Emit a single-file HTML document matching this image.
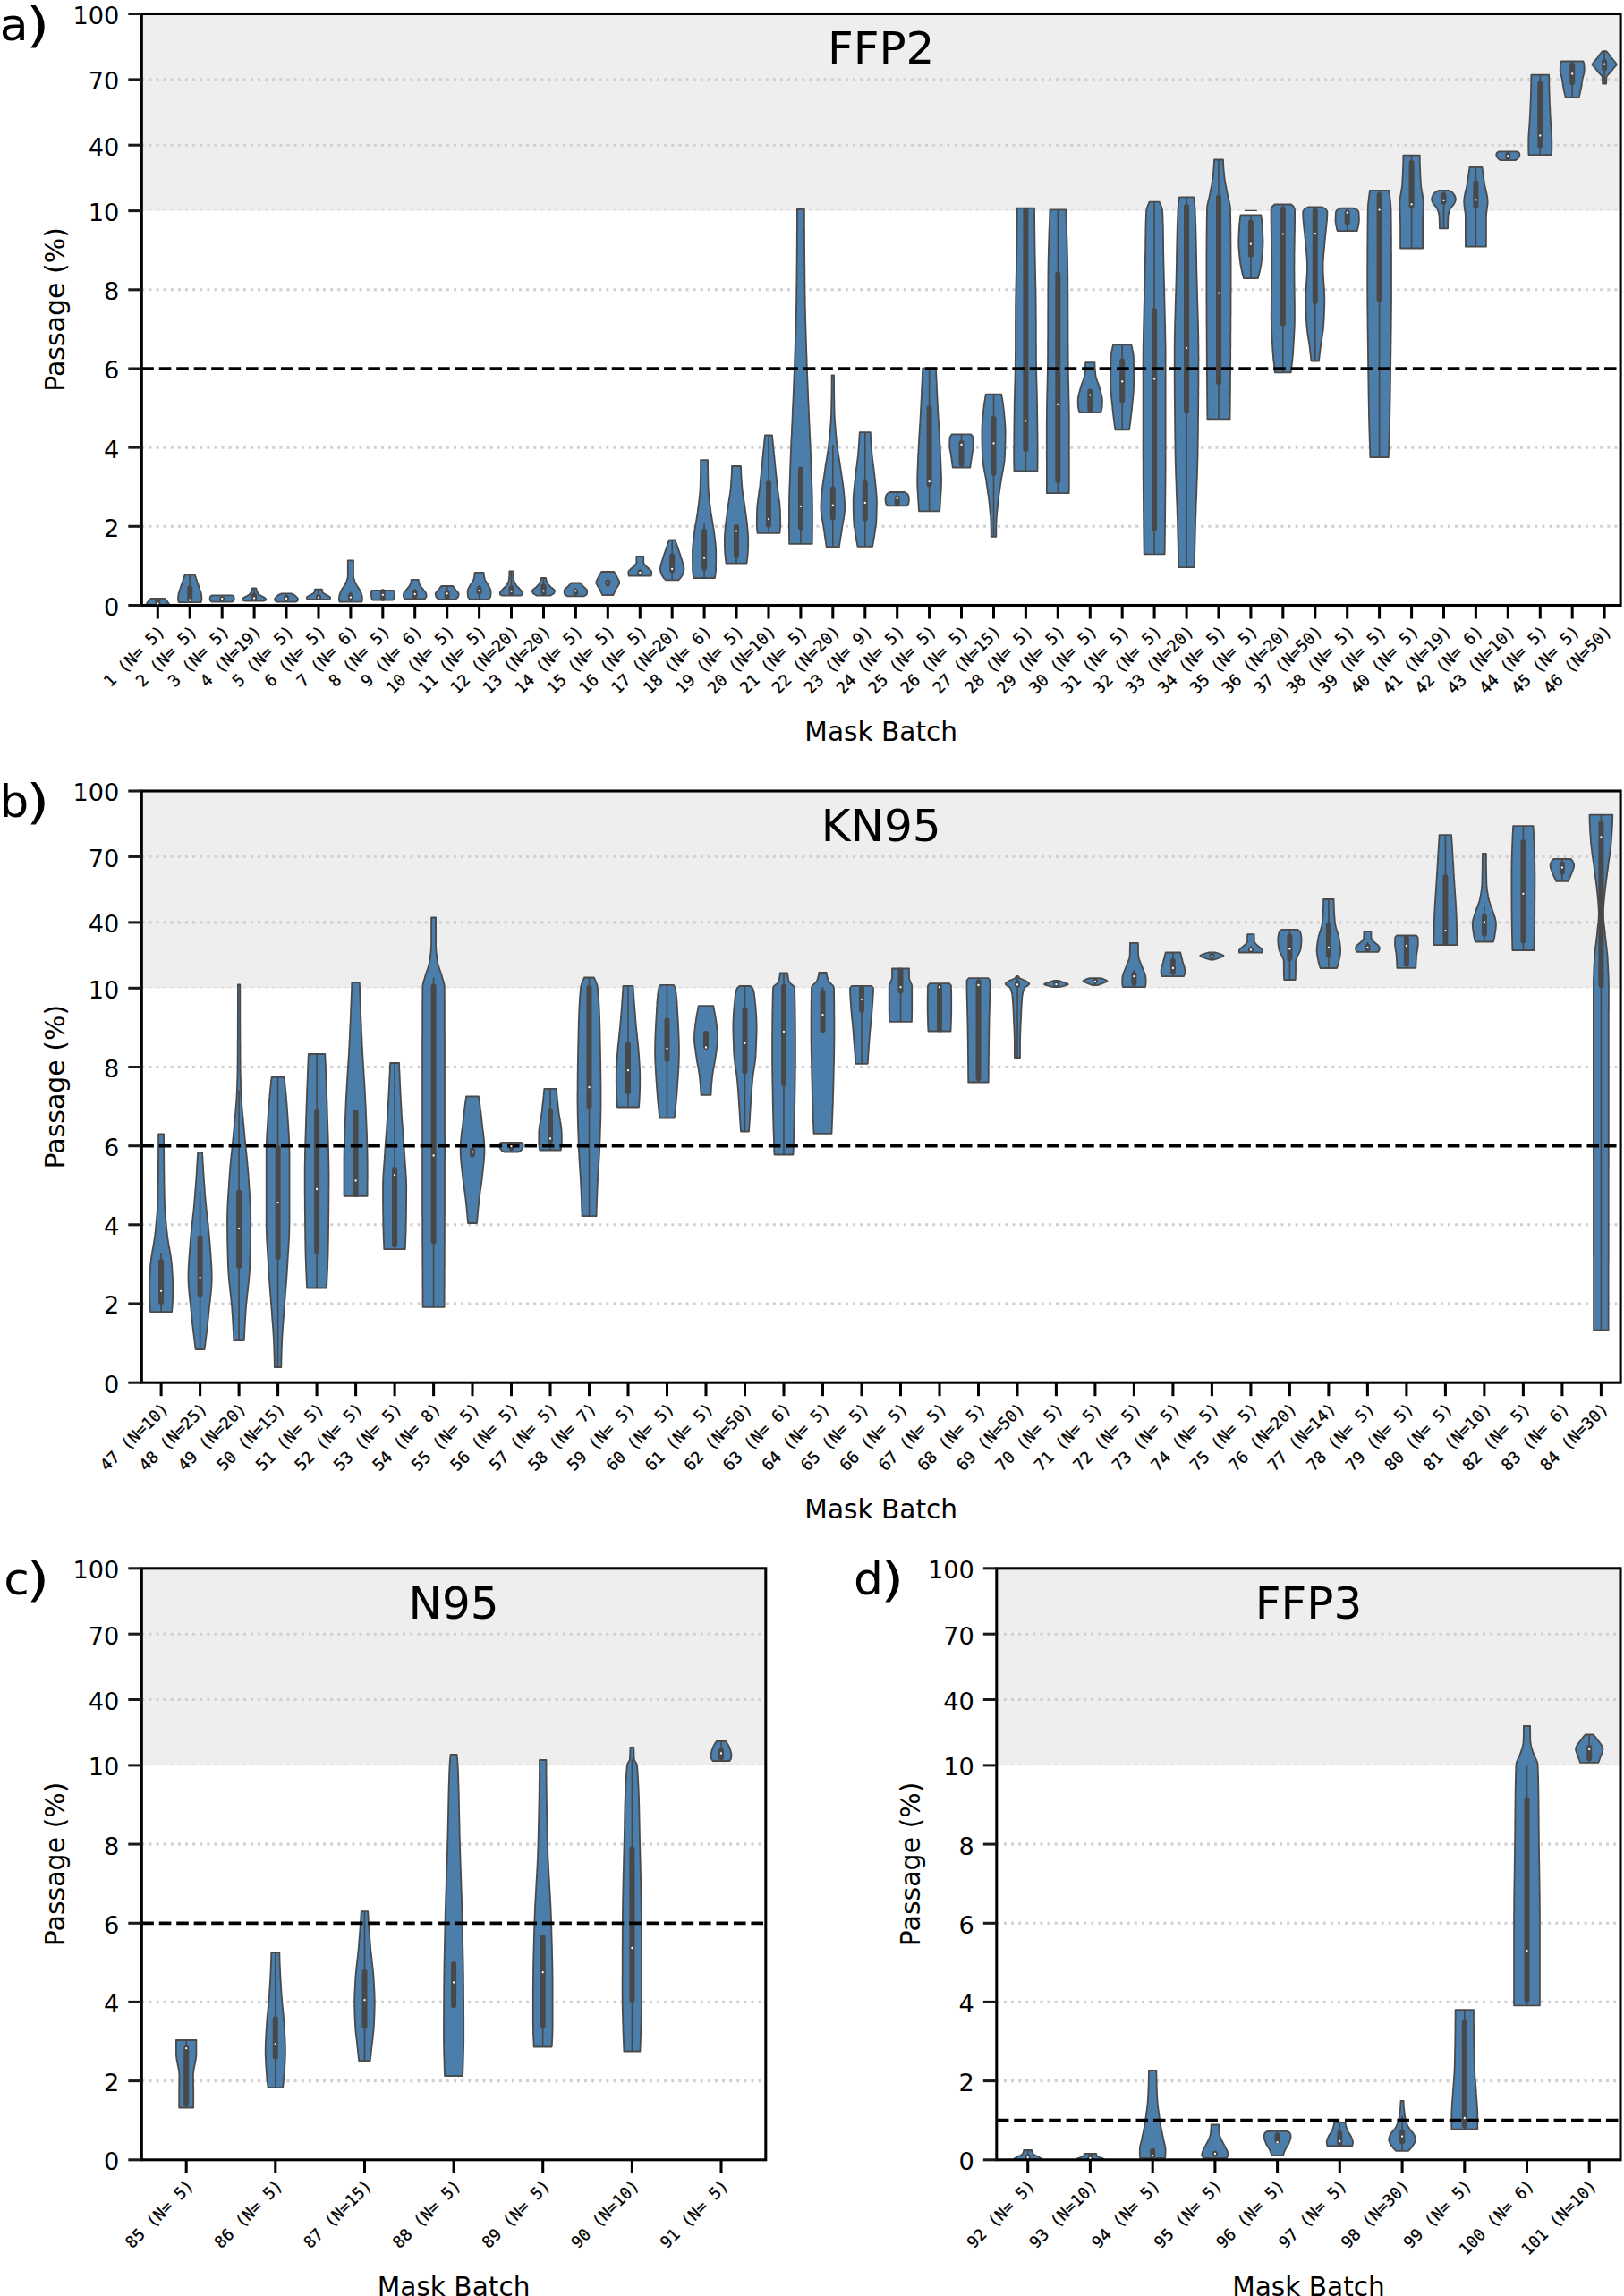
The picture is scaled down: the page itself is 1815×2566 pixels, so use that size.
<!DOCTYPE html>
<html><head><meta charset="utf-8"><title>Mask batch passage</title>
<style>
html,body{margin:0;padding:0;background:#fff}
svg{display:block}
text{font-family:"DejaVu Sans","Liberation Sans",sans-serif;fill:#000}
.m{font-family:"DejaVu Sans Mono","Liberation Mono",monospace;font-size:18.2px;stroke:#000;stroke-width:.3px}
.t{font-size:27.2px}
.l{font-size:29.6px}
.yl{font-size:30px}
.ti{font-size:50px}
.pl{font-size:50.5px}
</style></head><body>
<svg width="1815" height="2566" viewBox="0 0 1815 2566">
<rect width="1815" height="2566" fill="#fff"/>
<g id="panel-a">
<clipPath id="cp-a"><rect x="158.3" y="15.5" width="1652.8" height="661"/></clipPath>
<rect x="158.3" y="15.5" width="1652.8" height="220.1" fill="#eeeeee"/>
<line x1="158.3" y1="588.3" x2="1809.1" y2="588.3" stroke="#d0d0d0" stroke-width="3.06" stroke-dasharray="3.06 5.049"/>
<line x1="158.3" y1="500.1" x2="1809.1" y2="500.1" stroke="#d0d0d0" stroke-width="3.06" stroke-dasharray="3.06 5.049"/>
<line x1="158.3" y1="323.8" x2="1809.1" y2="323.8" stroke="#d0d0d0" stroke-width="3.06" stroke-dasharray="3.06 5.049"/>
<line x1="158.3" y1="162.2" x2="1809.1" y2="162.2" stroke="#d0d0d0" stroke-width="3.06" stroke-dasharray="3.06 5.049"/>
<line x1="158.3" y1="88.9" x2="1809.1" y2="88.9" stroke="#d0d0d0" stroke-width="3.06" stroke-dasharray="3.06 5.049"/>
<line x1="158.3" y1="234.7" x2="1809.1" y2="234.7" stroke="#dedede" stroke-width="1.8" stroke-dasharray="3.06 5.049"/>
<g clip-path="url(#cp-a)">
<path d="M168.5 668.9 L167.5 669.9 L166.6 670.9 L166.3 671.3 L165.8 671.9 L165 673 L164.3 674 L164.3 674 L163.8 675 L163.2 676 L162.8 677 L189.8 677 L189.4 676 L188.9 675 L188.3 674 L188.3 674 L187.6 673 L186.8 671.9 L186.3 671.3 L186 670.9 L185.1 669.9 L184.1 668.9 Z" fill="#4c7eab" stroke="#4a4a4a" stroke-width="1.8" stroke-linejoin="round"/>
<line x1="176.3" y1="668.9" x2="176.3" y2="676.5" stroke="#484848" stroke-width="1.6"/><line x1="176.3" y1="672.3" x2="176.3" y2="673.5" stroke="#484848" stroke-width="6" stroke-linecap="round"/><path d="M206.7 642.3 L205.8 644.9 L204.9 647.4 L204.1 650 L203.2 652.6 L202.5 654.7 L202.4 655.1 L201.5 657.7 L200.6 660.3 L199.8 662.8 L199.3 665.4 L199.2 665.8 L199.1 668 L199 670 L199.1 670.5 L199.7 673.1 L224.7 673.1 L225.4 670.5 L225.4 670 L225.4 668 L225.2 665.8 L225.2 665.4 L224.7 662.8 L223.9 660.3 L223 657.7 L222.1 655.1 L221.9 654.7 L221.3 652.6 L220.4 650 L219.5 647.4 L218.7 644.9 L217.7 642.3 Z" fill="#4c7eab" stroke="#4a4a4a" stroke-width="1.8" stroke-linejoin="round"/>
<line x1="212.2" y1="642.3" x2="212.2" y2="673.1" stroke="#484848" stroke-width="1.6"/><line x1="212.2" y1="657.2" x2="212.2" y2="669.7" stroke="#484848" stroke-width="6" stroke-linecap="round"/><path d="M237.2 665.4 L235.3 666.3 L235.2 666.5 L234.9 667.2 L234.7 668.1 L234.6 669 L234.7 669.9 L234.9 670.8 L235.2 671.5 L235.3 671.7 L237.2 672.6 L259.2 672.6 L261 671.7 L261.2 671.5 L261.5 670.8 L261.7 669.9 L261.8 669 L261.7 668.1 L261.5 667.2 L261.2 666.5 L261 666.3 L259.2 665.4 Z" fill="#4c7eab" stroke="#4a4a4a" stroke-width="1.8" stroke-linejoin="round"/>
<line x1="248.2" y1="665.4" x2="248.2" y2="672.6" stroke="#484848" stroke-width="1.6"/><line x1="248.2" y1="669.2" x2="248.2" y2="669.7" stroke="#484848" stroke-width="6" stroke-linecap="round"/><path d="M281.9 657.4 L281.4 659.2 L281.1 660 L280.8 661 L280 662.8 L279.3 663.9 L278.6 664.5 L276.1 666 L275.5 666.3 L273.1 667.6 L272.3 668.1 L270.9 669.4 L271 669.9 L271.6 671 L274.1 671.7 L294.1 671.7 L296.6 671 L297.2 669.9 L297.3 669.4 L295.9 668.1 L295.1 667.6 L292.7 666.3 L292.1 666 L289.6 664.5 L288.9 663.9 L288.2 662.8 L287.4 661 L287.1 660 L286.8 659.2 L286.3 657.4 Z" fill="#4c7eab" stroke="#4a4a4a" stroke-width="1.8" stroke-linejoin="round"/>
<line x1="284.1" y1="657.4" x2="284.1" y2="671.7" stroke="#484848" stroke-width="1.6"/><line x1="284.1" y1="665.5" x2="284.1" y2="668.8" stroke="#484848" stroke-width="6" stroke-linecap="round"/><path d="M314.5 663.3 L312.1 664.5 L312 664.5 L310.4 665.6 L309.1 666.7 L309 666.8 L307.9 668 L307.2 669.1 L307.1 669.4 L307.2 670.3 L307.5 671.4 L307.5 671.5 L309.5 672.6 L330.5 672.6 L332.5 671.5 L332.6 671.4 L332.9 670.3 L332.9 669.4 L332.9 669.1 L332.2 668 L331 666.8 L330.9 666.7 L329.7 665.6 L328 664.5 L328 664.5 L325.5 663.3 Z" fill="#4c7eab" stroke="#4a4a4a" stroke-width="1.8" stroke-linejoin="round"/>
<line x1="320" y1="663.3" x2="320" y2="672.6" stroke="#484848" stroke-width="1.6"/><line x1="320" y1="668" x2="320" y2="669.5" stroke="#484848" stroke-width="6" stroke-linecap="round"/><path d="M352 658.7 L351.8 660.1 L351.5 661.5 L351.4 662 L350.4 662.9 L347.9 664.4 L347.2 664.8 L345.4 665.8 L343 667.2 L342.9 667.6 L342.9 668.6 L343 669 L344.5 670 L367.5 670 L369 669 L369 668.6 L369.1 667.6 L368.9 667.2 L366.6 665.8 L364.8 664.8 L364 664.4 L361.5 662.9 L360.6 662 L360.4 661.5 L360.1 660.1 L360 658.7 Z" fill="#4c7eab" stroke="#4a4a4a" stroke-width="1.8" stroke-linejoin="round"/>
<line x1="356" y1="658.7" x2="356" y2="670" stroke="#484848" stroke-width="1.6"/><line x1="356" y1="667" x2="356" y2="667.5" stroke="#484848" stroke-width="6" stroke-linecap="round"/><path d="M388.8 626.4 L388.8 629 L388.8 631.5 L388.8 634.1 L388.8 636.7 L388.8 639.2 L388.8 641.8 L388.8 643.6 L388.8 644.4 L388.3 646.9 L387.3 649.5 L386.2 652.1 L385.9 652.8 L384.9 654.6 L383.1 657.2 L381.5 659.8 L381.3 660.2 L380.4 662.3 L379.5 664.9 L379 667.5 L379 667.6 L378.9 670 L378.9 671 L379.6 672.6 L404.2 672.6 L404.9 671 L404.9 670 L404.8 667.6 L404.8 667.5 L404.3 664.9 L403.4 662.3 L402.5 660.2 L402.3 659.8 L400.7 657.2 L398.9 654.6 L397.9 652.8 L397.6 652.1 L396.5 649.5 L395.5 646.9 L395 644.4 L395 643.6 L395 641.8 L395 639.2 L395 636.7 L395 634.1 L395 631.5 L395 629 L395 626.4 Z" fill="#4c7eab" stroke="#4a4a4a" stroke-width="1.8" stroke-linejoin="round"/>
<line x1="391.9" y1="661.5" x2="391.9" y2="672.6" stroke="#484848" stroke-width="1.6"/><line x1="391.9" y1="665.5" x2="391.9" y2="668.8" stroke="#484848" stroke-width="6" stroke-linecap="round"/><path d="M415.6 659.8 L414.8 661 L414.8 661.2 L414.8 662.5 L414.9 663.9 L414.9 665 L414.9 665.2 L415.1 666.6 L415.3 668 L415.5 669 L415.7 669.3 L416.8 670.7 L438.8 670.7 L440 669.3 L440.1 669 L440.4 668 L440.6 666.6 L440.7 665.2 L440.7 665 L440.8 663.9 L440.8 662.5 L440.8 661.2 L440.8 661 L440 659.8 Z" fill="#4c7eab" stroke="#4a4a4a" stroke-width="1.8" stroke-linejoin="round"/>
<line x1="427.8" y1="658.7" x2="427.8" y2="671.3" stroke="#484848" stroke-width="1.6"/><line x1="427.8" y1="661.2" x2="427.8" y2="668.8" stroke="#484848" stroke-width="6" stroke-linecap="round"/><path d="M459.7 647.8 L459.4 650.5 L458.4 653.2 L458.2 653.7 L456.9 655.9 L454.6 658.6 L454 659.3 L452.3 661.3 L450.9 663.9 L450.9 664 L450.9 666.7 L450.9 667 L452.7 669.4 L474.7 669.4 L476.5 667 L476.5 666.7 L476.5 664 L476.5 663.9 L475.2 661.3 L473.4 659.3 L472.9 658.6 L470.6 655.9 L469.2 653.7 L469.1 653.2 L468.1 650.5 L467.7 647.8 Z" fill="#4c7eab" stroke="#4a4a4a" stroke-width="1.8" stroke-linejoin="round"/>
<line x1="463.7" y1="658" x2="463.7" y2="669.4" stroke="#484848" stroke-width="1.6"/><line x1="463.7" y1="661.8" x2="463.7" y2="666" stroke="#484848" stroke-width="6" stroke-linecap="round"/><path d="M493.2 655 L491.8 656.9 L490.4 658.7 L490 659.3 L488.9 660.5 L487.3 662.4 L486.7 663.9 L486.7 664.2 L487.1 666.1 L487.4 667 L488 667.9 L490.2 669.8 L509.2 669.8 L511.4 667.9 L512 667 L512.3 666.1 L512.7 664.2 L512.7 663.9 L512.1 662.4 L510.5 660.5 L509.4 659.3 L508.9 658.7 L507.6 656.9 L506.2 655 Z" fill="#4c7eab" stroke="#4a4a4a" stroke-width="1.8" stroke-linejoin="round"/>
<line x1="499.7" y1="655" x2="499.7" y2="670.7" stroke="#484848" stroke-width="1.6"/><line x1="499.7" y1="662.5" x2="499.7" y2="668" stroke="#484848" stroke-width="6" stroke-linecap="round"/><path d="M530.6 639.9 L530.4 642.6 L529.9 645.3 L529.4 647.3 L529.2 648.1 L527.6 650.8 L525.8 653.5 L525.7 653.7 L524.3 656.2 L523 658.9 L522.6 661.1 L522.6 661.6 L522.7 664.4 L523 666.7 L523.1 667.1 L525.1 669.8 L546.1 669.8 L548.1 667.1 L548.2 666.7 L548.5 664.4 L548.6 661.6 L548.6 661.1 L548.2 658.9 L546.9 656.2 L545.5 653.7 L545.4 653.5 L543.7 650.8 L542.1 648.1 L541.8 647.3 L541.3 645.3 L540.8 642.6 L540.6 639.9 Z" fill="#4c7eab" stroke="#4a4a4a" stroke-width="1.8" stroke-linejoin="round"/>
<line x1="535.6" y1="654" x2="535.6" y2="669.8" stroke="#484848" stroke-width="1.6"/><line x1="535.6" y1="658.1" x2="535.6" y2="661.4" stroke="#484848" stroke-width="6" stroke-linecap="round"/><path d="M569.3 638.4 L569.3 641.1 L569.2 643.9 L569 646.6 L568.9 647.3 L568.5 649.3 L567.3 652 L566.3 653.7 L565.6 654.8 L562.9 657.5 L561.1 659.3 L560.2 660.2 L558.7 662.4 L558.8 663 L559 664.5 L561 665.7 L582 665.7 L584 664.5 L584.3 663 L584.3 662.4 L582.8 660.2 L581.9 659.3 L580.2 657.5 L577.5 654.8 L576.7 653.7 L575.8 652 L574.6 649.3 L574.1 647.3 L574.1 646.6 L573.9 643.9 L573.8 641.1 L573.7 638.4 Z" fill="#4c7eab" stroke="#4a4a4a" stroke-width="1.8" stroke-linejoin="round"/>
<line x1="571.5" y1="638.4" x2="571.5" y2="665.7" stroke="#484848" stroke-width="1.6"/><line x1="571.5" y1="657.2" x2="571.5" y2="662.3" stroke="#484848" stroke-width="6" stroke-linecap="round"/><path d="M604.9 646 L604.4 648.5 L603.3 650.9 L602.9 651.9 L601.9 653.4 L599.6 655.9 L599 656.5 L596.5 658.3 L594.8 660.2 L594.8 660.8 L595.7 663 L595.8 663.2 L600 665.7 L615 665.7 L619.1 663.2 L619.3 663 L620.1 660.8 L620.2 660.2 L618.5 658.3 L616 656.5 L615.3 655.9 L613 653.4 L612.1 651.9 L611.6 650.9 L610.6 648.5 L610.1 646 Z" fill="#4c7eab" stroke="#4a4a4a" stroke-width="1.8" stroke-linejoin="round"/>
<line x1="607.5" y1="646" x2="607.5" y2="665.7" stroke="#484848" stroke-width="1.6"/><line x1="607.5" y1="655.3" x2="607.5" y2="662.3" stroke="#484848" stroke-width="6" stroke-linecap="round"/><path d="M638.4 651.5 L636.7 653.4 L635 655.2 L634.6 655.6 L633 657 L631.1 658.9 L630.6 660.2 L630.6 660.8 L630.7 662.6 L630.9 663.9 L631.2 664.4 L633.9 666.3 L652.9 666.3 L655.6 664.4 L655.9 663.9 L656.1 662.6 L656.2 660.8 L656.2 660.2 L655.7 658.9 L653.7 657 L652.2 655.6 L651.8 655.2 L650.1 653.4 L648.4 651.5 Z" fill="#4c7eab" stroke="#4a4a4a" stroke-width="1.8" stroke-linejoin="round"/>
<line x1="643.4" y1="657" x2="643.4" y2="666.3" stroke="#484848" stroke-width="1.6"/><line x1="643.4" y1="660.9" x2="643.4" y2="662.3" stroke="#484848" stroke-width="6" stroke-linecap="round"/><path d="M672.3 639 L670.7 641.6 L669.3 644.2 L668.7 645.4 L667.9 646.9 L666.6 649.5 L666.3 651 L666.5 652.1 L667.8 654.7 L669.5 657.3 L670.1 658.4 L670.9 660 L672.1 662.6 L673.3 665.2 L685.3 665.2 L686.5 662.6 L687.8 660 L688.5 658.4 L689.1 657.3 L690.9 654.7 L692.2 652.1 L692.3 651 L692 649.5 L690.7 646.9 L689.9 645.4 L689.3 644.2 L687.9 641.6 L686.3 639 Z" fill="#4c7eab" stroke="#4a4a4a" stroke-width="1.8" stroke-linejoin="round"/>
<line x1="679.3" y1="647" x2="679.3" y2="656" stroke="#484848" stroke-width="1.6"/><line x1="679.3" y1="650.7" x2="679.3" y2="652.2" stroke="#484848" stroke-width="6" stroke-linecap="round"/><path d="M711.3 622 L711.3 624.7 L711.3 627.4 L711.3 628.8 L710.8 630.1 L708.4 632.8 L707.9 633.4 L705.5 635.5 L702.6 638.2 L702.4 639 L702.3 640.9 L702.3 642 L703 643.6 L727.6 643.6 L728.3 642 L728.2 640.9 L728.2 639 L727.9 638.2 L725.1 635.5 L722.7 633.4 L722.1 632.8 L719.7 630.1 L719.3 628.8 L719.3 627.4 L719.3 624.7 L719.3 622 Z" fill="#4c7eab" stroke="#4a4a4a" stroke-width="1.8" stroke-linejoin="round"/>
<line x1="715.3" y1="636" x2="715.3" y2="643.6" stroke="#484848" stroke-width="1.6"/><line x1="715.3" y1="639.6" x2="715.3" y2="641.1" stroke="#484848" stroke-width="6" stroke-linecap="round"/><path d="M747.9 603.5 L746.9 606.1 L746 608.8 L745.1 611.4 L744.2 614.1 L743.3 616.7 L743.2 617 L742.4 619.3 L741.5 622 L740.7 624.6 L740.2 626.3 L739.9 627.3 L739 629.9 L738.3 632.6 L737.9 635.2 L737.9 635.5 L738.1 637.8 L738.8 640.5 L739.7 642.9 L739.8 643.1 L741.6 645.8 L744.2 648.4 L758.2 648.4 L760.8 645.8 L762.6 643.1 L762.7 642.9 L763.6 640.5 L764.3 637.8 L764.5 635.5 L764.5 635.2 L764.1 632.6 L763.3 629.9 L762.5 627.3 L762.2 626.3 L761.7 624.6 L760.9 622 L760 619.3 L759.2 617 L759.1 616.7 L758.2 614.1 L757.3 611.4 L756.4 608.8 L755.4 606.1 L754.5 603.5 Z" fill="#4c7eab" stroke="#4a4a4a" stroke-width="1.8" stroke-linejoin="round"/>
<line x1="751.2" y1="603.5" x2="751.2" y2="648.4" stroke="#484848" stroke-width="1.6"/><line x1="751.2" y1="621.4" x2="751.2" y2="637.6" stroke="#484848" stroke-width="6" stroke-linecap="round"/><path d="M783.1 514.1 L783.1 516.6 L783.1 519.2 L783.1 521.7 L783.1 524.2 L783 526.8 L783 529.3 L783 531.9 L782.9 534.4 L782.9 536.9 L782.8 539.5 L782.7 542 L782.7 543.1 L782.7 544.5 L782.5 547.1 L782.4 549.6 L782.2 552.1 L781.9 554.7 L781.6 557.2 L781.3 559.8 L781 562.3 L780.7 564.8 L780.3 567.4 L780 569.9 L779.9 570.8 L779.7 572.4 L779.3 575 L778.9 577.5 L778.5 580 L778.1 582.6 L777.6 585.1 L777.2 587.7 L776.8 590.2 L776.4 592.7 L776 595.3 L775.7 597.8 L775.6 598.6 L775.4 600.3 L775.1 602.9 L774.8 605.4 L774.5 608 L774.3 610.5 L774.1 613 L774 615.6 L774 617 L774 618.1 L774 620.6 L774 623.2 L774 625.7 L774 628.2 L774.1 630.8 L774.1 633.3 L774.1 635.5 L774.1 635.9 L774.2 638.4 L774.5 640.9 L774.8 643.5 L775.1 646 L799.1 646 L799.4 643.5 L799.7 640.9 L800 638.4 L800.1 635.9 L800.1 635.5 L800.1 633.3 L800.2 630.8 L800.2 628.2 L800.2 625.7 L800.2 623.2 L800.2 620.6 L800.2 618.1 L800.2 617 L800.2 615.6 L800.1 613 L799.9 610.5 L799.7 608 L799.4 605.4 L799.1 602.9 L798.8 600.3 L798.6 598.6 L798.5 597.8 L798.2 595.3 L797.8 592.7 L797.4 590.2 L797 587.7 L796.6 585.1 L796.1 582.6 L795.7 580 L795.3 577.5 L794.9 575 L794.5 572.4 L794.3 570.8 L794.2 569.9 L793.9 567.4 L793.6 564.8 L793.2 562.3 L792.9 559.8 L792.6 557.2 L792.3 554.7 L792.1 552.1 L791.9 549.6 L791.7 547.1 L791.6 544.5 L791.5 543.1 L791.5 542 L791.4 539.5 L791.4 536.9 L791.3 534.4 L791.3 531.9 L791.2 529.3 L791.2 526.8 L791.2 524.2 L791.1 521.7 L791.1 519.2 L791.1 516.6 L791.1 514.1 Z" fill="#4c7eab" stroke="#4a4a4a" stroke-width="1.8" stroke-linejoin="round"/>
<line x1="787.1" y1="585.6" x2="787.1" y2="646" stroke="#484848" stroke-width="1.6"/><line x1="787.1" y1="593.7" x2="787.1" y2="634.8" stroke="#484848" stroke-width="6" stroke-linecap="round"/><path d="M818 521 L818 523.5 L817.9 526.1 L817.8 528.6 L817.7 531.1 L817.5 533.6 L817.3 536.2 L817.2 538.7 L817 541.2 L816.8 543.1 L816.8 543.7 L816.6 546.3 L816.3 548.8 L816 551.3 L815.6 553.8 L815.2 556.4 L814.8 558.9 L814.4 561.4 L814 563.9 L813.7 566.5 L813.3 569 L813 570.8 L812.9 571.5 L812.6 574 L812.3 576.6 L811.9 579.1 L811.6 581.6 L811.3 584.1 L811 586.7 L810.8 589.2 L810.7 589.3 L810.5 591.7 L810.3 594.2 L810.1 596.8 L810 599.3 L809.9 601.8 L809.8 604.1 L809.8 604.3 L809.9 606.9 L809.9 609.4 L810 611.9 L810.1 614.4 L810.2 617 L810.2 617 L810.4 619.5 L810.6 622 L810.9 624.5 L811.2 627.1 L811.5 629.6 L834.5 629.6 L834.9 627.1 L835.2 624.5 L835.5 622 L835.7 619.5 L835.8 617 L835.8 617 L836 614.4 L836.1 611.9 L836.2 609.4 L836.2 606.9 L836.2 604.3 L836.2 604.1 L836.2 601.8 L836.1 599.3 L835.9 596.8 L835.8 594.2 L835.5 591.7 L835.3 589.3 L835.3 589.2 L835.1 586.7 L834.8 584.1 L834.5 581.6 L834.2 579.1 L833.8 576.6 L833.5 574 L833.1 571.5 L833 570.8 L832.8 569 L832.4 566.5 L832.1 563.9 L831.7 561.4 L831.3 558.9 L830.9 556.4 L830.5 553.8 L830.1 551.3 L829.8 548.8 L829.5 546.3 L829.3 543.7 L829.2 543.1 L829.1 541.2 L828.9 538.7 L828.7 536.2 L828.6 533.6 L828.4 531.1 L828.3 528.6 L828.2 526.1 L828.1 523.5 L828 521 Z" fill="#4c7eab" stroke="#4a4a4a" stroke-width="1.8" stroke-linejoin="round"/>
<line x1="823" y1="586.5" x2="823" y2="629.6" stroke="#484848" stroke-width="1.6"/><line x1="823" y1="589" x2="823" y2="621" stroke="#484848" stroke-width="6" stroke-linecap="round"/><path d="M855 486.4 L854.7 488.9 L854.5 491.5 L854.2 494 L854 496.6 L853.7 499.1 L853.4 501.7 L853.2 504.2 L852.9 506.8 L852.7 509.3 L852.4 511.8 L852.2 514.4 L852.1 515.4 L851.9 516.9 L851.7 519.5 L851.4 522 L851.2 524.6 L850.9 527.1 L850.7 529.7 L850.4 532.2 L850.1 534.7 L849.9 537.3 L849.6 539.8 L849.4 542.4 L849.3 543.1 L849.1 544.9 L848.7 547.5 L848.4 550 L848 552.5 L847.7 555.1 L847.3 557.6 L847 560.2 L846.7 562.7 L846.4 565.3 L846.2 567.8 L846.1 570.4 L846.1 570.8 L846 572.9 L845.9 575.4 L845.9 578 L845.8 580.5 L845.8 583.1 L845.8 585.6 L845.8 585.6 L845.8 588.2 L846 590.7 L846.3 593.3 L846.6 595.8 L871.4 595.8 L871.7 593.3 L871.9 590.7 L872.1 588.2 L872.2 585.6 L872.2 585.6 L872.2 583.1 L872.1 580.5 L872.1 578 L872 575.4 L871.9 572.9 L871.9 570.8 L871.9 570.4 L871.7 567.8 L871.5 565.3 L871.3 562.7 L871 560.2 L870.6 557.6 L870.3 555.1 L869.9 552.5 L869.5 550 L869.2 547.5 L868.9 544.9 L868.7 543.1 L868.6 542.4 L868.3 539.8 L868.1 537.3 L867.8 534.7 L867.5 532.2 L867.3 529.7 L867 527.1 L866.8 524.6 L866.5 522 L866.3 519.5 L866 516.9 L865.9 515.4 L865.8 514.4 L865.5 511.8 L865.3 509.3 L865 506.8 L864.7 504.2 L864.5 501.7 L864.2 499.1 L864 496.6 L863.7 494 L863.5 491.5 L863.2 488.9 L863 486.4 Z" fill="#4c7eab" stroke="#4a4a4a" stroke-width="1.8" stroke-linejoin="round"/>
<line x1="859" y1="486.4" x2="859" y2="595.8" stroke="#484848" stroke-width="1.6"/><line x1="859" y1="540.1" x2="859" y2="586.8" stroke="#484848" stroke-width="6" stroke-linecap="round"/><path d="M890.9 233.9 L890.9 236.4 L890.9 238.9 L890.9 241.4 L890.9 243.9 L890.9 246.4 L890.9 249 L890.9 251.5 L890.9 254 L890.9 256.5 L890.8 259 L890.8 261.5 L890.8 264 L890.8 266.5 L890.8 269 L890.8 271.5 L890.8 274.1 L890.7 276.6 L890.7 279.1 L890.7 281.6 L890.7 284.1 L890.7 286.6 L890.6 289.1 L890.6 291.6 L890.6 294.1 L890.6 296.6 L890.5 299.1 L890.5 301.7 L890.5 304.2 L890.5 306.7 L890.5 309.2 L890.4 311.7 L890.4 314.2 L890.4 316.7 L890.3 319.2 L890.3 321.7 L890.3 323.5 L890.3 324.2 L890.3 326.7 L890.2 329.3 L890.2 331.8 L890.2 334.3 L890.1 336.8 L890.1 339.3 L890 341.8 L890 344.3 L889.9 346.8 L889.8 349.3 L889.8 351.8 L889.7 354.4 L889.7 356.9 L889.6 359.4 L889.5 361.9 L889.5 364.4 L889.4 366.9 L889.3 369.4 L889.2 371.9 L889.2 374.4 L889.1 376.9 L889 379.4 L888.9 382 L888.8 384.5 L888.7 387 L888.7 389.5 L888.6 392 L888.5 394.5 L888.4 397 L888.3 399.5 L888.2 402 L888.2 404.5 L888.1 407 L888 409.6 L887.9 412 L887.9 412.1 L887.8 414.6 L887.7 417.1 L887.6 419.6 L887.5 422.1 L887.4 424.6 L887.3 427.1 L887.2 429.6 L887.1 432.1 L887 434.7 L886.9 437.2 L886.8 439.7 L886.7 442.2 L886.6 444.7 L886.5 447.2 L886.3 449.7 L886.2 452.2 L886.1 454.7 L886 457.2 L885.9 459.7 L885.9 460 L885.8 462.3 L885.7 464.8 L885.6 467.3 L885.5 469.8 L885.4 472.3 L885.2 474.8 L885.1 477.3 L885 479.8 L884.9 482.3 L884.8 484.8 L884.7 487.3 L884.5 489.9 L884.4 492.4 L884.3 494.9 L884.2 497.4 L884.1 499.9 L884 502.4 L883.9 504.9 L883.8 507.4 L883.7 509.9 L883.6 512.4 L883.5 515 L883.5 515.4 L883.4 517.5 L883.3 520 L883.2 522.5 L883.1 525 L883 527.5 L883 530 L882.9 532.5 L882.8 535 L882.7 537.5 L882.6 540 L882.5 542.6 L882.4 545.1 L882.3 547.6 L882.2 550.1 L882.2 552.6 L882.1 555.1 L882 557.6 L882 560.1 L882 562.6 L881.9 565.1 L881.9 567.6 L881.9 570.2 L881.9 570.8 L881.9 572.7 L881.9 575.2 L881.9 577.7 L881.9 580.2 L881.9 582.7 L881.9 585.2 L881.9 587.7 L881.9 590.2 L881.9 592.7 L882 595.3 L882 597.8 L882 600.3 L882 602.8 L882.1 605.3 L882.1 607.8 L907.7 607.8 L907.7 605.3 L907.8 602.8 L907.8 600.3 L907.8 597.8 L907.8 595.3 L907.9 592.7 L907.9 590.2 L907.9 587.7 L907.9 585.2 L907.9 582.7 L907.9 580.2 L907.9 577.7 L907.9 575.2 L907.9 572.7 L907.9 570.8 L907.9 570.2 L907.9 567.6 L907.9 565.1 L907.8 562.6 L907.8 560.1 L907.8 557.6 L907.7 555.1 L907.6 552.6 L907.6 550.1 L907.5 547.6 L907.4 545.1 L907.3 542.6 L907.2 540 L907.1 537.5 L907 535 L906.9 532.5 L906.9 530 L906.8 527.5 L906.7 525 L906.6 522.5 L906.5 520 L906.4 517.5 L906.3 515.4 L906.3 515 L906.2 512.4 L906.1 509.9 L906 507.4 L905.9 504.9 L905.8 502.4 L905.7 499.9 L905.6 497.4 L905.5 494.9 L905.4 492.4 L905.3 489.9 L905.1 487.3 L905 484.8 L904.9 482.3 L904.8 479.8 L904.7 477.3 L904.6 474.8 L904.4 472.3 L904.3 469.8 L904.2 467.3 L904.1 464.8 L904 462.3 L903.9 460 L903.9 459.7 L903.8 457.2 L903.7 454.7 L903.6 452.2 L903.5 449.7 L903.3 447.2 L903.2 444.7 L903.1 442.2 L903 439.7 L902.9 437.2 L902.8 434.7 L902.7 432.1 L902.6 429.6 L902.5 427.1 L902.4 424.6 L902.3 422.1 L902.2 419.6 L902.1 417.1 L902 414.6 L901.9 412.1 L901.9 412 L901.8 409.6 L901.7 407 L901.6 404.5 L901.6 402 L901.5 399.5 L901.4 397 L901.3 394.5 L901.2 392 L901.1 389.5 L901.1 387 L901 384.5 L900.9 382 L900.8 379.4 L900.7 376.9 L900.7 374.4 L900.6 371.9 L900.5 369.4 L900.4 366.9 L900.4 364.4 L900.3 361.9 L900.2 359.4 L900.1 356.9 L900.1 354.4 L900 351.8 L900 349.3 L899.9 346.8 L899.8 344.3 L899.8 341.8 L899.7 339.3 L899.7 336.8 L899.7 334.3 L899.6 331.8 L899.6 329.3 L899.5 326.7 L899.5 324.2 L899.5 323.5 L899.5 321.7 L899.5 319.2 L899.4 316.7 L899.4 314.2 L899.4 311.7 L899.4 309.2 L899.3 306.7 L899.3 304.2 L899.3 301.7 L899.3 299.1 L899.2 296.6 L899.2 294.1 L899.2 291.6 L899.2 289.1 L899.1 286.6 L899.1 284.1 L899.1 281.6 L899.1 279.1 L899.1 276.6 L899 274.1 L899 271.5 L899 269 L899 266.5 L899 264 L899 261.5 L899 259 L899 256.5 L898.9 254 L898.9 251.5 L898.9 249 L898.9 246.4 L898.9 243.9 L898.9 241.4 L898.9 238.9 L898.9 236.4 L898.9 233.9 Z" fill="#4c7eab" stroke="#4a4a4a" stroke-width="1.8" stroke-linejoin="round"/>
<line x1="894.9" y1="521.9" x2="894.9" y2="607.8" stroke="#484848" stroke-width="1.6"/><line x1="894.9" y1="524.4" x2="894.9" y2="589.6" stroke="#484848" stroke-width="6" stroke-linecap="round"/><path d="M929.6 419.5 L929.6 422 L929.6 424.6 L929.6 427.1 L929.6 429.6 L929.6 432.1 L929.6 434.7 L929.5 437.2 L929.5 439.7 L929.5 442.2 L929.4 444.8 L929.4 447.3 L929.3 449.8 L929.3 452.3 L929.2 454.9 L929.2 457.4 L929.1 459.9 L929.1 460 L929.1 462.4 L928.9 465 L928.8 467.5 L928.7 470 L928.5 472.6 L928.3 475.1 L928.1 477.6 L928 478.6 L927.9 480.1 L927.7 482.7 L927.5 485.2 L927.2 487.7 L927 490.2 L926.7 492.8 L926.4 495.3 L926.2 497 L926.1 497.8 L925.8 500.3 L925.5 502.9 L925.1 505.4 L924.7 507.9 L924.3 510.4 L923.9 513 L923.5 515.5 L923 518 L922.6 520.6 L922.3 523.1 L922 524.7 L921.9 525.6 L921.5 528.1 L921.2 530.7 L920.8 533.2 L920.4 535.7 L920 538.2 L919.7 540.8 L919.3 543.3 L919 545.8 L918.7 548.3 L918.5 550.9 L918.3 552.4 L918.2 553.4 L918 555.9 L917.8 558.4 L917.6 561 L917.5 563.5 L917.4 566 L917.4 567.1 L917.5 568.6 L917.6 571.1 L917.9 573.6 L918.2 576.1 L918.6 578.7 L919.1 581.2 L919.5 583.7 L919.9 586.2 L920.4 588.8 L920.4 589.3 L920.7 591.3 L921.1 593.8 L921.5 596.3 L921.8 598.9 L922.2 601.4 L922.6 603.9 L923 606.4 L923.4 609 L923.8 611.5 L937.8 611.5 L938.2 609 L938.6 606.4 L939 603.9 L939.4 601.4 L939.8 598.9 L940.2 596.3 L940.6 593.8 L940.9 591.3 L941.2 589.3 L941.3 588.8 L941.7 586.2 L942.2 583.7 L942.6 581.2 L943.1 578.7 L943.5 576.1 L943.8 573.6 L944.1 571.1 L944.2 568.6 L944.2 567.1 L944.2 566 L944.1 563.5 L944 561 L943.8 558.4 L943.6 555.9 L943.4 553.4 L943.3 552.4 L943.2 550.9 L942.9 548.3 L942.7 545.8 L942.3 543.3 L942 540.8 L941.6 538.2 L941.3 535.7 L940.9 533.2 L940.5 530.7 L940.1 528.1 L939.8 525.6 L939.6 524.7 L939.4 523.1 L939 520.6 L938.6 518 L938.2 515.5 L937.8 513 L937.4 510.4 L937 507.9 L936.6 505.4 L936.2 502.9 L935.9 500.3 L935.5 497.8 L935.4 497 L935.2 495.3 L934.9 492.8 L934.7 490.2 L934.4 487.7 L934.2 485.2 L934 482.7 L933.7 480.1 L933.6 478.6 L933.6 477.6 L933.4 475.1 L933.2 472.6 L933 470 L932.8 467.5 L932.7 465 L932.6 462.4 L932.5 460 L932.5 459.9 L932.5 457.4 L932.4 454.9 L932.4 452.3 L932.3 449.8 L932.3 447.3 L932.2 444.8 L932.2 442.2 L932.2 439.7 L932.1 437.2 L932.1 434.7 L932.1 432.1 L932.1 429.6 L932.1 427.1 L932 424.6 L932 422 L932 419.5 Z" fill="#4c7eab" stroke="#4a4a4a" stroke-width="1.8" stroke-linejoin="round"/>
<line x1="930.8" y1="497" x2="930.8" y2="611.5" stroke="#484848" stroke-width="1.6"/><line x1="930.8" y1="546.5" x2="930.8" y2="578.5" stroke="#484848" stroke-width="6" stroke-linecap="round"/><path d="M960.8 483.1 L960.6 485.6 L960.5 488.1 L960.3 490.6 L960.2 493.1 L960 495.6 L959.8 498.1 L959.6 500.6 L959.4 503.1 L959.2 505.7 L959.2 506.2 L959 508.2 L958.7 510.7 L958.4 513.2 L958.1 515.7 L957.8 518.2 L957.5 520.7 L957.1 523.2 L956.8 525.7 L956.5 528.2 L956.2 530.7 L955.9 533.2 L955.9 533.9 L955.7 535.7 L955.4 538.2 L955.2 540.7 L954.9 543.2 L954.6 545.7 L954.4 548.3 L954.2 550.8 L954 553.3 L953.8 555.8 L953.7 558.3 L953.7 560.8 L953.7 561.6 L953.7 563.3 L953.7 565.8 L953.7 568.3 L953.8 570.8 L953.8 573.3 L953.9 575.8 L954 578.3 L954.1 580.1 L954.1 580.8 L954.3 583.3 L954.5 585.8 L954.8 588.3 L955.2 590.9 L955.6 593.4 L955.9 595.9 L956.3 598.4 L956.4 598.6 L956.7 600.9 L957.1 603.4 L957.5 605.9 L958 608.4 L958.5 610.9 L975.1 610.9 L975.5 608.4 L976 605.9 L976.4 603.4 L976.8 600.9 L977.2 598.6 L977.2 598.4 L977.6 595.9 L978 593.4 L978.3 590.9 L978.7 588.3 L979 585.8 L979.3 583.3 L979.4 580.8 L979.5 580.1 L979.5 578.3 L979.6 575.8 L979.7 573.3 L979.7 570.8 L979.8 568.3 L979.8 565.8 L979.9 563.3 L979.9 561.6 L979.9 560.8 L979.8 558.3 L979.7 555.8 L979.5 553.3 L979.4 550.8 L979.1 548.3 L978.9 545.7 L978.6 543.2 L978.4 540.7 L978.1 538.2 L977.8 535.7 L977.7 533.9 L977.6 533.2 L977.3 530.7 L977 528.2 L976.7 525.7 L976.4 523.2 L976.1 520.7 L975.7 518.2 L975.4 515.7 L975.1 513.2 L974.8 510.7 L974.5 508.2 L974.4 506.2 L974.3 505.7 L974.1 503.1 L973.9 500.6 L973.7 498.1 L973.5 495.6 L973.3 493.1 L973.2 490.6 L973 488.1 L972.9 485.6 L972.8 483.1 Z" fill="#4c7eab" stroke="#4a4a4a" stroke-width="1.8" stroke-linejoin="round"/>
<line x1="966.8" y1="483.1" x2="966.8" y2="610.9" stroke="#484848" stroke-width="1.6"/><line x1="966.8" y1="540.1" x2="966.8" y2="579.4" stroke="#484848" stroke-width="6" stroke-linecap="round"/><path d="M994.4 550 L991.2 551.9 L991.2 552 L990.3 553.8 L989.7 555.7 L989.5 557.6 L989.5 557.9 L989.6 559.6 L989.8 561.5 L990.2 563 L990.4 563.4 L992.2 565.3 L1013.2 565.3 L1015 563.4 L1015.2 563 L1015.5 561.5 L1015.8 559.6 L1015.9 557.9 L1015.9 557.6 L1015.6 555.7 L1015.1 553.8 L1014.2 552 L1014.1 551.9 L1011 550 Z" fill="#4c7eab" stroke="#4a4a4a" stroke-width="1.8" stroke-linejoin="round"/>
<line x1="1002.7" y1="550" x2="1002.7" y2="565.3" stroke="#484848" stroke-width="1.6"/><line x1="1002.7" y1="556.7" x2="1002.7" y2="562.8" stroke="#484848" stroke-width="6" stroke-linecap="round"/><path d="M1031.2 411.5 L1031.1 414 L1031 416.6 L1030.9 419.1 L1030.8 421.6 L1030.7 424.2 L1030.6 426.7 L1030.5 429.3 L1030.3 431.8 L1030.2 434.3 L1030.1 436.9 L1030 439.4 L1029.9 441.9 L1029.8 444.5 L1029.6 447 L1029.5 449.5 L1029.4 452.1 L1029.3 454.6 L1029.2 455.4 L1029.1 457.2 L1029 459.7 L1028.9 462.2 L1028.7 464.8 L1028.6 467.3 L1028.4 469.8 L1028.3 472.4 L1028.1 474.9 L1027.9 477.4 L1027.8 480 L1027.6 482.5 L1027.5 485.1 L1027.3 487.6 L1027.2 490.1 L1027 492.7 L1026.9 495.2 L1026.7 497.7 L1026.6 500.3 L1026.5 502.8 L1026.4 505.4 L1026.2 507.9 L1026.1 510.4 L1026.1 510.8 L1026 513 L1025.9 515.5 L1025.8 518 L1025.7 520.6 L1025.6 523.1 L1025.5 525.6 L1025.4 528.2 L1025.3 530.7 L1025.3 533.3 L1025.2 535.8 L1025.2 538.3 L1025.2 538.6 L1025.2 540.9 L1025.3 543.4 L1025.4 545.9 L1025.6 548.5 L1025.7 551 L1025.9 553.5 L1026.1 556.1 L1026.1 557 L1026.2 558.6 L1026.4 561.2 L1026.5 563.7 L1026.7 566.2 L1026.8 568.8 L1027 571.3 L1050.2 571.3 L1050.4 568.8 L1050.6 566.2 L1050.7 563.7 L1050.9 561.2 L1051 558.6 L1051.1 557 L1051.2 556.1 L1051.3 553.5 L1051.5 551 L1051.7 548.5 L1051.8 545.9 L1051.9 543.4 L1052 540.9 L1052 538.6 L1052 538.3 L1052 535.8 L1052 533.3 L1051.9 530.7 L1051.8 528.2 L1051.7 525.6 L1051.6 523.1 L1051.5 520.6 L1051.4 518 L1051.3 515.5 L1051.2 513 L1051.1 510.8 L1051.1 510.4 L1051 507.9 L1050.9 505.4 L1050.8 502.8 L1050.6 500.3 L1050.5 497.7 L1050.4 495.2 L1050.2 492.7 L1050.1 490.1 L1049.9 487.6 L1049.8 485.1 L1049.6 482.5 L1049.4 480 L1049.3 477.4 L1049.1 474.9 L1049 472.4 L1048.8 469.8 L1048.7 467.3 L1048.5 464.8 L1048.4 462.2 L1048.2 459.7 L1048.1 457.2 L1048 455.4 L1048 454.6 L1047.9 452.1 L1047.7 449.5 L1047.6 447 L1047.5 444.5 L1047.4 441.9 L1047.2 439.4 L1047.1 436.9 L1047 434.3 L1046.9 431.8 L1046.8 429.3 L1046.7 426.7 L1046.6 424.2 L1046.4 421.6 L1046.3 419.1 L1046.2 416.6 L1046.1 414 L1046 411.5 Z" fill="#4c7eab" stroke="#4a4a4a" stroke-width="1.8" stroke-linejoin="round"/>
<line x1="1038.6" y1="411.5" x2="1038.6" y2="571.3" stroke="#484848" stroke-width="1.6"/><line x1="1038.6" y1="456.1" x2="1038.6" y2="541.6" stroke="#484848" stroke-width="6" stroke-linecap="round"/><path d="M1063.8 485.4 L1061.9 488 L1061.9 488 L1061.5 490.7 L1061.3 493.3 L1061.2 496 L1061.4 498.6 L1061.6 501.3 L1062 503.9 L1062.5 506.6 L1062.9 509.2 L1063.1 510.8 L1063.3 511.9 L1063.7 514.5 L1064 517.2 L1064.4 519.9 L1064.7 522.5 L1084.3 522.5 L1084.7 519.9 L1085.1 517.2 L1085.4 514.5 L1085.8 511.9 L1085.9 510.8 L1086.2 509.2 L1086.6 506.6 L1087.1 503.9 L1087.5 501.3 L1087.7 498.6 L1087.8 496 L1087.8 493.3 L1087.5 490.7 L1087.2 488 L1087.1 488 L1085.2 485.4 Z" fill="#4c7eab" stroke="#4a4a4a" stroke-width="1.8" stroke-linejoin="round"/>
<line x1="1074.5" y1="485.4" x2="1074.5" y2="522.5" stroke="#484848" stroke-width="1.6"/><line x1="1074.5" y1="494.9" x2="1074.5" y2="518.5" stroke="#484848" stroke-width="6" stroke-linecap="round"/><path d="M1101.8 440.6 L1101.3 443.1 L1100.9 445.7 L1100.5 448.2 L1100.1 450.7 L1099.7 453.2 L1099.5 455.4 L1099.4 455.8 L1099.2 458.3 L1098.9 460.8 L1098.6 463.4 L1098.4 465.9 L1098.1 468.4 L1097.9 470.9 L1097.7 473.5 L1097.6 476 L1097.5 478.5 L1097.4 481.1 L1097.4 483.1 L1097.4 483.6 L1097.4 486.1 L1097.4 488.6 L1097.4 491.2 L1097.5 493.7 L1097.6 496.2 L1097.6 498.8 L1097.7 501.3 L1097.8 503.8 L1097.9 506.3 L1098 508.9 L1098.1 510.8 L1098.1 511.4 L1098.3 513.9 L1098.6 516.5 L1098.9 519 L1099.3 521.5 L1099.8 524 L1100.2 526.6 L1100.7 529.1 L1101.2 531.6 L1101.7 534.2 L1102.1 536.7 L1102.4 538.6 L1102.5 539.2 L1102.8 541.7 L1103.2 544.3 L1103.6 546.8 L1103.9 549.3 L1104.3 551.9 L1104.7 554.4 L1105 556.9 L1105.3 559.4 L1105.6 562 L1105.9 564.5 L1106.1 566.3 L1106.1 567 L1106.4 569.6 L1106.6 572.1 L1106.9 574.6 L1107.1 577.1 L1107.3 579.7 L1107.4 582.2 L1107.5 584.7 L1107.5 584.7 L1107.5 587.3 L1107.6 589.8 L1107.6 592.3 L1107.7 594.8 L1107.7 597.4 L1107.7 599.9 L1113.3 599.9 L1113.3 597.4 L1113.3 594.8 L1113.3 592.3 L1113.4 589.8 L1113.4 587.3 L1113.5 584.7 L1113.5 584.7 L1113.6 582.2 L1113.7 579.7 L1113.9 577.1 L1114.1 574.6 L1114.3 572.1 L1114.6 569.6 L1114.8 567 L1114.9 566.3 L1115.1 564.5 L1115.3 562 L1115.6 559.4 L1116 556.9 L1116.3 554.4 L1116.6 551.9 L1117 549.3 L1117.4 546.8 L1117.7 544.3 L1118.1 541.7 L1118.5 539.2 L1118.6 538.6 L1118.9 536.7 L1119.3 534.2 L1119.8 531.6 L1120.2 529.1 L1120.7 526.6 L1121.2 524 L1121.6 521.5 L1122 519 L1122.4 516.5 L1122.7 513.9 L1122.8 511.4 L1122.9 510.8 L1123 508.9 L1123.1 506.3 L1123.2 503.8 L1123.2 501.3 L1123.3 498.8 L1123.4 496.2 L1123.5 493.7 L1123.5 491.2 L1123.5 488.6 L1123.6 486.1 L1123.6 483.6 L1123.6 483.1 L1123.6 481.1 L1123.5 478.5 L1123.4 476 L1123.2 473.5 L1123 470.9 L1122.8 468.4 L1122.6 465.9 L1122.3 463.4 L1122.1 460.8 L1121.8 458.3 L1121.5 455.8 L1121.5 455.4 L1121.2 453.2 L1120.9 450.7 L1120.5 448.2 L1120.1 445.7 L1119.6 443.1 L1119.2 440.6 Z" fill="#4c7eab" stroke="#4a4a4a" stroke-width="1.8" stroke-linejoin="round"/>
<line x1="1110.5" y1="440.6" x2="1110.5" y2="599.9" stroke="#484848" stroke-width="1.6"/><line x1="1110.5" y1="468.1" x2="1110.5" y2="528.7" stroke="#484848" stroke-width="6" stroke-linecap="round"/><path d="M1136.8 232.6 L1136.8 235.1 L1136.8 237.6 L1136.7 240.1 L1136.7 242.6 L1136.7 245.2 L1136.7 247.7 L1136.6 250.2 L1136.6 252.7 L1136.6 255.2 L1136.5 257.7 L1136.5 260.2 L1136.5 262.7 L1136.4 265.3 L1136.4 267.8 L1136.4 270.3 L1136.3 272.8 L1136.3 275.3 L1136.3 277.8 L1136.2 280.3 L1136.2 282.8 L1136.2 285.4 L1136.1 287.9 L1136.1 289.3 L1136.1 290.4 L1136.1 292.9 L1136 295.4 L1136 297.9 L1135.9 300.4 L1135.9 302.9 L1135.8 305.4 L1135.7 308 L1135.7 310.5 L1135.6 313 L1135.6 315.5 L1135.5 318 L1135.5 320.5 L1135.4 323 L1135.4 325.5 L1135.3 328.1 L1135.3 330.6 L1135.2 333.1 L1135.2 335.6 L1135.2 338.1 L1135.1 340.6 L1135.1 343.1 L1135.1 344.7 L1135.1 345.6 L1135.1 348.2 L1135.1 350.7 L1135.1 353.2 L1135.1 355.7 L1135 358.2 L1135 360.7 L1135 363.2 L1135 365.7 L1135 368.2 L1135 370.8 L1135 373.3 L1135 375.8 L1135 378.3 L1135 380.8 L1135 383.3 L1135 385.8 L1135 388.3 L1135 390.9 L1134.9 393.4 L1134.9 395.9 L1134.9 398.4 L1134.9 400 L1134.9 400.9 L1134.9 403.4 L1134.8 405.9 L1134.8 408.4 L1134.8 410.9 L1134.7 413.5 L1134.7 416 L1134.6 418.5 L1134.5 421 L1134.5 423.5 L1134.4 426 L1134.3 428.5 L1134.3 431 L1134.2 433.6 L1134.1 436.1 L1134.1 438.6 L1134 441.1 L1133.9 443.6 L1133.9 446.1 L1133.8 448.6 L1133.8 451.1 L1133.7 453.7 L1133.7 455.4 L1133.7 456.2 L1133.7 458.7 L1133.6 461.2 L1133.6 463.7 L1133.6 466.2 L1133.5 468.7 L1133.5 471.2 L1133.5 473.7 L1133.4 476.3 L1133.4 478.8 L1133.4 481.3 L1133.4 483.8 L1133.3 486.3 L1133.3 488.8 L1133.3 491.3 L1133.3 493.8 L1133.3 496.4 L1133.2 498.9 L1133.2 501.4 L1133.2 503.9 L1133.2 506.4 L1133.2 508.9 L1133.2 510.8 L1133.2 511.4 L1133.2 513.9 L1133.2 516.5 L1133.3 519 L1133.3 521.5 L1133.4 524 L1133.4 526.5 L1159.4 526.5 L1159.5 524 L1159.5 521.5 L1159.5 519 L1159.6 516.5 L1159.6 513.9 L1159.6 511.4 L1159.6 510.8 L1159.6 508.9 L1159.6 506.4 L1159.6 503.9 L1159.6 501.4 L1159.6 498.9 L1159.6 496.4 L1159.5 493.8 L1159.5 491.3 L1159.5 488.8 L1159.5 486.3 L1159.5 483.8 L1159.4 481.3 L1159.4 478.8 L1159.4 476.3 L1159.3 473.7 L1159.3 471.2 L1159.3 468.7 L1159.2 466.2 L1159.2 463.7 L1159.2 461.2 L1159.1 458.7 L1159.1 456.2 L1159.1 455.4 L1159.1 453.7 L1159 451.1 L1159 448.6 L1158.9 446.1 L1158.9 443.6 L1158.8 441.1 L1158.8 438.6 L1158.7 436.1 L1158.6 433.6 L1158.6 431 L1158.5 428.5 L1158.4 426 L1158.3 423.5 L1158.3 421 L1158.2 418.5 L1158.2 416 L1158.1 413.5 L1158.1 410.9 L1158 408.4 L1158 405.9 L1157.9 403.4 L1157.9 400.9 L1157.9 400 L1157.9 398.4 L1157.9 395.9 L1157.9 393.4 L1157.9 390.9 L1157.9 388.3 L1157.8 385.8 L1157.8 383.3 L1157.8 380.8 L1157.8 378.3 L1157.8 375.8 L1157.8 373.3 L1157.8 370.8 L1157.8 368.2 L1157.8 365.7 L1157.8 363.2 L1157.8 360.7 L1157.8 358.2 L1157.8 355.7 L1157.7 353.2 L1157.7 350.7 L1157.7 348.2 L1157.7 345.6 L1157.7 344.7 L1157.7 343.1 L1157.7 340.6 L1157.6 338.1 L1157.6 335.6 L1157.6 333.1 L1157.5 330.6 L1157.5 328.1 L1157.4 325.5 L1157.4 323 L1157.3 320.5 L1157.3 318 L1157.2 315.5 L1157.2 313 L1157.1 310.5 L1157.1 308 L1157 305.4 L1157 302.9 L1156.9 300.4 L1156.9 297.9 L1156.8 295.4 L1156.8 292.9 L1156.7 290.4 L1156.7 289.3 L1156.7 287.9 L1156.6 285.4 L1156.6 282.8 L1156.6 280.3 L1156.5 277.8 L1156.5 275.3 L1156.5 272.8 L1156.4 270.3 L1156.4 267.8 L1156.4 265.3 L1156.3 262.7 L1156.3 260.2 L1156.3 257.7 L1156.2 255.2 L1156.2 252.7 L1156.2 250.2 L1156.2 247.7 L1156.1 245.2 L1156.1 242.6 L1156.1 240.1 L1156.1 237.6 L1156 235.1 L1156 232.6 Z" fill="#4c7eab" stroke="#4a4a4a" stroke-width="1.8" stroke-linejoin="round"/>
<line x1="1146.4" y1="232.6" x2="1146.4" y2="526.5" stroke="#484848" stroke-width="1.6"/><line x1="1146.4" y1="235.1" x2="1146.4" y2="501.9" stroke="#484848" stroke-width="6" stroke-linecap="round"/><path d="M1173.4 234.4 L1173.3 236.9 L1173.2 239.4 L1173.2 241.9 L1173.1 244.5 L1173 247 L1172.9 249.5 L1172.8 252 L1172.7 254.5 L1172.6 257 L1172.5 259.5 L1172.4 262 L1172.4 264.6 L1172.3 267.1 L1172.2 269.6 L1172.1 272.1 L1172.1 274.6 L1172 277.1 L1171.9 279.6 L1171.9 282.2 L1171.8 284.7 L1171.7 287.2 L1171.7 289.7 L1171.6 292.2 L1171.6 294.7 L1171.6 297.2 L1171.5 299.8 L1171.5 302.3 L1171.5 304.8 L1171.4 307.3 L1171.4 307.8 L1171.4 309.8 L1171.4 312.3 L1171.4 314.8 L1171.4 317.3 L1171.4 319.9 L1171.3 322.4 L1171.3 324.9 L1171.3 327.4 L1171.3 329.9 L1171.3 332.4 L1171.3 334.9 L1171.3 337.5 L1171.3 340 L1171.3 342.5 L1171.3 345 L1171.2 347.5 L1171.2 350 L1171.2 352.5 L1171.2 355 L1171.2 357.6 L1171.2 360.1 L1171.2 362.6 L1171.2 365.1 L1171.2 367.6 L1171.2 370.1 L1171.2 372.6 L1171.2 375.2 L1171.2 377.7 L1171.1 380.2 L1171.1 382.7 L1171.1 385.2 L1171.1 387.7 L1171.1 390.2 L1171.1 392.8 L1171.1 395.3 L1171.1 397.8 L1171 400 L1171 400.3 L1171 402.8 L1171 405.3 L1171 407.8 L1170.9 410.3 L1170.9 412.9 L1170.8 415.4 L1170.8 417.9 L1170.7 420.4 L1170.7 422.9 L1170.6 425.4 L1170.6 427.9 L1170.5 430.5 L1170.5 433 L1170.4 435.5 L1170.3 438 L1170.3 440.5 L1170.2 443 L1170.2 445.5 L1170.1 448 L1170.1 450.6 L1170 453.1 L1170 455.6 L1170 458.1 L1169.9 460.6 L1169.9 463.1 L1169.9 465.6 L1169.9 468.2 L1169.8 470.7 L1169.8 473.2 L1169.8 473.9 L1169.8 475.7 L1169.8 478.2 L1169.8 480.7 L1169.8 483.2 L1169.8 485.7 L1169.8 488.3 L1169.8 490.8 L1169.8 493.3 L1169.8 495.8 L1169.8 498.3 L1169.8 500.8 L1169.8 503.3 L1169.8 505.9 L1169.8 508.4 L1169.8 510.9 L1169.8 513.4 L1169.9 515.9 L1169.9 518.4 L1169.9 520.9 L1169.9 523.5 L1169.9 526 L1169.9 528.5 L1169.9 531 L1169.9 533.5 L1169.9 536 L1169.9 538.5 L1169.9 541 L1169.9 543.6 L1169.9 546.1 L1169.9 548.6 L1169.9 551.1 L1194.7 551.1 L1194.7 548.6 L1194.8 546.1 L1194.8 543.6 L1194.8 541 L1194.8 538.5 L1194.8 536 L1194.8 533.5 L1194.8 531 L1194.8 528.5 L1194.8 526 L1194.8 523.5 L1194.8 520.9 L1194.8 518.4 L1194.8 515.9 L1194.8 513.4 L1194.8 510.9 L1194.8 508.4 L1194.8 505.9 L1194.8 503.3 L1194.8 500.8 L1194.8 498.3 L1194.8 495.8 L1194.8 493.3 L1194.8 490.8 L1194.8 488.3 L1194.8 485.7 L1194.8 483.2 L1194.8 480.7 L1194.8 478.2 L1194.8 475.7 L1194.8 473.9 L1194.8 473.2 L1194.8 470.7 L1194.8 468.2 L1194.8 465.6 L1194.8 463.1 L1194.7 460.6 L1194.7 458.1 L1194.7 455.6 L1194.6 453.1 L1194.6 450.6 L1194.5 448 L1194.5 445.5 L1194.4 443 L1194.4 440.5 L1194.3 438 L1194.3 435.5 L1194.2 433 L1194.2 430.5 L1194.1 427.9 L1194 425.4 L1194 422.9 L1193.9 420.4 L1193.9 417.9 L1193.8 415.4 L1193.8 412.9 L1193.8 410.3 L1193.7 407.8 L1193.7 405.3 L1193.7 402.8 L1193.6 400.3 L1193.6 400 L1193.6 397.8 L1193.6 395.3 L1193.6 392.8 L1193.6 390.2 L1193.6 387.7 L1193.6 385.2 L1193.5 382.7 L1193.5 380.2 L1193.5 377.7 L1193.5 375.2 L1193.5 372.6 L1193.5 370.1 L1193.5 367.6 L1193.5 365.1 L1193.5 362.6 L1193.5 360.1 L1193.5 357.6 L1193.4 355 L1193.4 352.5 L1193.4 350 L1193.4 347.5 L1193.4 345 L1193.4 342.5 L1193.4 340 L1193.4 337.5 L1193.4 334.9 L1193.4 332.4 L1193.4 329.9 L1193.4 327.4 L1193.3 324.9 L1193.3 322.4 L1193.3 319.9 L1193.3 317.3 L1193.3 314.8 L1193.3 312.3 L1193.3 309.8 L1193.2 307.8 L1193.2 307.3 L1193.2 304.8 L1193.2 302.3 L1193.1 299.8 L1193.1 297.2 L1193.1 294.7 L1193 292.2 L1193 289.7 L1192.9 287.2 L1192.9 284.7 L1192.8 282.2 L1192.7 279.6 L1192.7 277.1 L1192.6 274.6 L1192.5 272.1 L1192.5 269.6 L1192.4 267.1 L1192.3 264.6 L1192.2 262 L1192.1 259.5 L1192.1 257 L1192 254.5 L1191.9 252 L1191.8 249.5 L1191.7 247 L1191.6 244.5 L1191.5 241.9 L1191.4 239.4 L1191.3 236.9 L1191.2 234.4 Z" fill="#4c7eab" stroke="#4a4a4a" stroke-width="1.8" stroke-linejoin="round"/>
<line x1="1182.3" y1="234.4" x2="1182.3" y2="551.1" stroke="#484848" stroke-width="1.6"/><line x1="1182.3" y1="306.6" x2="1182.3" y2="537" stroke="#484848" stroke-width="6" stroke-linecap="round"/><path d="M1213.1 405.2 L1213 407.7 L1212.9 410.3 L1212.8 412.8 L1212.6 415.3 L1212.3 417.9 L1212.3 418.5 L1212 420.4 L1211.3 423 L1210.4 425.5 L1209.4 428 L1208.5 430.6 L1207.7 433.1 L1207.7 433.3 L1207.1 435.6 L1206.4 438.2 L1205.7 440.7 L1205.1 443.2 L1204.8 445.8 L1204.7 448 L1204.7 448.3 L1204.7 450.9 L1204.9 453.4 L1205 455 L1205.1 455.9 L1205.6 458.5 L1206.3 461 L1230.3 461 L1231 458.5 L1231.5 455.9 L1231.6 455 L1231.7 453.4 L1231.8 450.9 L1231.9 448.3 L1231.9 448 L1231.8 445.8 L1231.4 443.2 L1230.8 440.7 L1230.2 438.2 L1229.5 435.6 L1228.9 433.3 L1228.8 433.1 L1228 430.6 L1227.1 428 L1226.1 425.5 L1225.3 423 L1224.6 420.4 L1224.3 418.5 L1224.2 417.9 L1224 415.3 L1223.8 412.8 L1223.6 410.3 L1223.5 407.7 L1223.5 405.2 Z" fill="#4c7eab" stroke="#4a4a4a" stroke-width="1.8" stroke-linejoin="round"/>
<line x1="1218.3" y1="435.1" x2="1218.3" y2="461" stroke="#484848" stroke-width="1.6"/><line x1="1218.3" y1="437.6" x2="1218.3" y2="457.5" stroke="#484848" stroke-width="6" stroke-linecap="round"/><path d="M1244 385.4 L1243.4 387.9 L1242.9 390.4 L1242.3 392.9 L1241.9 395.4 L1241.6 397.9 L1241.5 400 L1241.5 400.4 L1241.4 402.9 L1241.4 405.4 L1241.3 407.9 L1241.3 410.4 L1241.3 412.9 L1241.3 415.4 L1241.2 417.9 L1241.2 420.4 L1241.2 422.9 L1241.2 425.4 L1241.2 427.7 L1241.2 427.9 L1241.2 430.4 L1241.3 432.9 L1241.4 435.4 L1241.6 437.9 L1241.8 440.4 L1242 442.9 L1242.3 445.4 L1242.5 447.9 L1242.8 450.4 L1243.1 452.9 L1243.3 455.4 L1243.5 457.9 L1243.8 460.4 L1244.1 462.9 L1244.4 465.4 L1244.7 467.9 L1245 470.4 L1245.3 472.9 L1245.7 475.4 L1246 477.9 L1246.4 480.4 L1262 480.4 L1262.4 477.9 L1262.7 475.4 L1263.1 472.9 L1263.4 470.4 L1263.7 467.9 L1264 465.4 L1264.3 462.9 L1264.6 460.4 L1264.9 457.9 L1265.1 455.4 L1265.3 452.9 L1265.6 450.4 L1265.9 447.9 L1266.1 445.4 L1266.3 442.9 L1266.6 440.4 L1266.8 437.9 L1266.9 435.4 L1267.1 432.9 L1267.2 430.4 L1267.2 427.9 L1267.2 427.7 L1267.2 425.4 L1267.2 422.9 L1267.2 420.4 L1267.2 417.9 L1267.1 415.4 L1267.1 412.9 L1267.1 410.4 L1267 407.9 L1267 405.4 L1267 402.9 L1266.9 400.4 L1266.9 400 L1266.8 397.9 L1266.5 395.4 L1266.1 392.9 L1265.5 390.4 L1265 387.9 L1264.4 385.4 Z" fill="#4c7eab" stroke="#4a4a4a" stroke-width="1.8" stroke-linejoin="round"/>
<line x1="1254.2" y1="385.4" x2="1254.2" y2="480.4" stroke="#484848" stroke-width="1.6"/><line x1="1254.2" y1="403.5" x2="1254.2" y2="447.4" stroke="#484848" stroke-width="6" stroke-linecap="round"/><path d="M1284.6 225.6 L1283.5 228.1 L1282.5 230.6 L1281.6 233.1 L1281.1 235.6 L1281.1 235.7 L1281 238.1 L1280.9 240.6 L1280.8 243.2 L1280.7 245.7 L1280.6 248.2 L1280.6 250.7 L1280.5 253.2 L1280.4 255.7 L1280.4 258.2 L1280.4 260.7 L1280.3 263.2 L1280.3 265.7 L1280.2 268.2 L1280.2 270.7 L1280.2 273.2 L1280.2 275.8 L1280.1 278.3 L1280.1 280.8 L1280 283.3 L1280 285.8 L1279.9 288.3 L1279.9 289.3 L1279.9 290.8 L1279.8 293.3 L1279.8 295.8 L1279.7 298.3 L1279.7 300.8 L1279.6 303.3 L1279.5 305.8 L1279.5 308.4 L1279.4 310.9 L1279.3 313.4 L1279.3 315.9 L1279.2 318.4 L1279.2 320.9 L1279.1 323.4 L1279 325.9 L1279 328.4 L1278.9 330.9 L1278.9 333.4 L1278.8 335.9 L1278.8 338.4 L1278.7 341 L1278.6 343.5 L1278.6 344.7 L1278.6 346 L1278.5 348.5 L1278.5 351 L1278.4 353.5 L1278.4 356 L1278.3 358.5 L1278.2 361 L1278.2 363.5 L1278.1 366 L1278.1 368.5 L1278 371 L1278 373.6 L1277.9 376.1 L1277.9 378.6 L1277.8 381.1 L1277.8 383.6 L1277.7 386.1 L1277.7 388.6 L1277.7 391.1 L1277.6 393.6 L1277.6 396.1 L1277.6 398.6 L1277.6 400 L1277.6 401.1 L1277.6 403.6 L1277.6 406.2 L1277.6 408.7 L1277.6 411.2 L1277.6 413.7 L1277.6 416.2 L1277.6 418.7 L1277.6 421.2 L1277.6 423.7 L1277.6 426.2 L1277.6 428.7 L1277.6 431.2 L1277.6 433.7 L1277.6 436.2 L1277.6 438.7 L1277.6 441.3 L1277.6 443.8 L1277.6 446.3 L1277.6 448.8 L1277.6 451.3 L1277.6 453.8 L1277.6 456.3 L1277.6 458.8 L1277.6 461.3 L1277.6 463.8 L1277.6 466.3 L1277.6 468.8 L1277.6 471.3 L1277.6 473.9 L1277.6 476.4 L1277.6 478.9 L1277.6 481.4 L1277.6 483.9 L1277.6 486.4 L1277.6 488.9 L1277.6 491.4 L1277.6 493.9 L1277.6 496.4 L1277.6 498.9 L1277.6 500 L1277.6 501.4 L1277.6 503.9 L1277.6 506.5 L1277.6 509 L1277.6 511.5 L1277.6 514 L1277.7 516.5 L1277.7 519 L1277.7 521.5 L1277.7 524 L1277.7 526.5 L1277.7 529 L1277.7 531.5 L1277.7 534 L1277.7 536.5 L1277.8 539.1 L1277.8 541.6 L1277.8 544.1 L1277.8 546.6 L1277.8 549.1 L1277.9 551.6 L1277.9 554.1 L1277.9 556.6 L1277.9 559.1 L1278 561.6 L1278 564.1 L1278 566.6 L1278 569.1 L1278.1 571.7 L1278.1 574.2 L1278.1 576.7 L1278.1 579.2 L1278.2 581.7 L1278.2 584.2 L1278.2 586.7 L1278.2 589.2 L1278.3 591.7 L1278.3 594.2 L1278.3 596.7 L1278.4 599.2 L1278.4 601.7 L1278.4 604.3 L1278.5 606.8 L1278.5 609.3 L1278.5 611.8 L1278.6 614.3 L1278.6 616.8 L1278.6 619.3 L1301.6 619.3 L1301.7 616.8 L1301.7 614.3 L1301.7 611.8 L1301.8 609.3 L1301.8 606.8 L1301.8 604.3 L1301.8 601.7 L1301.9 599.2 L1301.9 596.7 L1301.9 594.2 L1302 591.7 L1302 589.2 L1302 586.7 L1302.1 584.2 L1302.1 581.7 L1302.1 579.2 L1302.1 576.7 L1302.2 574.2 L1302.2 571.7 L1302.2 569.1 L1302.2 566.6 L1302.3 564.1 L1302.3 561.6 L1302.3 559.1 L1302.3 556.6 L1302.4 554.1 L1302.4 551.6 L1302.4 549.1 L1302.4 546.6 L1302.4 544.1 L1302.5 541.6 L1302.5 539.1 L1302.5 536.5 L1302.5 534 L1302.5 531.5 L1302.5 529 L1302.6 526.5 L1302.6 524 L1302.6 521.5 L1302.6 519 L1302.6 516.5 L1302.6 514 L1302.6 511.5 L1302.6 509 L1302.6 506.5 L1302.6 503.9 L1302.6 501.4 L1302.6 500 L1302.6 498.9 L1302.6 496.4 L1302.6 493.9 L1302.6 491.4 L1302.6 488.9 L1302.6 486.4 L1302.6 483.9 L1302.6 481.4 L1302.6 478.9 L1302.6 476.4 L1302.6 473.9 L1302.6 471.3 L1302.6 468.8 L1302.6 466.3 L1302.6 463.8 L1302.6 461.3 L1302.6 458.8 L1302.6 456.3 L1302.6 453.8 L1302.6 451.3 L1302.6 448.8 L1302.6 446.3 L1302.6 443.8 L1302.6 441.3 L1302.6 438.7 L1302.6 436.2 L1302.6 433.7 L1302.6 431.2 L1302.6 428.7 L1302.6 426.2 L1302.6 423.7 L1302.6 421.2 L1302.6 418.7 L1302.6 416.2 L1302.6 413.7 L1302.6 411.2 L1302.6 408.7 L1302.6 406.2 L1302.6 403.6 L1302.6 401.1 L1302.6 400 L1302.6 398.6 L1302.6 396.1 L1302.6 393.6 L1302.6 391.1 L1302.6 388.6 L1302.5 386.1 L1302.5 383.6 L1302.4 381.1 L1302.4 378.6 L1302.3 376.1 L1302.3 373.6 L1302.2 371 L1302.2 368.5 L1302.1 366 L1302.1 363.5 L1302 361 L1301.9 358.5 L1301.9 356 L1301.8 353.5 L1301.8 351 L1301.7 348.5 L1301.7 346 L1301.6 344.7 L1301.6 343.5 L1301.5 341 L1301.5 338.4 L1301.4 335.9 L1301.4 333.4 L1301.3 330.9 L1301.3 328.4 L1301.2 325.9 L1301.1 323.4 L1301.1 320.9 L1301 318.4 L1301 315.9 L1300.9 313.4 L1300.8 310.9 L1300.8 308.4 L1300.7 305.8 L1300.7 303.3 L1300.6 300.8 L1300.5 298.3 L1300.5 295.8 L1300.4 293.3 L1300.4 290.8 L1300.3 289.3 L1300.3 288.3 L1300.3 285.8 L1300.2 283.3 L1300.2 280.8 L1300.1 278.3 L1300.1 275.8 L1300.1 273.2 L1300 270.7 L1300 268.2 L1300 265.7 L1299.9 263.2 L1299.9 260.7 L1299.9 258.2 L1299.8 255.7 L1299.8 253.2 L1299.7 250.7 L1299.6 248.2 L1299.5 245.7 L1299.5 243.2 L1299.4 240.6 L1299.2 238.1 L1299.1 235.7 L1299.1 235.6 L1298.7 233.1 L1297.8 230.6 L1296.7 228.1 L1295.6 225.6 Z" fill="#4c7eab" stroke="#4a4a4a" stroke-width="1.8" stroke-linejoin="round"/>
<line x1="1290.1" y1="225.6" x2="1290.1" y2="619.3" stroke="#484848" stroke-width="1.6"/><line x1="1290.1" y1="347.2" x2="1290.1" y2="590.5" stroke="#484848" stroke-width="6" stroke-linecap="round"/><path d="M1318.1 220.4 L1317.7 222.9 L1317.4 225.4 L1317.1 227.9 L1316.8 230.4 L1316.6 232.9 L1316.6 233.9 L1316.5 235.4 L1316.4 238 L1316.3 240.5 L1316.2 243 L1316.1 245.5 L1316 248 L1315.9 250.5 L1315.8 253 L1315.7 255.5 L1315.7 258 L1315.6 260.5 L1315.5 263 L1315.5 265.5 L1315.4 268 L1315.4 270.6 L1315.3 273.1 L1315.3 275.6 L1315.2 278.1 L1315.2 280.6 L1315.1 283.1 L1315.1 285.6 L1315 288.1 L1315 290.6 L1315 293.1 L1314.9 295.6 L1314.9 298.1 L1314.8 300.7 L1314.8 303.2 L1314.7 305.7 L1314.7 307.8 L1314.6 308.2 L1314.6 310.7 L1314.5 313.2 L1314.5 315.7 L1314.4 318.2 L1314.3 320.7 L1314.3 323.2 L1314.2 325.7 L1314.1 328.2 L1314 330.7 L1314 333.3 L1313.9 335.8 L1313.8 338.3 L1313.7 340.8 L1313.7 343.3 L1313.6 345.8 L1313.5 348.3 L1313.5 350.8 L1313.4 353.3 L1313.3 355.8 L1313.3 358.3 L1313.2 360.8 L1313.1 363.3 L1313.1 365.9 L1313 368.4 L1313 370.9 L1312.9 373.4 L1312.9 375.9 L1312.8 378.4 L1312.8 380.9 L1312.8 383.4 L1312.7 385.9 L1312.7 388.4 L1312.7 390.9 L1312.7 393.4 L1312.7 396 L1312.7 398.5 L1312.7 400 L1312.7 401 L1312.7 403.5 L1312.7 406 L1312.7 408.5 L1312.7 411 L1312.7 413.5 L1312.7 416 L1312.7 418.5 L1312.7 421 L1312.7 423.5 L1312.7 426 L1312.7 428.6 L1312.8 431.1 L1312.8 433.6 L1312.8 436.1 L1312.8 438.6 L1312.8 441.1 L1312.8 443.6 L1312.9 446.1 L1312.9 448.6 L1312.9 451.1 L1312.9 453.6 L1313 456.1 L1313 458.6 L1313 461.2 L1313 463.7 L1313.1 466.2 L1313.1 468.7 L1313.1 471.2 L1313.1 473.7 L1313.2 476.2 L1313.2 478.7 L1313.2 481.2 L1313.3 483.7 L1313.3 486.2 L1313.3 488.7 L1313.3 491.3 L1313.4 493.8 L1313.4 496.3 L1313.4 498.8 L1313.5 499.8 L1313.5 501.3 L1313.5 503.8 L1313.6 506.3 L1313.6 508.8 L1313.7 511.3 L1313.7 513.8 L1313.8 516.3 L1313.8 518.8 L1313.9 521.3 L1314 523.9 L1314.1 526.4 L1314.1 528.9 L1314.2 531.4 L1314.3 533.9 L1314.4 536.4 L1314.5 538.9 L1314.6 541.4 L1314.7 543.9 L1314.7 546.4 L1314.8 548.9 L1314.9 551.4 L1315 553.9 L1315.1 556.5 L1315.2 559 L1315.3 561.5 L1315.4 564 L1315.5 566.5 L1315.6 569 L1315.6 571.5 L1315.7 574 L1315.8 576.5 L1315.9 579 L1316 581.5 L1316 584 L1316.1 584.7 L1316.1 586.6 L1316.2 589.1 L1316.2 591.6 L1316.3 594.1 L1316.4 596.6 L1316.4 599.1 L1316.5 601.6 L1316.6 604.1 L1316.7 606.6 L1316.7 609.1 L1316.8 611.6 L1316.8 614.1 L1316.9 616.6 L1317 619.2 L1317 621.7 L1317.1 624.2 L1317.2 626.7 L1317.2 629.2 L1317.3 631.7 L1317.4 634.2 L1334.8 634.2 L1334.8 631.7 L1334.9 629.2 L1334.9 626.7 L1335 624.2 L1335.1 621.7 L1335.1 619.2 L1335.2 616.6 L1335.3 614.1 L1335.3 611.6 L1335.4 609.1 L1335.5 606.6 L1335.5 604.1 L1335.6 601.6 L1335.7 599.1 L1335.7 596.6 L1335.8 594.1 L1335.9 591.6 L1335.9 589.1 L1336 586.6 L1336.1 584.7 L1336.1 584 L1336.1 581.5 L1336.2 579 L1336.3 576.5 L1336.4 574 L1336.5 571.5 L1336.6 569 L1336.6 566.5 L1336.7 564 L1336.8 561.5 L1336.9 559 L1337 556.5 L1337.1 553.9 L1337.2 551.4 L1337.3 548.9 L1337.4 546.4 L1337.5 543.9 L1337.5 541.4 L1337.6 538.9 L1337.7 536.4 L1337.8 533.9 L1337.9 531.4 L1338 528.9 L1338 526.4 L1338.1 523.9 L1338.2 521.3 L1338.3 518.8 L1338.3 516.3 L1338.4 513.8 L1338.5 511.3 L1338.5 508.8 L1338.6 506.3 L1338.6 503.8 L1338.6 501.3 L1338.7 499.8 L1338.7 498.8 L1338.7 496.3 L1338.7 493.8 L1338.8 491.3 L1338.8 488.7 L1338.8 486.2 L1338.9 483.7 L1338.9 481.2 L1338.9 478.7 L1338.9 476.2 L1339 473.7 L1339 471.2 L1339 468.7 L1339.1 466.2 L1339.1 463.7 L1339.1 461.2 L1339.1 458.6 L1339.2 456.1 L1339.2 453.6 L1339.2 451.1 L1339.2 448.6 L1339.2 446.1 L1339.3 443.6 L1339.3 441.1 L1339.3 438.6 L1339.3 436.1 L1339.3 433.6 L1339.4 431.1 L1339.4 428.6 L1339.4 426 L1339.4 423.5 L1339.4 421 L1339.4 418.5 L1339.4 416 L1339.4 413.5 L1339.4 411 L1339.4 408.5 L1339.4 406 L1339.5 403.5 L1339.5 401 L1339.5 400 L1339.5 398.5 L1339.4 396 L1339.4 393.4 L1339.4 390.9 L1339.4 388.4 L1339.4 385.9 L1339.3 383.4 L1339.3 380.9 L1339.3 378.4 L1339.2 375.9 L1339.2 373.4 L1339.1 370.9 L1339.1 368.4 L1339 365.9 L1339 363.3 L1338.9 360.8 L1338.8 358.3 L1338.8 355.8 L1338.7 353.3 L1338.6 350.8 L1338.6 348.3 L1338.5 345.8 L1338.4 343.3 L1338.4 340.8 L1338.3 338.3 L1338.2 335.8 L1338.1 333.3 L1338.1 330.7 L1338 328.2 L1337.9 325.7 L1337.9 323.2 L1337.8 320.7 L1337.7 318.2 L1337.7 315.7 L1337.6 313.2 L1337.5 310.7 L1337.5 308.2 L1337.5 307.8 L1337.4 305.7 L1337.3 303.2 L1337.3 300.7 L1337.2 298.1 L1337.2 295.6 L1337.2 293.1 L1337.1 290.6 L1337.1 288.1 L1337 285.6 L1337 283.1 L1336.9 280.6 L1336.9 278.1 L1336.8 275.6 L1336.8 273.1 L1336.7 270.6 L1336.7 268 L1336.6 265.5 L1336.6 263 L1336.5 260.5 L1336.4 258 L1336.4 255.5 L1336.3 253 L1336.2 250.5 L1336.1 248 L1336 245.5 L1336 243 L1335.8 240.5 L1335.7 238 L1335.6 235.4 L1335.6 233.9 L1335.5 232.9 L1335.3 230.4 L1335 227.9 L1334.7 225.4 L1334.4 222.9 L1334.1 220.4 Z" fill="#4c7eab" stroke="#4a4a4a" stroke-width="1.8" stroke-linejoin="round"/>
<line x1="1326.1" y1="220.4" x2="1326.1" y2="634.2" stroke="#484848" stroke-width="1.6"/><line x1="1326.1" y1="230.9" x2="1326.1" y2="459.4" stroke="#484848" stroke-width="6" stroke-linecap="round"/><path d="M1357 178.5 L1356.9 181 L1356.8 183.5 L1356.6 186.1 L1356.4 188.6 L1356.2 191.1 L1356 193.6 L1355.8 196.1 L1355.7 196.9 L1355.5 198.7 L1355.1 201.2 L1354.7 203.7 L1354.3 206.2 L1353.8 208.8 L1353.3 211.3 L1352.8 213.8 L1352.5 215.4 L1352.3 216.3 L1351.8 218.8 L1351.2 221.4 L1350.5 223.9 L1350 226.4 L1349.5 228.9 L1349.1 231.4 L1349 233.9 L1349 234 L1348.9 236.5 L1348.9 239 L1348.8 241.5 L1348.8 244 L1348.8 246.6 L1348.7 249.1 L1348.7 251.6 L1348.7 254.1 L1348.6 256.6 L1348.6 259.2 L1348.6 261.7 L1348.6 264.2 L1348.5 266.7 L1348.5 269.3 L1348.5 271.8 L1348.5 274.3 L1348.5 276.8 L1348.5 279.3 L1348.4 281.9 L1348.4 284.4 L1348.4 286.9 L1348.4 289.4 L1348.4 291.9 L1348.4 294.5 L1348.4 297 L1348.4 299.5 L1348.4 302 L1348.4 304.5 L1348.4 307.1 L1348.4 307.8 L1348.4 309.6 L1348.4 312.1 L1348.4 314.6 L1348.4 317.1 L1348.4 319.7 L1348.4 322.2 L1348.4 324.7 L1348.4 327.2 L1348.4 329.8 L1348.4 332.3 L1348.4 334.8 L1348.4 337.3 L1348.5 339.8 L1348.5 342.4 L1348.5 344.9 L1348.5 347.4 L1348.5 349.9 L1348.5 352.4 L1348.5 355 L1348.5 357.5 L1348.5 360 L1348.6 362.5 L1348.6 365 L1348.6 367.6 L1348.6 370.1 L1348.6 372.6 L1348.6 375.1 L1348.6 377.6 L1348.7 380.2 L1348.7 382.7 L1348.7 385.2 L1348.7 387.7 L1348.7 390.3 L1348.7 392.8 L1348.8 395.3 L1348.8 397.8 L1348.8 400 L1348.8 400.3 L1348.8 402.9 L1348.8 405.4 L1348.8 407.9 L1348.9 410.4 L1348.9 412.9 L1348.9 415.5 L1348.9 418 L1348.9 420.5 L1348.9 423 L1349 425.5 L1349 428.1 L1349 430.6 L1349 433.1 L1349.1 435.6 L1349.1 438.1 L1349.1 440.7 L1349.1 443.2 L1349.2 445.7 L1349.2 448.2 L1349.2 450.8 L1349.2 453.3 L1349.3 455.8 L1349.3 458.3 L1349.3 460.8 L1349.3 463.4 L1349.4 465.9 L1349.4 468.4 L1374.6 468.4 L1374.6 465.9 L1374.6 463.4 L1374.7 460.8 L1374.7 458.3 L1374.7 455.8 L1374.7 453.3 L1374.8 450.8 L1374.8 448.2 L1374.8 445.7 L1374.8 443.2 L1374.9 440.7 L1374.9 438.1 L1374.9 435.6 L1374.9 433.1 L1375 430.6 L1375 428.1 L1375 425.5 L1375 423 L1375 420.5 L1375.1 418 L1375.1 415.5 L1375.1 412.9 L1375.1 410.4 L1375.1 407.9 L1375.1 405.4 L1375.2 402.9 L1375.2 400.3 L1375.2 400 L1375.2 397.8 L1375.2 395.3 L1375.2 392.8 L1375.2 390.3 L1375.3 387.7 L1375.3 385.2 L1375.3 382.7 L1375.3 380.2 L1375.3 377.6 L1375.3 375.1 L1375.3 372.6 L1375.4 370.1 L1375.4 367.6 L1375.4 365 L1375.4 362.5 L1375.4 360 L1375.4 357.5 L1375.4 355 L1375.5 352.4 L1375.5 349.9 L1375.5 347.4 L1375.5 344.9 L1375.5 342.4 L1375.5 339.8 L1375.5 337.3 L1375.5 334.8 L1375.5 332.3 L1375.5 329.8 L1375.6 327.2 L1375.6 324.7 L1375.6 322.2 L1375.6 319.7 L1375.6 317.1 L1375.6 314.6 L1375.6 312.1 L1375.6 309.6 L1375.6 307.8 L1375.6 307.1 L1375.6 304.5 L1375.6 302 L1375.6 299.5 L1375.6 297 L1375.6 294.5 L1375.6 291.9 L1375.6 289.4 L1375.5 286.9 L1375.5 284.4 L1375.5 281.9 L1375.5 279.3 L1375.5 276.8 L1375.5 274.3 L1375.5 271.8 L1375.4 269.3 L1375.4 266.7 L1375.4 264.2 L1375.4 261.7 L1375.4 259.2 L1375.3 256.6 L1375.3 254.1 L1375.3 251.6 L1375.2 249.1 L1375.2 246.6 L1375.2 244 L1375.1 241.5 L1375.1 239 L1375 236.5 L1375 234 L1375 233.9 L1374.8 231.4 L1374.5 228.9 L1374 226.4 L1373.4 223.9 L1372.8 221.4 L1372.2 218.8 L1371.7 216.3 L1371.5 215.4 L1371.2 213.8 L1370.7 211.3 L1370.2 208.8 L1369.7 206.2 L1369.3 203.7 L1368.8 201.2 L1368.5 198.7 L1368.3 196.9 L1368.2 196.1 L1368 193.6 L1367.7 191.1 L1367.5 188.6 L1367.3 186.1 L1367.2 183.5 L1367.1 181 L1367 178.5 Z" fill="#4c7eab" stroke="#4a4a4a" stroke-width="1.8" stroke-linejoin="round"/>
<line x1="1362" y1="178.5" x2="1362" y2="468.4" stroke="#484848" stroke-width="1.6"/><line x1="1362" y1="220.7" x2="1362" y2="427.1" stroke="#484848" stroke-width="6" stroke-linecap="round"/><path d="M1386.4 240.4 L1386.1 242.9 L1385.8 245.5 L1385.5 248 L1385.2 250.5 L1385 253 L1384.9 255 L1384.9 255.6 L1384.7 258.1 L1384.6 260.6 L1384.5 263.1 L1384.4 265.7 L1384.3 268.2 L1384.3 270.7 L1384.3 270.8 L1384.3 273.2 L1384.4 275.8 L1384.6 278.3 L1384.8 280.8 L1385 283.3 L1385.3 285.9 L1385.5 288.4 L1385.6 289.3 L1385.8 290.9 L1386.1 293.4 L1386.5 296 L1387 298.5 L1387.5 301 L1388 303.5 L1388.6 306.1 L1389.3 308.6 L1389.9 311.1 L1405.9 311.1 L1406.6 308.6 L1407.2 306.1 L1407.8 303.5 L1408.3 301 L1408.8 298.5 L1409.3 296 L1409.7 293.4 L1410 290.9 L1410.2 289.3 L1410.3 288.4 L1410.6 285.9 L1410.8 283.3 L1411 280.8 L1411.2 278.3 L1411.4 275.8 L1411.5 273.2 L1411.5 270.8 L1411.5 270.7 L1411.5 268.2 L1411.4 265.7 L1411.3 263.1 L1411.2 260.6 L1411.1 258.1 L1410.9 255.6 L1410.9 255 L1410.8 253 L1410.6 250.5 L1410.3 248 L1410.1 245.5 L1409.7 242.9 L1409.4 240.4 Z" fill="#4c7eab" stroke="#4a4a4a" stroke-width="1.8" stroke-linejoin="round"/>
<line x1="1397.9" y1="240.4" x2="1397.9" y2="311.1" stroke="#484848" stroke-width="1.6"/><line x1="1397.9" y1="248.4" x2="1397.9" y2="285" stroke="#484848" stroke-width="6" stroke-linecap="round"/><path d="M1424.6 228.5 L1421.8 231 L1421.8 231 L1420.8 233.5 L1420.5 235 L1420.5 236 L1420.5 238.5 L1420.6 241 L1420.6 243.5 L1420.6 246 L1420.6 248.5 L1420.7 251 L1420.7 253.6 L1420.7 256.1 L1420.8 258.6 L1420.8 261.1 L1420.8 263.6 L1420.9 266.1 L1420.9 268.6 L1421 271.1 L1421 273.6 L1421 276.1 L1421.1 278.6 L1421.1 281.1 L1421.2 283.6 L1421.2 286.1 L1421.2 288.6 L1421.2 291.1 L1421.2 293.6 L1421.2 296.1 L1421.2 297.8 L1421.2 298.6 L1421.2 301.2 L1421.2 303.7 L1421.2 306.2 L1421.2 308.7 L1421.2 311.2 L1421.1 313.7 L1421.1 316.2 L1421.1 318.7 L1421 321.2 L1421 323.7 L1421 326.2 L1420.9 328.7 L1420.9 331.2 L1420.9 333.7 L1420.9 336.2 L1420.8 338.7 L1420.8 341.2 L1420.8 343.7 L1420.8 346.3 L1420.8 348.8 L1420.7 351.3 L1420.7 353.2 L1420.7 353.8 L1420.8 356.3 L1420.8 358.8 L1420.9 361.3 L1420.9 363.8 L1421 366.3 L1421.1 368.8 L1421.2 371.3 L1421.4 373.8 L1421.5 376.3 L1421.6 378.8 L1421.8 381.3 L1421.9 383.8 L1422.1 386.3 L1422.3 388.8 L1422.3 390.2 L1422.4 391.3 L1422.6 393.9 L1422.8 396.4 L1423 398.9 L1423.2 401.4 L1423.5 403.9 L1423.8 406.4 L1424 408.9 L1424.3 411.4 L1424.6 413.9 L1424.9 416.4 L1442.7 416.4 L1443 413.9 L1443.3 411.4 L1443.6 408.9 L1443.9 406.4 L1444.2 403.9 L1444.4 401.4 L1444.7 398.9 L1444.9 396.4 L1445.1 393.9 L1445.3 391.3 L1445.3 390.2 L1445.4 388.8 L1445.6 386.3 L1445.7 383.8 L1445.9 381.3 L1446 378.8 L1446.2 376.3 L1446.3 373.8 L1446.4 371.3 L1446.6 368.8 L1446.7 366.3 L1446.8 363.8 L1446.8 361.3 L1446.9 358.8 L1446.9 356.3 L1446.9 353.8 L1446.9 353.2 L1446.9 351.3 L1446.9 348.8 L1446.9 346.3 L1446.9 343.7 L1446.9 341.2 L1446.9 338.7 L1446.8 336.2 L1446.8 333.7 L1446.8 331.2 L1446.7 328.7 L1446.7 326.2 L1446.7 323.7 L1446.6 321.2 L1446.6 318.7 L1446.6 316.2 L1446.5 313.7 L1446.5 311.2 L1446.5 308.7 L1446.5 306.2 L1446.5 303.7 L1446.4 301.2 L1446.4 298.6 L1446.4 297.8 L1446.4 296.1 L1446.5 293.6 L1446.5 291.1 L1446.5 288.6 L1446.5 286.1 L1446.5 283.6 L1446.6 281.1 L1446.6 278.6 L1446.6 276.1 L1446.7 273.6 L1446.7 271.1 L1446.8 268.6 L1446.8 266.1 L1446.8 263.6 L1446.9 261.1 L1446.9 258.6 L1447 256.1 L1447 253.6 L1447 251 L1447.1 248.5 L1447.1 246 L1447.1 243.5 L1447.1 241 L1447.1 238.5 L1447.1 236 L1447.1 235 L1446.9 233.5 L1445.8 231 L1445.8 231 L1443 228.5 Z" fill="#4c7eab" stroke="#4a4a4a" stroke-width="1.8" stroke-linejoin="round"/>
<line x1="1433.8" y1="228.5" x2="1433.8" y2="416.4" stroke="#484848" stroke-width="1.6"/><line x1="1433.8" y1="233.8" x2="1433.8" y2="361.8" stroke="#484848" stroke-width="6" stroke-linecap="round"/><path d="M1462.4 231.3 L1458.8 233 L1457.9 233.8 L1456.2 236.4 L1456.2 236.8 L1456.2 238.9 L1456.3 241.4 L1456.4 244 L1456.6 246.5 L1456.8 249 L1457.1 251.6 L1457.3 254.1 L1457.6 256.6 L1457.9 259.2 L1458.2 261.7 L1458.4 264.2 L1458.7 266.8 L1458.9 269.3 L1459 270.1 L1459.1 271.8 L1459.3 274.4 L1459.6 276.9 L1459.8 279.4 L1460.1 281.9 L1460.3 284.5 L1460.5 287 L1460.7 289.5 L1460.8 292.1 L1460.9 294.6 L1461 297.1 L1461 297.8 L1461 299.7 L1460.9 302.2 L1460.8 304.7 L1460.7 307.3 L1460.5 309.8 L1460.4 312.3 L1460.2 314.9 L1460 317.4 L1459.9 319.9 L1459.7 322.5 L1459.6 325 L1459.4 327.5 L1459.3 330.1 L1459.3 332.6 L1459.3 334.7 L1459.3 335.1 L1459.3 337.7 L1459.3 340.2 L1459.4 342.7 L1459.5 345.3 L1459.5 347.8 L1459.6 350.3 L1459.8 352.9 L1459.9 355.4 L1460 357.9 L1460.2 360.5 L1460.3 362.4 L1460.3 363 L1460.5 365.5 L1460.8 368 L1461.1 370.6 L1461.4 373.1 L1461.8 375.6 L1462.2 378.2 L1462.6 380.7 L1463 383.2 L1463.4 385.8 L1463.7 388.3 L1464 390.2 L1464 390.8 L1464.3 393.4 L1464.6 395.9 L1464.9 398.4 L1465.2 401 L1465.5 403.5 L1474.1 403.5 L1474.3 401 L1474.6 398.4 L1474.9 395.9 L1475.2 393.4 L1475.5 390.8 L1475.6 390.2 L1475.8 388.3 L1476.2 385.8 L1476.5 383.2 L1476.9 380.7 L1477.3 378.2 L1477.7 375.6 L1478.1 373.1 L1478.5 370.6 L1478.8 368 L1479 365.5 L1479.2 363 L1479.3 362.4 L1479.4 360.5 L1479.5 357.9 L1479.7 355.4 L1479.8 352.9 L1479.9 350.3 L1480 347.8 L1480.1 345.3 L1480.2 342.7 L1480.2 340.2 L1480.3 337.7 L1480.3 335.1 L1480.3 334.7 L1480.3 332.6 L1480.2 330.1 L1480.1 327.5 L1480 325 L1479.8 322.5 L1479.7 319.9 L1479.5 317.4 L1479.3 314.9 L1479.2 312.3 L1479 309.8 L1478.8 307.3 L1478.7 304.7 L1478.6 302.2 L1478.6 299.7 L1478.6 297.8 L1478.6 297.1 L1478.6 294.6 L1478.7 292.1 L1478.9 289.5 L1479 287 L1479.3 284.5 L1479.5 281.9 L1479.7 279.4 L1480 276.9 L1480.2 274.4 L1480.4 271.8 L1480.6 270.1 L1480.6 269.3 L1480.9 266.8 L1481.1 264.2 L1481.4 261.7 L1481.7 259.2 L1481.9 256.6 L1482.2 254.1 L1482.5 251.6 L1482.7 249 L1483 246.5 L1483.1 244 L1483.3 241.4 L1483.3 238.9 L1483.4 236.8 L1483.3 236.4 L1481.7 233.8 L1480.8 233 L1477.2 231.3 Z" fill="#4c7eab" stroke="#4a4a4a" stroke-width="1.8" stroke-linejoin="round"/>
<line x1="1469.8" y1="231.3" x2="1469.8" y2="403.5" stroke="#484848" stroke-width="1.6"/><line x1="1469.8" y1="235.6" x2="1469.8" y2="336.9" stroke="#484848" stroke-width="6" stroke-linecap="round"/><path d="M1499.2 232.6 L1494.7 234.5 L1494 235.2 L1493 236.8 L1492.9 237.7 L1492.7 240.2 L1492.6 242.8 L1492.5 245.4 L1492.5 246.1 L1492.6 247.9 L1493 250.5 L1493.5 253 L1493.7 254 L1494 255.6 L1494.7 258.1 L1516.7 258.1 L1517.4 255.6 L1517.7 254 L1517.9 253 L1518.4 250.5 L1518.8 247.9 L1518.9 246.1 L1518.9 245.4 L1518.8 242.8 L1518.7 240.2 L1518.5 237.7 L1518.4 236.8 L1517.4 235.2 L1516.7 234.5 L1512.2 232.6 Z" fill="#4c7eab" stroke="#4a4a4a" stroke-width="1.8" stroke-linejoin="round"/>
<line x1="1505.7" y1="232.6" x2="1505.7" y2="258.1" stroke="#484848" stroke-width="1.6"/><line x1="1505.7" y1="237.5" x2="1505.7" y2="248.2" stroke="#484848" stroke-width="6" stroke-linecap="round"/><path d="M1530.9 212.8 L1530.6 215.3 L1530.3 217.8 L1530 220.3 L1529.7 222.8 L1529.4 225.3 L1529.1 227.8 L1528.9 230.4 L1528.8 232.9 L1528.7 235 L1528.7 235.4 L1528.7 237.9 L1528.7 240.4 L1528.6 242.9 L1528.6 245.4 L1528.6 247.9 L1528.5 250.4 L1528.5 252.9 L1528.5 255.4 L1528.5 257.9 L1528.4 260.4 L1528.4 263 L1528.4 265.5 L1528.4 268 L1528.4 270.5 L1528.4 273 L1528.3 275.5 L1528.3 278 L1528.3 280.5 L1528.3 283 L1528.3 285.5 L1528.3 288 L1528.3 290.5 L1528.3 293 L1528.3 295.5 L1528.2 298.1 L1528.2 300.6 L1528.2 303.1 L1528.2 305.6 L1528.2 308.1 L1528.2 310.6 L1528.2 313.1 L1528.2 315.6 L1528.2 316.3 L1528.2 318.1 L1528.2 320.6 L1528.2 323.1 L1528.2 325.6 L1528.3 328.1 L1528.3 330.7 L1528.3 333.2 L1528.3 335.7 L1528.3 338.2 L1528.3 340.7 L1528.3 343.2 L1528.4 345.7 L1528.4 348.2 L1528.4 350.7 L1528.4 353.2 L1528.5 355.7 L1528.5 358.2 L1528.5 360.7 L1528.5 363.3 L1528.6 365.8 L1528.6 368.3 L1528.6 370.8 L1528.7 373.3 L1528.7 375.8 L1528.7 378.3 L1528.8 380.8 L1528.8 383.3 L1528.8 385.8 L1528.9 388.3 L1528.9 390.8 L1528.9 393.3 L1529 395.9 L1529 398.4 L1529 400.9 L1529.1 403.4 L1529.1 405.9 L1529.1 408.4 L1529.1 408.6 L1529.2 410.9 L1529.2 413.4 L1529.2 415.9 L1529.3 418.4 L1529.3 420.9 L1529.3 423.4 L1529.4 425.9 L1529.4 428.5 L1529.4 431 L1529.5 433.5 L1529.5 436 L1529.5 438.5 L1529.6 441 L1529.6 443.5 L1529.7 446 L1529.7 448.5 L1529.8 451 L1529.8 453.5 L1529.8 456 L1529.9 458.5 L1529.9 461 L1530 463.6 L1530 466.1 L1530.1 468.6 L1530.1 470 L1530.2 471.1 L1530.2 473.6 L1530.3 476.1 L1530.3 478.6 L1530.4 481.1 L1530.5 483.6 L1530.6 486.1 L1530.6 488.6 L1530.7 491.1 L1530.8 493.6 L1530.9 496.2 L1531 498.7 L1531.1 501.2 L1531.2 503.7 L1531.2 506.2 L1531.3 508.7 L1531.4 511.2 L1551.8 511.2 L1551.9 508.7 L1552 506.2 L1552.1 503.7 L1552.2 501.2 L1552.3 498.7 L1552.4 496.2 L1552.5 493.6 L1552.5 491.1 L1552.6 488.6 L1552.7 486.1 L1552.8 483.6 L1552.8 481.1 L1552.9 478.6 L1553 476.1 L1553 473.6 L1553.1 471.1 L1553.1 470 L1553.2 468.6 L1553.2 466.1 L1553.3 463.6 L1553.3 461 L1553.4 458.5 L1553.4 456 L1553.5 453.5 L1553.5 451 L1553.6 448.5 L1553.6 446 L1553.6 443.5 L1553.7 441 L1553.7 438.5 L1553.8 436 L1553.8 433.5 L1553.8 431 L1553.9 428.5 L1553.9 425.9 L1553.9 423.4 L1554 420.9 L1554 418.4 L1554 415.9 L1554.1 413.4 L1554.1 410.9 L1554.1 408.6 L1554.1 408.4 L1554.2 405.9 L1554.2 403.4 L1554.2 400.9 L1554.3 398.4 L1554.3 395.9 L1554.3 393.3 L1554.4 390.8 L1554.4 388.3 L1554.4 385.8 L1554.5 383.3 L1554.5 380.8 L1554.5 378.3 L1554.6 375.8 L1554.6 373.3 L1554.6 370.8 L1554.7 368.3 L1554.7 365.8 L1554.7 363.3 L1554.7 360.7 L1554.8 358.2 L1554.8 355.7 L1554.8 353.2 L1554.8 350.7 L1554.9 348.2 L1554.9 345.7 L1554.9 343.2 L1554.9 340.7 L1555 338.2 L1555 335.7 L1555 333.2 L1555 330.7 L1555 328.1 L1555 325.6 L1555 323.1 L1555 320.6 L1555 318.1 L1555 316.3 L1555 315.6 L1555 313.1 L1555 310.6 L1555 308.1 L1555 305.6 L1555 303.1 L1555 300.6 L1555 298.1 L1555 295.5 L1555 293 L1555 290.5 L1555 288 L1555 285.5 L1555 283 L1554.9 280.5 L1554.9 278 L1554.9 275.5 L1554.9 273 L1554.9 270.5 L1554.9 268 L1554.9 265.5 L1554.8 263 L1554.8 260.4 L1554.8 257.9 L1554.8 255.4 L1554.7 252.9 L1554.7 250.4 L1554.7 247.9 L1554.7 245.4 L1554.6 242.9 L1554.6 240.4 L1554.6 237.9 L1554.5 235.4 L1554.5 235 L1554.5 232.9 L1554.3 230.4 L1554.1 227.8 L1553.9 225.3 L1553.6 222.8 L1553.3 220.3 L1553 217.8 L1552.6 215.3 L1552.3 212.8 Z" fill="#4c7eab" stroke="#4a4a4a" stroke-width="1.8" stroke-linejoin="round"/>
<line x1="1541.6" y1="212.8" x2="1541.6" y2="511.2" stroke="#484848" stroke-width="1.6"/><line x1="1541.6" y1="218.1" x2="1541.6" y2="335" stroke="#484848" stroke-width="6" stroke-linecap="round"/><path d="M1568.4 173.6 L1568.3 176.1 L1568.3 178.7 L1568.3 181.2 L1568.2 183.7 L1568.1 186.3 L1568 188.8 L1567.9 191.3 L1567.8 193.9 L1567.7 196.4 L1567.5 198.9 L1567.4 201.5 L1567.2 204 L1567.2 205.4 L1567.1 206.5 L1566.8 209.1 L1566.4 211.6 L1566 214.1 L1565.6 216.7 L1565.1 219.2 L1564.8 221.7 L1564.5 224.3 L1564.4 226.8 L1564.4 227.6 L1564.4 229.4 L1564.4 231.9 L1564.5 234.4 L1564.6 237 L1564.7 239.5 L1564.8 242 L1564.9 244.6 L1565 247.1 L1565 249.6 L1565.1 251.6 L1565.1 252.2 L1565.1 254.7 L1565.1 257.2 L1565.1 259.8 L1565.1 262.3 L1565.1 264.8 L1565.1 267.4 L1565.1 269.9 L1565.1 272.4 L1565.1 275 L1565.1 277.5 L1590.1 277.5 L1590.1 275 L1590.1 272.4 L1590.1 269.9 L1590.1 267.4 L1590.1 264.8 L1590.1 262.3 L1590.1 259.8 L1590.1 257.2 L1590.1 254.7 L1590.1 252.2 L1590.1 251.6 L1590.1 249.6 L1590.1 247.1 L1590.2 244.6 L1590.3 242 L1590.4 239.5 L1590.5 237 L1590.6 234.4 L1590.7 231.9 L1590.7 229.4 L1590.8 227.6 L1590.8 226.8 L1590.6 224.3 L1590.3 221.7 L1590 219.2 L1589.6 216.7 L1589.1 214.1 L1588.7 211.6 L1588.3 209.1 L1588 206.5 L1588 205.4 L1587.9 204 L1587.7 201.5 L1587.6 198.9 L1587.4 196.4 L1587.3 193.9 L1587.2 191.3 L1587.1 188.8 L1587 186.3 L1586.9 183.7 L1586.8 181.2 L1586.8 178.7 L1586.8 176.1 L1586.8 173.6 Z" fill="#4c7eab" stroke="#4a4a4a" stroke-width="1.8" stroke-linejoin="round"/>
<line x1="1577.6" y1="173.6" x2="1577.6" y2="277.5" stroke="#484848" stroke-width="1.6"/><line x1="1577.6" y1="182.1" x2="1577.6" y2="229.7" stroke="#484848" stroke-width="6" stroke-linecap="round"/><path d="M1608 212.8 L1604 215 L1603.7 215.3 L1601.6 217.8 L1601 219 L1600.6 220.3 L1600.1 222.8 L1600.1 223 L1600.6 225.3 L1601.9 227.8 L1602 228 L1603.9 230.3 L1605.9 232.8 L1606.1 233.1 L1607 235.3 L1607.8 237.8 L1608.4 240.3 L1608.6 242.4 L1608.6 242.8 L1608.7 245.3 L1608.8 247.8 L1608.8 250.3 L1608.9 252.8 L1608.9 255.3 L1618.1 255.3 L1618.1 252.8 L1618.1 250.3 L1618.2 247.8 L1618.3 245.3 L1618.4 242.8 L1618.4 242.4 L1618.6 240.3 L1619.2 237.8 L1620 235.3 L1620.9 233.1 L1621 232.8 L1623.1 230.3 L1625 228 L1625.1 227.8 L1626.3 225.3 L1626.9 223 L1626.9 222.8 L1626.4 220.3 L1626 219 L1625.4 217.8 L1623.3 215.3 L1623 215 L1619 212.8 Z" fill="#4c7eab" stroke="#4a4a4a" stroke-width="1.8" stroke-linejoin="round"/>
<line x1="1613.5" y1="212.8" x2="1613.5" y2="255.3" stroke="#484848" stroke-width="1.6"/><line x1="1613.5" y1="218.1" x2="1613.5" y2="226" stroke="#484848" stroke-width="6" stroke-linecap="round"/><path d="M1642.4 186.9 L1642.1 189.4 L1641.7 192 L1641.4 194.5 L1641 197 L1640.6 199.6 L1640.2 202.1 L1639.8 204.6 L1639.7 205.4 L1639.4 207.2 L1638.9 209.7 L1638.3 212.2 L1637.7 214.8 L1637.2 217.3 L1636.7 219.8 L1636.4 222.4 L1636.2 224.9 L1636.2 225.7 L1636.3 227.4 L1636.5 230 L1636.8 232.5 L1637.2 235.1 L1637.6 237.6 L1637.8 240.1 L1637.9 242.4 L1637.9 242.7 L1637.9 245.2 L1637.9 247.7 L1637.9 250.3 L1637.9 252.8 L1637.9 255.3 L1637.9 257.9 L1637.9 260.4 L1637.9 262.9 L1637.9 265.5 L1637.9 268 L1637.9 270.5 L1637.9 273.1 L1637.9 275.6 L1660.9 275.6 L1660.9 273.1 L1660.9 270.5 L1660.9 268 L1660.9 265.5 L1660.9 262.9 L1660.9 260.4 L1660.9 257.9 L1660.9 255.3 L1660.9 252.8 L1660.9 250.3 L1660.9 247.7 L1660.9 245.2 L1660.9 242.7 L1660.9 242.4 L1661 240.1 L1661.3 237.6 L1661.6 235.1 L1662 232.5 L1662.3 230 L1662.6 227.4 L1662.6 225.7 L1662.6 224.9 L1662.4 222.4 L1662.1 219.8 L1661.6 217.3 L1661.1 214.8 L1660.5 212.2 L1659.9 209.7 L1659.4 207.2 L1659.1 205.4 L1659 204.6 L1658.6 202.1 L1658.2 199.6 L1657.8 197 L1657.5 194.5 L1657.1 192 L1656.8 189.4 L1656.4 186.9 Z" fill="#4c7eab" stroke="#4a4a4a" stroke-width="1.8" stroke-linejoin="round"/>
<line x1="1649.4" y1="186.9" x2="1649.4" y2="275.6" stroke="#484848" stroke-width="1.6"/><line x1="1649.4" y1="204.2" x2="1649.4" y2="230.6" stroke="#484848" stroke-width="6" stroke-linecap="round"/><path d="M1675.3 169.4 L1673.2 170.6 L1672.8 171 L1672.5 171.8 L1672.2 173.1 L1672.2 173.1 L1672.5 174.3 L1673.1 175.5 L1673.3 176 L1673.9 176.8 L1675.3 178 L1677 179.2 L1693.6 179.2 L1695.4 178 L1696.8 176.8 L1697.3 176 L1697.6 175.5 L1698.2 174.3 L1698.4 173.1 L1698.4 173.1 L1698.2 171.8 L1697.8 171 L1697.5 170.6 L1695.3 169.4 Z" fill="#4c7eab" stroke="#4a4a4a" stroke-width="1.8" stroke-linejoin="round"/>
<line x1="1685.3" y1="169.4" x2="1685.3" y2="179.2" stroke="#484848" stroke-width="1.6"/><line x1="1685.3" y1="173" x2="1685.3" y2="175.5" stroke="#484848" stroke-width="6" stroke-linecap="round"/><path d="M1711.4 83.7 L1711.3 86.3 L1711.3 88.8 L1711.3 91.4 L1711.2 93.9 L1711.2 96.5 L1711.1 99 L1711 101.6 L1711 104.2 L1710.9 106.7 L1710.8 109.3 L1710.8 110 L1710.7 111.8 L1710.6 114.4 L1710.5 116.9 L1710.4 119.5 L1710.3 122.1 L1710.2 124.6 L1710 127.2 L1709.9 129.7 L1709.7 132.3 L1709.6 134.8 L1709.6 135.5 L1709.5 137.4 L1709.3 140 L1709.1 142.5 L1708.9 145.1 L1708.7 147.6 L1708.5 150.2 L1708.4 152.7 L1708.3 155.3 L1708.3 157.6 L1708.3 157.9 L1708.3 160.4 L1708.3 163 L1708.3 165.5 L1708.3 168.1 L1708.4 170.6 L1708.5 173.2 L1734.1 173.2 L1734.2 170.6 L1734.2 168.1 L1734.3 165.5 L1734.3 163 L1734.3 160.4 L1734.3 157.9 L1734.3 157.6 L1734.2 155.3 L1734.2 152.7 L1734 150.2 L1733.9 147.6 L1733.7 145.1 L1733.5 142.5 L1733.3 140 L1733.1 137.4 L1733 135.5 L1732.9 134.8 L1732.8 132.3 L1732.7 129.7 L1732.5 127.2 L1732.4 124.6 L1732.3 122.1 L1732.2 119.5 L1732 116.9 L1731.9 114.4 L1731.8 111.8 L1731.8 110 L1731.8 109.3 L1731.7 106.7 L1731.6 104.2 L1731.5 101.6 L1731.5 99 L1731.4 96.5 L1731.3 93.9 L1731.3 91.4 L1731.2 88.8 L1731.2 86.3 L1731.2 83.7 Z" fill="#4c7eab" stroke="#4a4a4a" stroke-width="1.8" stroke-linejoin="round"/>
<line x1="1721.3" y1="83.7" x2="1721.3" y2="173.2" stroke="#484848" stroke-width="1.6"/><line x1="1721.3" y1="93.6" x2="1721.3" y2="162.5" stroke="#484848" stroke-width="6" stroke-linecap="round"/><path d="M1744.9 68.5 L1744.2 71 L1744 72 L1743.9 73.5 L1743.8 76.1 L1743.7 78.6 L1743.7 78.8 L1743.9 81.1 L1744.6 83.7 L1745.3 86.2 L1745.7 88 L1745.8 88.7 L1746.2 91.2 L1746.6 93.8 L1746.9 96.3 L1747.3 98.5 L1747.4 98.8 L1747.9 101.3 L1748.5 103.9 L1749.1 106.4 L1749.8 108.9 L1764.6 108.9 L1765.3 106.4 L1765.9 103.9 L1766.5 101.3 L1767 98.8 L1767.1 98.5 L1767.5 96.3 L1767.8 93.8 L1768.2 91.2 L1768.6 88.7 L1768.7 88 L1769.1 86.2 L1769.8 83.7 L1770.5 81.1 L1770.7 78.8 L1770.7 78.6 L1770.7 76.1 L1770.5 73.5 L1770.4 72 L1770.3 71 L1769.5 68.5 Z" fill="#4c7eab" stroke="#4a4a4a" stroke-width="1.8" stroke-linejoin="round"/>
<line x1="1757.2" y1="68.5" x2="1757.2" y2="108.9" stroke="#484848" stroke-width="1.6"/><line x1="1757.2" y1="72.7" x2="1757.2" y2="92.3" stroke="#484848" stroke-width="6" stroke-linecap="round"/><path d="M1791.1 57.1 L1788.9 59.7 L1788.6 60 L1787 62.3 L1785.7 64 L1785 64.9 L1782.7 67.5 L1782.3 68 L1780.6 70.1 L1779.6 72.2 L1779.7 72.7 L1782 75.3 L1782.6 76 L1784.2 78 L1786.3 80.6 L1786.9 81.3 L1788.7 83.2 L1790.8 85.8 L1790.8 86.2 L1791 88.4 L1791.1 91 L1791.1 93.6 L1795.1 93.6 L1795.2 91 L1795.3 88.4 L1795.4 86.2 L1795.5 85.8 L1797.5 83.2 L1799.3 81.3 L1799.9 80.6 L1802.1 78 L1803.6 76 L1804.2 75.3 L1806.5 72.7 L1806.6 72.2 L1805.7 70.1 L1803.9 68 L1803.6 67.5 L1801.3 64.9 L1800.5 64 L1799.3 62.3 L1797.6 60 L1797.4 59.7 L1795.1 57.1 Z" fill="#4c7eab" stroke="#4a4a4a" stroke-width="1.8" stroke-linejoin="round"/>
<line x1="1793.1" y1="57.1" x2="1793.1" y2="93.6" stroke="#484848" stroke-width="1.6"/><line x1="1793.1" y1="69" x2="1793.1" y2="76.3" stroke="#484848" stroke-width="6" stroke-linecap="round"/><line x1="1390.9" y1="235.3" x2="1404.9" y2="235.3" stroke="#4a4a4a" stroke-width="1.2"/></g>
<line x1="158.3" y1="412" x2="1809.1" y2="412" stroke="#000" stroke-width="3.75" stroke-dasharray="13.59 5.87"/>
<rect x="158.3" y="15.5" width="1652.8" height="661" fill="none" stroke="#000" stroke-width="3.06"/>
<g><circle cx="176.3" cy="674.4" r="1.15" fill="#fff"/><circle cx="212.2" cy="670.7" r="1.15" fill="#fff"/><circle cx="248.2" cy="669.1" r="1.15" fill="#fff"/><circle cx="284.1" cy="668.5" r="1.15" fill="#fff"/><circle cx="320" cy="668.9" r="1.15" fill="#fff"/><circle cx="356" cy="667.6" r="1.15" fill="#fff"/><circle cx="391.9" cy="667.6" r="1.15" fill="#fff"/><circle cx="427.8" cy="664.8" r="1.15" fill="#fff"/><circle cx="463.7" cy="663.9" r="1.15" fill="#fff"/><circle cx="499.7" cy="663.3" r="1.15" fill="#fff"/><circle cx="535.6" cy="660.2" r="1.15" fill="#fff"/><circle cx="571.5" cy="660.8" r="1.15" fill="#fff"/><circle cx="607.5" cy="660.4" r="1.15" fill="#fff"/><circle cx="643.4" cy="660.4" r="1.15" fill="#fff"/><circle cx="679.3" cy="651.3" r="1.15" fill="#fff"/><circle cx="715.3" cy="639.9" r="1.15" fill="#fff"/><circle cx="751.2" cy="635.9" r="1.15" fill="#fff"/><circle cx="787.1" cy="623.7" r="1.15" fill="#fff"/><circle cx="823" cy="593.6" r="1.15" fill="#fff"/><circle cx="859" cy="580.1" r="1.15" fill="#fff"/><circle cx="894.9" cy="565.9" r="1.15" fill="#fff"/><circle cx="930.8" cy="564.7" r="1.15" fill="#fff"/><circle cx="966.8" cy="562" r="1.15" fill="#fff"/><circle cx="1002.7" cy="557" r="1.15" fill="#fff"/><circle cx="1038.6" cy="538.2" r="1.15" fill="#fff"/><circle cx="1074.5" cy="497" r="1.15" fill="#fff"/><circle cx="1110.5" cy="495.5" r="1.15" fill="#fff"/><circle cx="1146.4" cy="470.4" r="1.15" fill="#fff"/><circle cx="1182.3" cy="451.9" r="1.15" fill="#fff"/><circle cx="1218.3" cy="441.6" r="1.15" fill="#fff"/><circle cx="1254.2" cy="426.4" r="1.15" fill="#fff"/><circle cx="1290.1" cy="423.6" r="1.15" fill="#fff"/><circle cx="1326.1" cy="389.1" r="1.15" fill="#fff"/><circle cx="1362" cy="327.6" r="1.15" fill="#fff"/><circle cx="1397.9" cy="272.7" r="1.15" fill="#fff"/><circle cx="1433.8" cy="261.6" r="1.15" fill="#fff"/><circle cx="1469.8" cy="261.2" r="1.15" fill="#fff"/><circle cx="1505.7" cy="237.7" r="1.15" fill="#fff"/><circle cx="1541.6" cy="234.6" r="1.15" fill="#fff"/><circle cx="1577.6" cy="228.3" r="1.15" fill="#fff"/><circle cx="1613.5" cy="223.9" r="1.15" fill="#fff"/><circle cx="1649.4" cy="223.3" r="1.15" fill="#fff"/><circle cx="1685.3" cy="174.4" r="1.15" fill="#fff"/><circle cx="1721.3" cy="151.5" r="1.15" fill="#fff"/><circle cx="1757.2" cy="82.5" r="1.15" fill="#fff"/><circle cx="1793.1" cy="71.7" r="1.15" fill="#fff"/></g>
<line x1="143.3" y1="676.5" x2="158.3" y2="676.5" stroke="#1a1a1a" stroke-width="3.06"/><text class="t" x="133.3" y="687.9" text-anchor="end">0</text>
<line x1="143.3" y1="588.3" x2="158.3" y2="588.3" stroke="#1a1a1a" stroke-width="3.06"/><text class="t" x="133.3" y="599.7" text-anchor="end">2</text>
<line x1="143.3" y1="500.1" x2="158.3" y2="500.1" stroke="#1a1a1a" stroke-width="3.06"/><text class="t" x="133.3" y="511.5" text-anchor="end">4</text>
<line x1="143.3" y1="412" x2="158.3" y2="412" stroke="#1a1a1a" stroke-width="3.06"/><text class="t" x="133.3" y="423.4" text-anchor="end">6</text>
<line x1="143.3" y1="323.8" x2="158.3" y2="323.8" stroke="#1a1a1a" stroke-width="3.06"/><text class="t" x="133.3" y="335.2" text-anchor="end">8</text>
<line x1="143.3" y1="235.6" x2="158.3" y2="235.6" stroke="#1a1a1a" stroke-width="3.06"/><text class="t" x="133.3" y="247" text-anchor="end">10</text>
<line x1="143.3" y1="162.2" x2="158.3" y2="162.2" stroke="#1a1a1a" stroke-width="3.06"/><text class="t" x="133.3" y="173.6" text-anchor="end">40</text>
<line x1="143.3" y1="88.9" x2="158.3" y2="88.9" stroke="#1a1a1a" stroke-width="3.06"/><text class="t" x="133.3" y="100.3" text-anchor="end">70</text>
<line x1="143.3" y1="15.5" x2="158.3" y2="15.5" stroke="#1a1a1a" stroke-width="3.06"/><text class="t" x="133.3" y="26.9" text-anchor="end">100</text>
<line x1="176.3" y1="676.5" x2="176.3" y2="691.5" stroke="#000" stroke-width="3.06"/><text class="m" transform="translate(176.3 697.5) rotate(-45)" text-anchor="end" x="0" y="13">1 (N= 5)</text>
<line x1="212.2" y1="676.5" x2="212.2" y2="691.5" stroke="#000" stroke-width="3.06"/><text class="m" transform="translate(212.2 697.5) rotate(-45)" text-anchor="end" x="0" y="13">2 (N= 5)</text>
<line x1="248.2" y1="676.5" x2="248.2" y2="691.5" stroke="#000" stroke-width="3.06"/><text class="m" transform="translate(248.2 697.5) rotate(-45)" text-anchor="end" x="0" y="13">3 (N= 5)</text>
<line x1="284.1" y1="676.5" x2="284.1" y2="691.5" stroke="#000" stroke-width="3.06"/><text class="m" transform="translate(284.1 697.5) rotate(-45)" text-anchor="end" x="0" y="13">4 (N=19)</text>
<line x1="320" y1="676.5" x2="320" y2="691.5" stroke="#000" stroke-width="3.06"/><text class="m" transform="translate(320 697.5) rotate(-45)" text-anchor="end" x="0" y="13">5 (N= 5)</text>
<line x1="356" y1="676.5" x2="356" y2="691.5" stroke="#000" stroke-width="3.06"/><text class="m" transform="translate(356 697.5) rotate(-45)" text-anchor="end" x="0" y="13">6 (N= 5)</text>
<line x1="391.9" y1="676.5" x2="391.9" y2="691.5" stroke="#000" stroke-width="3.06"/><text class="m" transform="translate(391.9 697.5) rotate(-45)" text-anchor="end" x="0" y="13">7 (N= 6)</text>
<line x1="427.8" y1="676.5" x2="427.8" y2="691.5" stroke="#000" stroke-width="3.06"/><text class="m" transform="translate(427.8 697.5) rotate(-45)" text-anchor="end" x="0" y="13">8 (N= 5)</text>
<line x1="463.7" y1="676.5" x2="463.7" y2="691.5" stroke="#000" stroke-width="3.06"/><text class="m" transform="translate(463.7 697.5) rotate(-45)" text-anchor="end" x="0" y="13">9 (N= 6)</text>
<line x1="499.7" y1="676.5" x2="499.7" y2="691.5" stroke="#000" stroke-width="3.06"/><text class="m" transform="translate(499.7 697.5) rotate(-45)" text-anchor="end" x="0" y="13">10 (N= 5)</text>
<line x1="535.6" y1="676.5" x2="535.6" y2="691.5" stroke="#000" stroke-width="3.06"/><text class="m" transform="translate(535.6 697.5) rotate(-45)" text-anchor="end" x="0" y="13">11 (N= 5)</text>
<line x1="571.5" y1="676.5" x2="571.5" y2="691.5" stroke="#000" stroke-width="3.06"/><text class="m" transform="translate(571.5 697.5) rotate(-45)" text-anchor="end" x="0" y="13">12 (N=20)</text>
<line x1="607.5" y1="676.5" x2="607.5" y2="691.5" stroke="#000" stroke-width="3.06"/><text class="m" transform="translate(607.5 697.5) rotate(-45)" text-anchor="end" x="0" y="13">13 (N=20)</text>
<line x1="643.4" y1="676.5" x2="643.4" y2="691.5" stroke="#000" stroke-width="3.06"/><text class="m" transform="translate(643.4 697.5) rotate(-45)" text-anchor="end" x="0" y="13">14 (N= 5)</text>
<line x1="679.3" y1="676.5" x2="679.3" y2="691.5" stroke="#000" stroke-width="3.06"/><text class="m" transform="translate(679.3 697.5) rotate(-45)" text-anchor="end" x="0" y="13">15 (N= 5)</text>
<line x1="715.3" y1="676.5" x2="715.3" y2="691.5" stroke="#000" stroke-width="3.06"/><text class="m" transform="translate(715.3 697.5) rotate(-45)" text-anchor="end" x="0" y="13">16 (N= 5)</text>
<line x1="751.2" y1="676.5" x2="751.2" y2="691.5" stroke="#000" stroke-width="3.06"/><text class="m" transform="translate(751.2 697.5) rotate(-45)" text-anchor="end" x="0" y="13">17 (N=20)</text>
<line x1="787.1" y1="676.5" x2="787.1" y2="691.5" stroke="#000" stroke-width="3.06"/><text class="m" transform="translate(787.1 697.5) rotate(-45)" text-anchor="end" x="0" y="13">18 (N= 6)</text>
<line x1="823" y1="676.5" x2="823" y2="691.5" stroke="#000" stroke-width="3.06"/><text class="m" transform="translate(823 697.5) rotate(-45)" text-anchor="end" x="0" y="13">19 (N= 5)</text>
<line x1="859" y1="676.5" x2="859" y2="691.5" stroke="#000" stroke-width="3.06"/><text class="m" transform="translate(859 697.5) rotate(-45)" text-anchor="end" x="0" y="13">20 (N=10)</text>
<line x1="894.9" y1="676.5" x2="894.9" y2="691.5" stroke="#000" stroke-width="3.06"/><text class="m" transform="translate(894.9 697.5) rotate(-45)" text-anchor="end" x="0" y="13">21 (N= 5)</text>
<line x1="930.8" y1="676.5" x2="930.8" y2="691.5" stroke="#000" stroke-width="3.06"/><text class="m" transform="translate(930.8 697.5) rotate(-45)" text-anchor="end" x="0" y="13">22 (N=20)</text>
<line x1="966.8" y1="676.5" x2="966.8" y2="691.5" stroke="#000" stroke-width="3.06"/><text class="m" transform="translate(966.8 697.5) rotate(-45)" text-anchor="end" x="0" y="13">23 (N= 9)</text>
<line x1="1002.7" y1="676.5" x2="1002.7" y2="691.5" stroke="#000" stroke-width="3.06"/><text class="m" transform="translate(1002.7 697.5) rotate(-45)" text-anchor="end" x="0" y="13">24 (N= 5)</text>
<line x1="1038.6" y1="676.5" x2="1038.6" y2="691.5" stroke="#000" stroke-width="3.06"/><text class="m" transform="translate(1038.6 697.5) rotate(-45)" text-anchor="end" x="0" y="13">25 (N= 5)</text>
<line x1="1074.5" y1="676.5" x2="1074.5" y2="691.5" stroke="#000" stroke-width="3.06"/><text class="m" transform="translate(1074.5 697.5) rotate(-45)" text-anchor="end" x="0" y="13">26 (N= 5)</text>
<line x1="1110.5" y1="676.5" x2="1110.5" y2="691.5" stroke="#000" stroke-width="3.06"/><text class="m" transform="translate(1110.5 697.5) rotate(-45)" text-anchor="end" x="0" y="13">27 (N=15)</text>
<line x1="1146.4" y1="676.5" x2="1146.4" y2="691.5" stroke="#000" stroke-width="3.06"/><text class="m" transform="translate(1146.4 697.5) rotate(-45)" text-anchor="end" x="0" y="13">28 (N= 5)</text>
<line x1="1182.3" y1="676.5" x2="1182.3" y2="691.5" stroke="#000" stroke-width="3.06"/><text class="m" transform="translate(1182.3 697.5) rotate(-45)" text-anchor="end" x="0" y="13">29 (N= 5)</text>
<line x1="1218.3" y1="676.5" x2="1218.3" y2="691.5" stroke="#000" stroke-width="3.06"/><text class="m" transform="translate(1218.3 697.5) rotate(-45)" text-anchor="end" x="0" y="13">30 (N= 5)</text>
<line x1="1254.2" y1="676.5" x2="1254.2" y2="691.5" stroke="#000" stroke-width="3.06"/><text class="m" transform="translate(1254.2 697.5) rotate(-45)" text-anchor="end" x="0" y="13">31 (N= 5)</text>
<line x1="1290.1" y1="676.5" x2="1290.1" y2="691.5" stroke="#000" stroke-width="3.06"/><text class="m" transform="translate(1290.1 697.5) rotate(-45)" text-anchor="end" x="0" y="13">32 (N= 5)</text>
<line x1="1326.1" y1="676.5" x2="1326.1" y2="691.5" stroke="#000" stroke-width="3.06"/><text class="m" transform="translate(1326.1 697.5) rotate(-45)" text-anchor="end" x="0" y="13">33 (N=20)</text>
<line x1="1362" y1="676.5" x2="1362" y2="691.5" stroke="#000" stroke-width="3.06"/><text class="m" transform="translate(1362 697.5) rotate(-45)" text-anchor="end" x="0" y="13">34 (N= 5)</text>
<line x1="1397.9" y1="676.5" x2="1397.9" y2="691.5" stroke="#000" stroke-width="3.06"/><text class="m" transform="translate(1397.9 697.5) rotate(-45)" text-anchor="end" x="0" y="13">35 (N= 5)</text>
<line x1="1433.8" y1="676.5" x2="1433.8" y2="691.5" stroke="#000" stroke-width="3.06"/><text class="m" transform="translate(1433.8 697.5) rotate(-45)" text-anchor="end" x="0" y="13">36 (N=20)</text>
<line x1="1469.8" y1="676.5" x2="1469.8" y2="691.5" stroke="#000" stroke-width="3.06"/><text class="m" transform="translate(1469.8 697.5) rotate(-45)" text-anchor="end" x="0" y="13">37 (N=50)</text>
<line x1="1505.7" y1="676.5" x2="1505.7" y2="691.5" stroke="#000" stroke-width="3.06"/><text class="m" transform="translate(1505.7 697.5) rotate(-45)" text-anchor="end" x="0" y="13">38 (N= 5)</text>
<line x1="1541.6" y1="676.5" x2="1541.6" y2="691.5" stroke="#000" stroke-width="3.06"/><text class="m" transform="translate(1541.6 697.5) rotate(-45)" text-anchor="end" x="0" y="13">39 (N= 5)</text>
<line x1="1577.6" y1="676.5" x2="1577.6" y2="691.5" stroke="#000" stroke-width="3.06"/><text class="m" transform="translate(1577.6 697.5) rotate(-45)" text-anchor="end" x="0" y="13">40 (N= 5)</text>
<line x1="1613.5" y1="676.5" x2="1613.5" y2="691.5" stroke="#000" stroke-width="3.06"/><text class="m" transform="translate(1613.5 697.5) rotate(-45)" text-anchor="end" x="0" y="13">41 (N=19)</text>
<line x1="1649.4" y1="676.5" x2="1649.4" y2="691.5" stroke="#000" stroke-width="3.06"/><text class="m" transform="translate(1649.4 697.5) rotate(-45)" text-anchor="end" x="0" y="13">42 (N= 6)</text>
<line x1="1685.3" y1="676.5" x2="1685.3" y2="691.5" stroke="#000" stroke-width="3.06"/><text class="m" transform="translate(1685.3 697.5) rotate(-45)" text-anchor="end" x="0" y="13">43 (N=10)</text>
<line x1="1721.3" y1="676.5" x2="1721.3" y2="691.5" stroke="#000" stroke-width="3.06"/><text class="m" transform="translate(1721.3 697.5) rotate(-45)" text-anchor="end" x="0" y="13">44 (N= 5)</text>
<line x1="1757.2" y1="676.5" x2="1757.2" y2="691.5" stroke="#000" stroke-width="3.06"/><text class="m" transform="translate(1757.2 697.5) rotate(-45)" text-anchor="end" x="0" y="13">45 (N= 5)</text>
<line x1="1793.1" y1="676.5" x2="1793.1" y2="691.5" stroke="#000" stroke-width="3.06"/><text class="m" transform="translate(1793.1 697.5) rotate(-45)" text-anchor="end" x="0" y="13">46 (N=50)</text>
<text class="l" x="984.7" y="828.3" text-anchor="middle">Mask Batch</text>
<text class="yl" transform="translate(72 346) rotate(-90)" text-anchor="middle">Passage (%)</text>
<text class="ti" x="984.7" y="71.4" text-anchor="middle">FFP2</text>
<text class="pl" transform="translate(-0.3 44.5) scale(1.03 1)">a</text><text style="font-size:53.8px" transform="translate(28.7 46.5) scale(1.283 1)">)</text>
</g>
<g id="panel-b">
<clipPath id="cp-b"><rect x="158.3" y="884" width="1652.8" height="661.2"/></clipPath>
<rect x="158.3" y="884" width="1652.8" height="220.3" fill="#eeeeee"/>
<line x1="158.3" y1="1457" x2="1809.1" y2="1457" stroke="#d0d0d0" stroke-width="3.06" stroke-dasharray="3.06 5.049"/>
<line x1="158.3" y1="1368.8" x2="1809.1" y2="1368.8" stroke="#d0d0d0" stroke-width="3.06" stroke-dasharray="3.06 5.049"/>
<line x1="158.3" y1="1192.5" x2="1809.1" y2="1192.5" stroke="#d0d0d0" stroke-width="3.06" stroke-dasharray="3.06 5.049"/>
<line x1="158.3" y1="1030.9" x2="1809.1" y2="1030.9" stroke="#d0d0d0" stroke-width="3.06" stroke-dasharray="3.06 5.049"/>
<line x1="158.3" y1="957.4" x2="1809.1" y2="957.4" stroke="#d0d0d0" stroke-width="3.06" stroke-dasharray="3.06 5.049"/>
<line x1="158.3" y1="1103.4" x2="1809.1" y2="1103.4" stroke="#dedede" stroke-width="1.8" stroke-dasharray="3.06 5.049"/>
<g clip-path="url(#cp-b)">
<path d="M177.1 1267.5 L177.1 1270 L177.1 1272.5 L177.1 1275 L177.1 1277.6 L177.1 1280.1 L177.1 1282.6 L177 1285.1 L177 1287.6 L177 1290.1 L177 1292.7 L177 1295.2 L177 1297.7 L176.9 1300.2 L176.9 1302.7 L176.9 1305.2 L176.9 1307.8 L176.8 1310.3 L176.8 1312.8 L176.8 1315.3 L176.7 1317.8 L176.7 1320.3 L176.6 1322.8 L176.6 1325.4 L176.6 1327.9 L176.5 1330.4 L176.5 1332.9 L176.4 1335.4 L176.4 1337.9 L176.3 1340 L176.3 1340.5 L176.3 1343 L176.2 1345.5 L176.1 1348 L175.9 1350.5 L175.8 1353 L175.6 1355.6 L175.4 1358.1 L175.2 1360.6 L175 1363.1 L174.7 1365.6 L174.5 1368.1 L174.3 1370.6 L174 1373.2 L173.8 1375.7 L173.6 1377.5 L173.5 1378.2 L173.2 1380.7 L172.9 1383.2 L172.5 1385.7 L172.1 1388.3 L171.7 1390.8 L171.2 1393.3 L170.8 1395.8 L170.3 1398.3 L169.9 1400.8 L169.5 1403.4 L169.1 1405.9 L168.8 1408.4 L168.5 1410.9 L168.2 1413.4 L168.1 1415 L168 1415.9 L167.9 1418.4 L167.7 1421 L167.5 1423.5 L167.4 1426 L167.2 1428.5 L167.1 1431 L167 1433.5 L166.9 1436.1 L166.9 1438.6 L166.9 1440 L166.9 1441.1 L166.9 1443.6 L167 1446.1 L167 1448.6 L167.1 1451.2 L167.2 1453.7 L167.3 1456.2 L167.5 1458.7 L167.7 1461.2 L167.9 1463.7 L168.1 1466.2 L192.1 1466.2 L192.3 1463.7 L192.5 1461.2 L192.7 1458.7 L192.8 1456.2 L193 1453.7 L193.1 1451.2 L193.2 1448.6 L193.2 1446.1 L193.3 1443.6 L193.3 1441.1 L193.3 1440 L193.3 1438.6 L193.3 1436.1 L193.2 1433.5 L193.1 1431 L193 1428.5 L192.8 1426 L192.7 1423.5 L192.5 1421 L192.3 1418.4 L192.2 1415.9 L192.1 1415 L192 1413.4 L191.7 1410.9 L191.4 1408.4 L191.1 1405.9 L190.7 1403.4 L190.3 1400.8 L189.8 1398.3 L189.4 1395.8 L188.9 1393.3 L188.5 1390.8 L188.1 1388.3 L187.7 1385.7 L187.3 1383.2 L187 1380.7 L186.7 1378.2 L186.6 1377.5 L186.4 1375.7 L186.2 1373.2 L185.9 1370.6 L185.7 1368.1 L185.5 1365.6 L185.2 1363.1 L185 1360.6 L184.8 1358.1 L184.6 1355.6 L184.4 1353 L184.3 1350.5 L184.1 1348 L184 1345.5 L183.9 1343 L183.9 1340.5 L183.8 1340 L183.8 1337.9 L183.8 1335.4 L183.7 1332.9 L183.7 1330.4 L183.6 1327.9 L183.6 1325.4 L183.5 1322.8 L183.5 1320.3 L183.5 1317.8 L183.4 1315.3 L183.4 1312.8 L183.4 1310.3 L183.3 1307.8 L183.3 1305.2 L183.3 1302.7 L183.3 1300.2 L183.2 1297.7 L183.2 1295.2 L183.2 1292.7 L183.2 1290.1 L183.2 1287.6 L183.1 1285.1 L183.1 1282.6 L183.1 1280.1 L183.1 1277.6 L183.1 1275 L183.1 1272.5 L183.1 1270 L183.1 1267.5 Z" fill="#4c7eab" stroke="#4a4a4a" stroke-width="1.8" stroke-linejoin="round"/>
<line x1="180.1" y1="1400" x2="180.1" y2="1466.2" stroke="#484848" stroke-width="1.6"/><line x1="180.1" y1="1410" x2="180.1" y2="1455" stroke="#484848" stroke-width="6" stroke-linecap="round"/><path d="M221.1 1288 L221 1290.5 L220.8 1293 L220.7 1295.5 L220.5 1298 L220.4 1300.5 L220.2 1303 L220.1 1305.5 L219.9 1308 L219.8 1310.5 L219.6 1313 L219.4 1315.5 L219.3 1318 L219.1 1320.5 L218.9 1323 L218.7 1325.5 L218.5 1328 L218.3 1330.5 L218.1 1333 L217.9 1335.5 L217.8 1338 L217.6 1340 L217.5 1340.5 L217.3 1343 L217.1 1345.5 L216.9 1348 L216.6 1350.5 L216.4 1353 L216.1 1355.5 L215.8 1358 L215.5 1360.5 L215.3 1363 L215 1365.5 L214.7 1368 L214.4 1370.5 L214.1 1373 L213.9 1375.5 L213.6 1378 L213.4 1380.5 L213.2 1383 L212.9 1385.5 L212.7 1388 L212.6 1390 L212.6 1390.5 L212.4 1393 L212.2 1395.5 L212 1398 L211.8 1400.5 L211.6 1403 L211.4 1405.5 L211.3 1408 L211.1 1410.5 L210.9 1413 L210.8 1415.5 L210.7 1418 L210.6 1420.5 L210.5 1423 L210.5 1425.5 L210.5 1427.5 L210.5 1428 L210.5 1430.5 L210.6 1433 L210.7 1435.5 L210.9 1438 L211.1 1440.5 L211.3 1443 L211.5 1445.5 L211.8 1448 L212 1450.5 L212.3 1453 L212.6 1455.5 L212.9 1458 L213.1 1460.5 L213.4 1463 L213.6 1465 L213.6 1465.5 L213.9 1468 L214.1 1470.5 L214.4 1473 L214.7 1475.5 L214.9 1478 L215.2 1480.5 L215.5 1483 L215.8 1485.5 L216.1 1488 L216.4 1490.5 L216.7 1493 L217 1495.5 L217.3 1498 L217.6 1500.5 L217.9 1503 L218.3 1505.5 L218.6 1508 L228.6 1508 L228.9 1505.5 L229.3 1503 L229.6 1500.5 L229.9 1498 L230.2 1495.5 L230.5 1493 L230.8 1490.5 L231.1 1488 L231.4 1485.5 L231.7 1483 L232 1480.5 L232.3 1478 L232.5 1475.5 L232.8 1473 L233 1470.5 L233.3 1468 L233.5 1465.5 L233.6 1465 L233.8 1463 L234 1460.5 L234.3 1458 L234.6 1455.5 L234.9 1453 L235.1 1450.5 L235.4 1448 L235.7 1445.5 L235.9 1443 L236.1 1440.5 L236.3 1438 L236.5 1435.5 L236.6 1433 L236.7 1430.5 L236.7 1428 L236.7 1427.5 L236.7 1425.5 L236.6 1423 L236.6 1420.5 L236.5 1418 L236.4 1415.5 L236.2 1413 L236.1 1410.5 L235.9 1408 L235.7 1405.5 L235.6 1403 L235.4 1400.5 L235.2 1398 L235 1395.5 L234.8 1393 L234.6 1390.5 L234.6 1390 L234.4 1388 L234.2 1385.5 L234 1383 L233.8 1380.5 L233.5 1378 L233.3 1375.5 L233 1373 L232.8 1370.5 L232.5 1368 L232.2 1365.5 L231.9 1363 L231.6 1360.5 L231.4 1358 L231.1 1355.5 L230.8 1353 L230.6 1350.5 L230.3 1348 L230.1 1345.5 L229.8 1343 L229.6 1340.5 L229.6 1340 L229.4 1338 L229.2 1335.5 L229 1333 L228.8 1330.5 L228.7 1328 L228.5 1325.5 L228.3 1323 L228.1 1320.5 L227.9 1318 L227.7 1315.5 L227.6 1313 L227.4 1310.5 L227.2 1308 L227.1 1305.5 L226.9 1303 L226.8 1300.5 L226.6 1298 L226.5 1295.5 L226.4 1293 L226.2 1290.5 L226.1 1288 Z" fill="#4c7eab" stroke="#4a4a4a" stroke-width="1.8" stroke-linejoin="round"/>
<line x1="223.6" y1="1331.2" x2="223.6" y2="1508" stroke="#484848" stroke-width="1.6"/><line x1="223.6" y1="1383.8" x2="223.6" y2="1446.2" stroke="#484848" stroke-width="6" stroke-linecap="round"/><path d="M265.9 1100.5 L265.9 1103 L265.9 1105.5 L265.9 1108 L265.9 1110.5 L265.9 1113 L265.9 1115.5 L265.9 1118 L265.9 1120.5 L265.9 1123 L265.9 1125.5 L265.9 1128 L265.9 1130.5 L265.8 1133 L265.8 1135.5 L265.8 1138 L265.8 1140.5 L265.8 1143 L265.8 1145.5 L265.8 1148 L265.8 1150.5 L265.8 1153 L265.8 1155.5 L265.8 1158 L265.8 1160.5 L265.7 1163 L265.7 1165.5 L265.7 1168 L265.7 1170.5 L265.7 1173 L265.7 1175.5 L265.7 1178 L265.6 1180.6 L265.6 1183.1 L265.6 1185.6 L265.6 1188.1 L265.6 1190 L265.6 1190.6 L265.6 1193.1 L265.5 1195.6 L265.5 1198.1 L265.4 1200.6 L265.4 1203.1 L265.3 1205.6 L265.2 1208.1 L265.1 1210.6 L265 1213.1 L265 1215.6 L264.9 1218.1 L264.8 1220 L264.8 1220.6 L264.6 1223.1 L264.5 1225.6 L264.4 1228.1 L264.2 1230.6 L264 1233.1 L263.8 1235.6 L263.6 1238.1 L263.4 1240.6 L263.2 1243.1 L263 1245.6 L262.7 1248.1 L262.5 1250.6 L262.3 1253.1 L262 1255.6 L261.8 1258.1 L261.6 1260.6 L261.3 1263.1 L261.2 1265 L261.1 1265.6 L260.9 1268.1 L260.7 1270.6 L260.4 1273.1 L260.2 1275.6 L259.9 1278.1 L259.7 1280.6 L259.4 1283.1 L259.2 1285.6 L258.9 1288.1 L258.6 1290.6 L258.4 1293.1 L258.1 1295.6 L257.9 1298.1 L257.6 1300.6 L257.4 1303.1 L257.2 1305.6 L257 1308.1 L256.8 1310.6 L256.6 1313.1 L256.5 1315 L256.4 1315.6 L256.3 1318.1 L256.1 1320.6 L255.9 1323.1 L255.8 1325.6 L255.6 1328.1 L255.4 1330.6 L255.3 1333.1 L255.1 1335.6 L254.9 1338.1 L254.8 1340.7 L254.6 1343.2 L254.5 1345.7 L254.4 1348.2 L254.3 1350.7 L254.2 1353.2 L254.1 1355.7 L254.1 1358.2 L254 1360.7 L254 1363.2 L254 1365 L254 1365.7 L254 1368.2 L254 1370.7 L254 1373.2 L254 1375.7 L254.1 1378.2 L254.1 1380.7 L254.1 1383.2 L254.2 1385.7 L254.2 1388.2 L254.3 1390.7 L254.4 1393.2 L254.4 1395.7 L254.5 1398.2 L254.5 1400.7 L254.6 1403.2 L254.7 1405.7 L254.8 1408.2 L254.8 1410.7 L254.9 1413.2 L255 1415 L255 1415.7 L255.1 1418.2 L255.3 1420.7 L255.4 1423.2 L255.6 1425.7 L255.8 1428.2 L256 1430.7 L256.3 1433.2 L256.6 1435.7 L256.8 1438.2 L257.1 1440.7 L257.4 1443.2 L257.6 1445.7 L257.9 1448.2 L258.2 1450.7 L258.5 1453.2 L258.7 1455.7 L258.9 1458.2 L259.2 1460.7 L259.4 1463.2 L259.5 1465 L259.5 1465.7 L259.7 1468.2 L259.9 1470.7 L260 1473.2 L260.2 1475.7 L260.3 1478.2 L260.5 1480.7 L260.6 1483.2 L260.7 1485.7 L260.9 1488.2 L261 1490.7 L261.1 1493.2 L261.2 1495.7 L261.3 1498.2 L272.8 1498.2 L272.9 1495.7 L273.1 1493.2 L273.2 1490.7 L273.3 1488.2 L273.4 1485.7 L273.6 1483.2 L273.7 1480.7 L273.8 1478.2 L274 1475.7 L274.1 1473.2 L274.3 1470.7 L274.5 1468.2 L274.6 1465.7 L274.7 1465 L274.8 1463.2 L275 1460.7 L275.2 1458.2 L275.5 1455.7 L275.7 1453.2 L276 1450.7 L276.2 1448.2 L276.5 1445.7 L276.8 1443.2 L277.1 1440.7 L277.3 1438.2 L277.6 1435.7 L277.9 1433.2 L278.1 1430.7 L278.3 1428.2 L278.6 1425.7 L278.7 1423.2 L278.9 1420.7 L279.1 1418.2 L279.2 1415.7 L279.2 1415 L279.2 1413.2 L279.3 1410.7 L279.4 1408.2 L279.5 1405.7 L279.6 1403.2 L279.6 1400.7 L279.7 1398.2 L279.8 1395.7 L279.8 1393.2 L279.9 1390.7 L279.9 1388.2 L280 1385.7 L280 1383.2 L280.1 1380.7 L280.1 1378.2 L280.1 1375.7 L280.1 1373.2 L280.2 1370.7 L280.2 1368.2 L280.2 1365.7 L280.2 1365 L280.2 1363.2 L280.2 1360.7 L280.1 1358.2 L280 1355.7 L280 1353.2 L279.9 1350.7 L279.8 1348.2 L279.6 1345.7 L279.5 1343.2 L279.4 1340.7 L279.2 1338.1 L279.1 1335.6 L278.9 1333.1 L278.7 1330.6 L278.6 1328.1 L278.4 1325.6 L278.2 1323.1 L278.1 1320.6 L277.9 1318.1 L277.7 1315.6 L277.7 1315 L277.6 1313.1 L277.4 1310.6 L277.2 1308.1 L277 1305.6 L276.7 1303.1 L276.5 1300.6 L276.3 1298.1 L276 1295.6 L275.8 1293.1 L275.5 1290.6 L275.3 1288.1 L275 1285.6 L274.7 1283.1 L274.5 1280.6 L274.2 1278.1 L274 1275.6 L273.7 1273.1 L273.5 1270.6 L273.3 1268.1 L273 1265.6 L273 1265 L272.8 1263.1 L272.6 1260.6 L272.4 1258.1 L272.1 1255.6 L271.9 1253.1 L271.7 1250.6 L271.4 1248.1 L271.2 1245.6 L271 1243.1 L270.7 1240.6 L270.5 1238.1 L270.3 1235.6 L270.1 1233.1 L270 1230.6 L269.8 1228.1 L269.6 1225.6 L269.5 1223.1 L269.4 1220.6 L269.4 1220 L269.3 1218.1 L269.2 1215.6 L269.1 1213.1 L269 1210.6 L269 1208.1 L268.9 1205.6 L268.8 1203.1 L268.7 1200.6 L268.7 1198.1 L268.6 1195.6 L268.6 1193.1 L268.6 1190.6 L268.6 1190 L268.6 1188.1 L268.6 1185.6 L268.5 1183.1 L268.5 1180.6 L268.5 1178 L268.5 1175.5 L268.5 1173 L268.5 1170.5 L268.5 1168 L268.4 1165.5 L268.4 1163 L268.4 1160.5 L268.4 1158 L268.4 1155.5 L268.4 1153 L268.4 1150.5 L268.4 1148 L268.4 1145.5 L268.3 1143 L268.3 1140.5 L268.3 1138 L268.3 1135.5 L268.3 1133 L268.3 1130.5 L268.3 1128 L268.3 1125.5 L268.3 1123 L268.3 1120.5 L268.3 1118 L268.3 1115.5 L268.3 1113 L268.3 1110.5 L268.3 1108 L268.3 1105.5 L268.3 1103 L268.3 1100.5 Z" fill="#4c7eab" stroke="#4a4a4a" stroke-width="1.8" stroke-linejoin="round"/>
<line x1="267.1" y1="1218.8" x2="267.1" y2="1498.2" stroke="#484848" stroke-width="1.6"/><line x1="267.1" y1="1332.5" x2="267.1" y2="1415" stroke="#484848" stroke-width="6" stroke-linecap="round"/><path d="M303.6 1203.8 L303.3 1206.3 L303 1208.8 L302.7 1211.3 L302.5 1213.8 L302.2 1216.3 L302 1218.8 L301.7 1221.3 L301.5 1223.9 L301.3 1226.4 L301 1228.9 L300.8 1231.4 L300.6 1233.9 L300.4 1236.4 L300.2 1238.9 L300.2 1240 L300.1 1241.5 L299.9 1244 L299.7 1246.5 L299.6 1249 L299.4 1251.5 L299.2 1254 L299 1256.5 L298.9 1259 L298.7 1261.6 L298.6 1264.1 L298.4 1266.6 L298.3 1269.1 L298.2 1271.6 L298 1274.1 L297.9 1276.6 L297.9 1279.2 L297.8 1281.7 L297.7 1284.2 L297.7 1286.7 L297.7 1289.2 L297.7 1290 L297.7 1291.7 L297.7 1294.2 L297.7 1296.8 L297.7 1299.3 L297.7 1301.8 L297.7 1304.3 L297.7 1306.8 L297.7 1309.3 L297.7 1311.8 L297.7 1314.3 L297.7 1316.9 L297.7 1319.4 L297.7 1321.9 L297.7 1324.4 L297.7 1326.9 L297.7 1329.4 L297.7 1331.9 L297.7 1334.5 L297.7 1337 L297.7 1339.5 L297.7 1342 L297.7 1344.5 L297.7 1347 L297.7 1349.5 L297.7 1352.1 L297.7 1354.6 L297.7 1357.1 L297.7 1359.6 L297.7 1362.1 L297.7 1364.6 L297.7 1365 L297.7 1367.1 L297.7 1369.6 L297.8 1372.2 L297.8 1374.7 L297.9 1377.2 L298 1379.7 L298.1 1382.2 L298.2 1384.7 L298.3 1387.2 L298.5 1389.8 L298.6 1392.3 L298.7 1394.8 L298.9 1397.3 L299.1 1399.8 L299.2 1402.3 L299.4 1404.8 L299.5 1407.3 L299.7 1409.9 L299.8 1412.4 L300 1414.9 L300 1415 L300.1 1417.4 L300.3 1419.9 L300.4 1422.4 L300.6 1424.9 L300.8 1427.5 L301 1430 L301.2 1432.5 L301.4 1435 L301.5 1437.5 L301.7 1440 L301.9 1442.5 L302.1 1445.1 L302.3 1447.6 L302.5 1450.1 L302.7 1452.6 L302.9 1455.1 L303.1 1457.6 L303.3 1460.1 L303.5 1462.6 L303.7 1465 L303.7 1465.2 L303.9 1467.7 L304.1 1470.2 L304.2 1472.7 L304.4 1475.2 L304.6 1477.7 L304.8 1480.2 L305 1482.8 L305.2 1485.3 L305.4 1487.8 L305.5 1490.3 L305.7 1492.8 L305.8 1495.3 L306 1497.8 L306.1 1500.4 L306.2 1502.5 L306.2 1502.9 L306.3 1505.4 L306.4 1507.9 L306.4 1510.4 L306.5 1512.9 L306.6 1515.4 L306.7 1517.9 L306.7 1520.5 L306.8 1523 L306.8 1525.5 L306.8 1528 L314.3 1528 L314.4 1525.5 L314.4 1523 L314.4 1520.5 L314.5 1517.9 L314.6 1515.4 L314.6 1512.9 L314.7 1510.4 L314.8 1507.9 L314.9 1505.4 L315 1502.9 L315 1502.5 L315.1 1500.4 L315.2 1497.8 L315.3 1495.3 L315.5 1492.8 L315.6 1490.3 L315.8 1487.8 L316 1485.3 L316.1 1482.8 L316.3 1480.2 L316.5 1477.7 L316.7 1475.2 L316.9 1472.7 L317.1 1470.2 L317.3 1467.7 L317.5 1465.2 L317.5 1465 L317.6 1462.6 L317.8 1460.1 L318 1457.6 L318.2 1455.1 L318.4 1452.6 L318.6 1450.1 L318.8 1447.6 L319 1445.1 L319.2 1442.5 L319.4 1440 L319.6 1437.5 L319.8 1435 L320 1432.5 L320.2 1430 L320.4 1427.5 L320.5 1424.9 L320.7 1422.4 L320.9 1419.9 L321 1417.4 L321.2 1415 L321.2 1414.9 L321.3 1412.4 L321.5 1409.9 L321.6 1407.3 L321.8 1404.8 L321.9 1402.3 L322.1 1399.8 L322.3 1397.3 L322.4 1394.8 L322.6 1392.3 L322.7 1389.8 L322.8 1387.2 L323 1384.7 L323.1 1382.2 L323.2 1379.7 L323.3 1377.2 L323.3 1374.7 L323.4 1372.2 L323.4 1369.6 L323.5 1367.1 L323.5 1365 L323.5 1364.6 L323.5 1362.1 L323.5 1359.6 L323.5 1357.1 L323.5 1354.6 L323.5 1352.1 L323.5 1349.5 L323.5 1347 L323.5 1344.5 L323.5 1342 L323.5 1339.5 L323.5 1337 L323.5 1334.5 L323.5 1331.9 L323.5 1329.4 L323.5 1326.9 L323.5 1324.4 L323.5 1321.9 L323.5 1319.4 L323.5 1316.9 L323.5 1314.3 L323.5 1311.8 L323.5 1309.3 L323.5 1306.8 L323.5 1304.3 L323.5 1301.8 L323.5 1299.3 L323.5 1296.8 L323.5 1294.2 L323.5 1291.7 L323.5 1290 L323.5 1289.2 L323.5 1286.7 L323.4 1284.2 L323.4 1281.7 L323.3 1279.2 L323.2 1276.6 L323.1 1274.1 L323 1271.6 L322.9 1269.1 L322.7 1266.6 L322.6 1264.1 L322.4 1261.6 L322.3 1259 L322.1 1256.5 L321.9 1254 L321.8 1251.5 L321.6 1249 L321.4 1246.5 L321.2 1244 L321.1 1241.5 L321 1240 L320.9 1238.9 L320.7 1236.4 L320.5 1233.9 L320.3 1231.4 L320.1 1228.9 L319.9 1226.4 L319.7 1223.9 L319.4 1221.3 L319.2 1218.8 L318.9 1216.3 L318.7 1213.8 L318.4 1211.3 L318.1 1208.8 L317.9 1206.3 L317.6 1203.8 Z" fill="#4c7eab" stroke="#4a4a4a" stroke-width="1.8" stroke-linejoin="round"/>
<line x1="310.6" y1="1203.8" x2="310.6" y2="1528" stroke="#484848" stroke-width="1.6"/><line x1="310.6" y1="1283" x2="310.6" y2="1405" stroke="#484848" stroke-width="6" stroke-linecap="round"/><path d="M344.8 1178 L344.7 1180.5 L344.6 1183 L344.5 1185.5 L344.4 1188.1 L344.3 1190.6 L344.2 1193.1 L344.1 1195.6 L344 1198.1 L343.9 1200.6 L343.8 1203.1 L343.7 1205.7 L343.6 1208.2 L343.5 1210.7 L343.4 1213.2 L343.3 1215.7 L343.2 1218.2 L343.1 1220.7 L343 1223.3 L342.9 1225.8 L342.8 1228.3 L342.8 1230.8 L342.7 1233.3 L342.6 1235.8 L342.5 1238.3 L342.5 1240 L342.4 1240.9 L342.4 1243.4 L342.3 1245.9 L342.2 1248.4 L342.1 1250.9 L342 1253.4 L342 1255.9 L341.9 1258.5 L341.8 1261 L341.7 1263.5 L341.6 1266 L341.6 1268.5 L341.5 1271 L341.4 1273.5 L341.3 1276.1 L341.3 1278.6 L341.2 1281.1 L341.1 1283.6 L341.1 1286.1 L341 1288.6 L340.9 1291.1 L340.9 1293.7 L340.8 1296.2 L340.8 1298.7 L340.8 1301.2 L340.7 1303.7 L340.7 1306.2 L340.7 1308.8 L340.7 1311.3 L340.7 1313.8 L340.7 1315 L340.7 1316.3 L340.7 1318.8 L340.7 1321.3 L340.7 1323.8 L340.7 1326.4 L340.7 1328.9 L340.7 1331.4 L340.7 1333.9 L340.7 1336.4 L340.8 1338.9 L340.8 1341.4 L340.8 1344 L340.8 1346.5 L340.8 1349 L340.8 1351.5 L340.9 1354 L340.9 1356.5 L340.9 1359 L341 1361.6 L341 1364.1 L341 1366.6 L341 1369.1 L341.1 1371.6 L341.1 1374.1 L341.1 1376.6 L341.2 1379.2 L341.2 1381.7 L341.2 1384.2 L341.3 1386.7 L341.3 1389.2 L341.3 1390 L341.3 1391.7 L341.4 1394.2 L341.4 1396.8 L341.5 1399.3 L341.6 1401.8 L341.6 1404.3 L341.7 1406.8 L341.8 1409.3 L341.9 1411.8 L342 1414.4 L342.1 1416.9 L342.2 1419.4 L342.3 1421.9 L342.4 1424.4 L342.5 1426.9 L342.6 1429.4 L342.7 1432 L342.8 1434.5 L343 1437 L343.1 1439.5 L365.1 1439.5 L365.2 1437 L365.3 1434.5 L365.4 1432 L365.5 1429.4 L365.6 1426.9 L365.7 1424.4 L365.9 1421.9 L366 1419.4 L366.1 1416.9 L366.2 1414.4 L366.2 1411.8 L366.3 1409.3 L366.4 1406.8 L366.5 1404.3 L366.6 1401.8 L366.6 1399.3 L366.7 1396.8 L366.7 1394.2 L366.8 1391.7 L366.8 1390 L366.8 1389.2 L366.9 1386.7 L366.9 1384.2 L366.9 1381.7 L367 1379.2 L367 1376.6 L367 1374.1 L367.1 1371.6 L367.1 1369.1 L367.1 1366.6 L367.2 1364.1 L367.2 1361.6 L367.2 1359 L367.2 1356.5 L367.3 1354 L367.3 1351.5 L367.3 1349 L367.3 1346.5 L367.4 1344 L367.4 1341.4 L367.4 1338.9 L367.4 1336.4 L367.4 1333.9 L367.4 1331.4 L367.4 1328.9 L367.5 1326.4 L367.5 1323.8 L367.5 1321.3 L367.5 1318.8 L367.5 1316.3 L367.5 1315 L367.5 1313.8 L367.5 1311.3 L367.4 1308.8 L367.4 1306.2 L367.4 1303.7 L367.4 1301.2 L367.3 1298.7 L367.3 1296.2 L367.2 1293.7 L367.2 1291.1 L367.1 1288.6 L367.1 1286.1 L367 1283.6 L366.9 1281.1 L366.9 1278.6 L366.8 1276.1 L366.7 1273.5 L366.7 1271 L366.6 1268.5 L366.5 1266 L366.4 1263.5 L366.3 1261 L366.3 1258.5 L366.2 1255.9 L366.1 1253.4 L366 1250.9 L365.9 1248.4 L365.8 1245.9 L365.8 1243.4 L365.7 1240.9 L365.7 1240 L365.6 1238.3 L365.5 1235.8 L365.5 1233.3 L365.4 1230.8 L365.3 1228.3 L365.2 1225.8 L365.1 1223.3 L365 1220.7 L365 1218.2 L364.9 1215.7 L364.8 1213.2 L364.7 1210.7 L364.6 1208.2 L364.5 1205.7 L364.4 1203.1 L364.3 1200.6 L364.2 1198.1 L364.1 1195.6 L364 1193.1 L363.9 1190.6 L363.8 1188.1 L363.6 1185.5 L363.5 1183 L363.4 1180.5 L363.3 1178 Z" fill="#4c7eab" stroke="#4a4a4a" stroke-width="1.8" stroke-linejoin="round"/>
<line x1="354.1" y1="1178" x2="354.1" y2="1439.5" stroke="#484848" stroke-width="1.6"/><line x1="354.1" y1="1242" x2="354.1" y2="1398.8" stroke="#484848" stroke-width="6" stroke-linecap="round"/><path d="M393.3 1098 L393.2 1100.5 L393.1 1103 L393.1 1105.5 L393 1108.1 L392.9 1110.6 L392.8 1113.1 L392.7 1115.6 L392.6 1118.1 L392.5 1120.6 L392.4 1123.1 L392.3 1125.6 L392.2 1128.2 L392.1 1130.7 L392 1133.2 L391.9 1135.7 L391.8 1138.2 L391.7 1140.7 L391.6 1143.2 L391.4 1145.8 L391.3 1148.3 L391.2 1150.8 L391.1 1153.3 L391 1155.8 L390.9 1158.3 L390.8 1160.8 L390.6 1163.3 L390.6 1165 L390.5 1165.9 L390.4 1168.4 L390.3 1170.9 L390.1 1173.4 L390 1175.9 L389.9 1178.4 L389.7 1180.9 L389.6 1183.4 L389.4 1186 L389.2 1188.5 L389.1 1191 L388.9 1193.5 L388.8 1196 L388.6 1198.5 L388.4 1201 L388.3 1203.6 L388.1 1206.1 L388 1208.6 L387.8 1211.1 L387.7 1213.6 L387.5 1216.1 L387.4 1218.6 L387.2 1221.1 L387.1 1223.7 L386.9 1226.2 L386.8 1228.7 L386.7 1231.2 L386.6 1233.7 L386.5 1236.2 L386.4 1238.7 L386.3 1240 L386.3 1241.2 L386.2 1243.8 L386.1 1246.3 L386 1248.8 L385.9 1251.3 L385.8 1253.8 L385.7 1256.3 L385.6 1258.8 L385.5 1261.4 L385.4 1263.9 L385.3 1266.4 L385.2 1268.9 L385.1 1271.4 L385 1273.9 L384.9 1276.4 L384.8 1278.9 L384.8 1281.5 L384.7 1284 L384.6 1286.5 L384.6 1289 L384.6 1291.5 L384.5 1294 L384.5 1296.5 L384.5 1299.1 L384.5 1301.6 L384.5 1302.5 L384.5 1304.1 L384.5 1306.6 L384.5 1309.1 L384.5 1311.6 L384.5 1314.1 L384.5 1316.6 L384.5 1319.2 L384.5 1321.7 L384.5 1324.2 L384.5 1326.7 L384.5 1329.2 L384.5 1331.7 L384.5 1334.2 L384.6 1336.8 L410.6 1336.8 L410.6 1334.2 L410.6 1331.7 L410.6 1329.2 L410.6 1326.7 L410.6 1324.2 L410.6 1321.7 L410.7 1319.2 L410.7 1316.6 L410.7 1314.1 L410.7 1311.6 L410.7 1309.1 L410.7 1306.6 L410.7 1304.1 L410.7 1302.5 L410.7 1301.6 L410.7 1299.1 L410.6 1296.5 L410.6 1294 L410.6 1291.5 L410.5 1289 L410.5 1286.5 L410.4 1284 L410.4 1281.5 L410.3 1278.9 L410.2 1276.4 L410.1 1273.9 L410 1271.4 L410 1268.9 L409.9 1266.4 L409.8 1263.9 L409.7 1261.4 L409.6 1258.8 L409.5 1256.3 L409.4 1253.8 L409.3 1251.3 L409.2 1248.8 L409.1 1246.3 L409 1243.8 L408.9 1241.2 L408.8 1240 L408.8 1238.7 L408.7 1236.2 L408.5 1233.7 L408.4 1231.2 L408.3 1228.7 L408.2 1226.2 L408 1223.7 L407.9 1221.1 L407.8 1218.6 L407.6 1216.1 L407.5 1213.6 L407.3 1211.1 L407.2 1208.6 L407 1206.1 L406.8 1203.6 L406.7 1201 L406.5 1198.5 L406.4 1196 L406.2 1193.5 L406 1191 L405.9 1188.5 L405.7 1186 L405.6 1183.4 L405.4 1180.9 L405.3 1178.4 L405.1 1175.9 L405 1173.4 L404.9 1170.9 L404.7 1168.4 L404.6 1165.9 L404.6 1165 L404.5 1163.3 L404.4 1160.8 L404.3 1158.3 L404.1 1155.8 L404 1153.3 L403.9 1150.8 L403.8 1148.3 L403.7 1145.8 L403.6 1143.2 L403.5 1140.7 L403.4 1138.2 L403.2 1135.7 L403.1 1133.2 L403 1130.7 L402.9 1128.2 L402.8 1125.6 L402.7 1123.1 L402.6 1120.6 L402.5 1118.1 L402.4 1115.6 L402.3 1113.1 L402.3 1110.6 L402.2 1108.1 L402.1 1105.5 L402 1103 L401.9 1100.5 L401.8 1098 Z" fill="#4c7eab" stroke="#4a4a4a" stroke-width="1.8" stroke-linejoin="round"/>
<line x1="397.6" y1="1240.8" x2="397.6" y2="1337.5" stroke="#484848" stroke-width="1.6"/><line x1="397.6" y1="1243.2" x2="397.6" y2="1335" stroke="#484848" stroke-width="6" stroke-linecap="round"/><path d="M436.1 1188 L436 1190.5 L435.9 1193 L435.8 1195.5 L435.7 1198 L435.6 1200.5 L435.4 1203.1 L435.3 1205.6 L435.2 1208.1 L435.1 1210.6 L435 1213.1 L434.9 1215.6 L434.7 1218.1 L434.6 1220.6 L434.5 1223.1 L434.3 1225.6 L434.2 1228.1 L434.1 1230.7 L433.9 1233.2 L433.8 1235.7 L433.7 1238.2 L433.6 1240 L433.5 1240.7 L433.4 1243.2 L433.2 1245.7 L433 1248.2 L432.9 1250.7 L432.7 1253.2 L432.5 1255.7 L432.3 1258.3 L432.2 1260.8 L432 1263.3 L431.8 1265.8 L431.6 1268.3 L431.4 1270.8 L431.2 1273.3 L431 1275.8 L430.8 1278.3 L430.7 1280.8 L430.5 1283.3 L430.3 1285.9 L430.2 1288.4 L430.1 1290 L430 1290.9 L429.8 1293.4 L429.7 1295.9 L429.5 1298.4 L429.3 1300.9 L429.1 1303.4 L428.9 1305.9 L428.7 1308.4 L428.6 1310.9 L428.4 1313.5 L428.3 1316 L428.2 1318.5 L428.1 1321 L428 1323.5 L428 1326 L428 1327.5 L428 1328.5 L428 1331 L428 1333.5 L428 1336 L428 1338.5 L428 1341.1 L428 1343.6 L428.1 1346.1 L428.1 1348.6 L428.1 1351.1 L428.1 1353.6 L428.2 1356.1 L428.2 1358.6 L428.3 1361.1 L428.3 1363.6 L428.3 1365 L428.3 1366.1 L428.4 1368.7 L428.4 1371.2 L428.5 1373.7 L428.6 1376.2 L428.6 1378.7 L428.7 1381.2 L428.8 1383.7 L428.9 1386.2 L429 1388.7 L429.1 1391.2 L429.2 1393.7 L429.3 1396.2 L452.8 1396.2 L452.9 1393.7 L453 1391.2 L453.1 1388.7 L453.2 1386.2 L453.3 1383.7 L453.4 1381.2 L453.5 1378.7 L453.6 1376.2 L453.6 1373.7 L453.7 1371.2 L453.7 1368.7 L453.8 1366.1 L453.8 1365 L453.8 1363.6 L453.9 1361.1 L453.9 1358.6 L453.9 1356.1 L454 1353.6 L454 1351.1 L454 1348.6 L454.1 1346.1 L454.1 1343.6 L454.1 1341.1 L454.1 1338.5 L454.1 1336 L454.1 1333.5 L454.2 1331 L454.2 1328.5 L454.2 1327.5 L454.2 1326 L454.1 1323.5 L454 1321 L454 1318.5 L453.8 1316 L453.7 1313.5 L453.5 1310.9 L453.4 1308.4 L453.2 1305.9 L453 1303.4 L452.8 1300.9 L452.6 1298.4 L452.5 1295.9 L452.3 1293.4 L452.1 1290.9 L452.1 1290 L452 1288.4 L451.8 1285.9 L451.6 1283.3 L451.4 1280.8 L451.3 1278.3 L451.1 1275.8 L450.9 1273.3 L450.7 1270.8 L450.5 1268.3 L450.3 1265.8 L450.1 1263.3 L450 1260.8 L449.8 1258.3 L449.6 1255.7 L449.4 1253.2 L449.2 1250.7 L449.1 1248.2 L448.9 1245.7 L448.7 1243.2 L448.6 1240.7 L448.6 1240 L448.5 1238.2 L448.3 1235.7 L448.2 1233.2 L448 1230.7 L447.9 1228.1 L447.8 1225.6 L447.6 1223.1 L447.5 1220.6 L447.4 1218.1 L447.3 1215.6 L447.1 1213.1 L447 1210.6 L446.9 1208.1 L446.8 1205.6 L446.7 1203.1 L446.6 1200.5 L446.5 1198 L446.3 1195.5 L446.2 1193 L446.2 1190.5 L446.1 1188 Z" fill="#4c7eab" stroke="#4a4a4a" stroke-width="1.8" stroke-linejoin="round"/>
<line x1="441.1" y1="1188" x2="441.1" y2="1396.2" stroke="#484848" stroke-width="1.6"/><line x1="441.1" y1="1307" x2="441.1" y2="1391.2" stroke="#484848" stroke-width="6" stroke-linecap="round"/><path d="M482.1 1025.5 L482.1 1028 L482.1 1030.5 L482.1 1033 L482.1 1035.5 L482.1 1038 L482.1 1040.5 L482.1 1043 L482.1 1045.5 L482.1 1048 L482.1 1050.5 L482.1 1053 L482.1 1055 L482 1055.5 L482 1058 L481.8 1060.5 L481.6 1063 L481.4 1065.5 L481.1 1068 L480.7 1070.5 L480.3 1073 L480.1 1075 L480 1075.5 L479.4 1078 L478.7 1080.5 L477.9 1083 L477 1085.5 L476.1 1088 L475.3 1090.5 L474.8 1092.5 L474.7 1093 L473.9 1095.5 L473.2 1098 L472.6 1100.5 L472.3 1103 L472.3 1103.8 L472.3 1105.5 L472.3 1108 L472.3 1110.5 L472.3 1113.1 L472.3 1115.6 L472.3 1118.1 L472.2 1120.6 L472.2 1123.1 L472.2 1125.6 L472.2 1128.1 L472.2 1130.6 L472.2 1133.1 L472.2 1135.6 L472.2 1138.1 L472.2 1140.6 L472.2 1143.1 L472.2 1145.6 L472.2 1148.1 L472.2 1150.6 L472.2 1153.1 L472.2 1155.6 L472.1 1158.1 L472.1 1160.6 L472.1 1163.1 L472.1 1165.6 L472.1 1168.1 L472.1 1170.6 L472.1 1173.1 L472.1 1175.6 L472.1 1178.1 L472.1 1180.6 L472.1 1183.1 L472.1 1185.6 L472.1 1188.1 L472.1 1190.6 L472.1 1193.1 L472.1 1195.6 L472.1 1198.1 L472.1 1200.6 L472.1 1203.1 L472.1 1205.6 L472.1 1208.1 L472.1 1210.6 L472.1 1213.1 L472.1 1215.6 L472.1 1218.1 L472.1 1220.6 L472.1 1223.1 L472.1 1225.6 L472.1 1228.1 L472.1 1230.6 L472.1 1233.1 L472.1 1235.6 L472.1 1238.1 L472.1 1240.6 L472.1 1243.1 L472.1 1245.6 L472.1 1248.1 L472.1 1250.6 L472.1 1253.1 L472.1 1255.6 L472.1 1258.1 L472.1 1260.6 L472.1 1263.1 L472.1 1265.6 L472.1 1268.1 L472.1 1270.6 L472.1 1273.1 L472.1 1275.6 L472.1 1278.1 L472.1 1280.6 L472.1 1283.1 L472.1 1285.6 L472.1 1288.2 L472.1 1290 L472.1 1290.7 L472.1 1293.2 L472.1 1295.7 L472.1 1298.2 L472.1 1300.7 L472.1 1303.2 L472.1 1305.7 L472.1 1308.2 L472.1 1310.7 L472.1 1313.2 L472.1 1315.7 L472.1 1318.2 L472.1 1320.7 L472.1 1323.2 L472.1 1325.7 L472.1 1328.2 L472.1 1330.7 L472.1 1333.2 L472.1 1335.7 L472.1 1338.2 L472.1 1340.7 L472.1 1343.2 L472.1 1345.7 L472.1 1348.2 L472.1 1350.7 L472.1 1353.2 L472.1 1355.7 L472.1 1358.2 L472.2 1360.7 L472.2 1363.2 L472.2 1365.7 L472.2 1368.2 L472.2 1370.7 L472.2 1373.2 L472.2 1375.7 L472.2 1378.2 L472.2 1380.7 L472.2 1383.2 L472.2 1385.7 L472.2 1388.2 L472.2 1390.7 L472.3 1393.2 L472.3 1395.7 L472.3 1398.2 L472.3 1400.7 L472.3 1403.2 L472.3 1405.7 L472.3 1408.2 L472.3 1410.7 L472.3 1413.2 L472.3 1415.7 L472.4 1418.2 L472.4 1420.7 L472.4 1423.2 L472.4 1425.7 L472.4 1428.2 L472.4 1430.7 L472.4 1433.2 L472.4 1435.7 L472.4 1438.2 L472.5 1440.7 L472.5 1443.2 L472.5 1445.7 L472.5 1448.2 L472.5 1450.7 L472.5 1453.2 L472.5 1455.7 L472.5 1458.2 L472.6 1460.8 L496.6 1460.8 L496.6 1458.2 L496.6 1455.7 L496.6 1453.2 L496.6 1450.7 L496.6 1448.2 L496.6 1445.7 L496.6 1443.2 L496.6 1440.7 L496.7 1438.2 L496.7 1435.7 L496.7 1433.2 L496.7 1430.7 L496.7 1428.2 L496.7 1425.7 L496.7 1423.2 L496.7 1420.7 L496.7 1418.2 L496.8 1415.7 L496.8 1413.2 L496.8 1410.7 L496.8 1408.2 L496.8 1405.7 L496.8 1403.2 L496.8 1400.7 L496.8 1398.2 L496.8 1395.7 L496.8 1393.2 L496.9 1390.7 L496.9 1388.2 L496.9 1385.7 L496.9 1383.2 L496.9 1380.7 L496.9 1378.2 L496.9 1375.7 L496.9 1373.2 L496.9 1370.7 L496.9 1368.2 L496.9 1365.7 L496.9 1363.2 L496.9 1360.7 L497 1358.2 L497 1355.7 L497 1353.2 L497 1350.7 L497 1348.2 L497 1345.7 L497 1343.2 L497 1340.7 L497 1338.2 L497 1335.7 L497 1333.2 L497 1330.7 L497 1328.2 L497 1325.7 L497 1323.2 L497 1320.7 L497 1318.2 L497 1315.7 L497 1313.2 L497 1310.7 L497 1308.2 L497 1305.7 L497 1303.2 L497 1300.7 L497 1298.2 L497 1295.7 L497.1 1293.2 L497.1 1290.7 L497.1 1290 L497.1 1288.2 L497.1 1285.6 L497.1 1283.1 L497.1 1280.6 L497.1 1278.1 L497.1 1275.6 L497.1 1273.1 L497 1270.6 L497 1268.1 L497 1265.6 L497 1263.1 L497 1260.6 L497 1258.1 L497 1255.6 L497 1253.1 L497 1250.6 L497 1248.1 L497 1245.6 L497 1243.1 L497 1240.6 L497 1238.1 L497 1235.6 L497 1233.1 L497 1230.6 L497 1228.1 L497 1225.6 L497 1223.1 L497 1220.6 L497 1218.1 L497 1215.6 L497 1213.1 L497 1210.6 L497 1208.1 L497 1205.6 L497 1203.1 L497 1200.6 L497 1198.1 L497 1195.6 L497 1193.1 L497 1190.6 L497 1188.1 L497 1185.6 L497 1183.1 L497 1180.6 L497 1178.1 L497 1175.6 L497 1173.1 L497 1170.6 L497 1168.1 L497 1165.6 L497 1163.1 L497 1160.6 L497 1158.1 L496.9 1155.6 L496.9 1153.1 L496.9 1150.6 L496.9 1148.1 L496.9 1145.6 L496.9 1143.1 L496.9 1140.6 L496.9 1138.1 L496.9 1135.6 L496.9 1133.1 L496.9 1130.6 L496.9 1128.1 L496.9 1125.6 L496.9 1123.1 L496.9 1120.6 L496.9 1118.1 L496.8 1115.6 L496.8 1113.1 L496.8 1110.5 L496.8 1108 L496.8 1105.5 L496.8 1103.8 L496.8 1103 L496.5 1100.5 L495.9 1098 L495.2 1095.5 L494.4 1093 L494.3 1092.5 L493.8 1090.5 L493 1088 L492.1 1085.5 L491.2 1083 L490.4 1080.5 L489.7 1078 L489.1 1075.5 L489.1 1075 L488.8 1073 L488.4 1070.5 L488 1068 L487.7 1065.5 L487.5 1063 L487.3 1060.5 L487.1 1058 L487.1 1055.5 L487.1 1055 L487.1 1053 L487.1 1050.5 L487.1 1048 L487.1 1045.5 L487.1 1043 L487.1 1040.5 L487.1 1038 L487.1 1035.5 L487.1 1033 L487.1 1030.5 L487.1 1028 L487.1 1025.5 Z" fill="#4c7eab" stroke="#4a4a4a" stroke-width="1.8" stroke-linejoin="round"/>
<line x1="484.6" y1="1092.5" x2="484.6" y2="1460.8" stroke="#484848" stroke-width="1.6"/><line x1="484.6" y1="1102.5" x2="484.6" y2="1387.5" stroke="#484848" stroke-width="6" stroke-linecap="round"/><path d="M521 1225.5 L520.7 1228 L520.3 1230.6 L520 1233.1 L519.7 1235.6 L519.3 1238.1 L519 1240.7 L518.7 1243.2 L518.4 1245.7 L518.1 1248.2 L517.8 1250.8 L517.6 1252.5 L517.6 1253.3 L517.3 1255.8 L517 1258.3 L516.7 1260.9 L516.3 1263.4 L516 1265.9 L515.7 1268.5 L515.5 1271 L515.2 1273.5 L515 1276 L514.8 1278.6 L514.7 1281.1 L514.7 1283.6 L514.6 1285 L514.7 1286.1 L514.7 1288.7 L514.8 1291.2 L515 1293.7 L515.2 1296.2 L515.4 1298.8 L515.6 1301.3 L515.9 1303.8 L516.2 1306.4 L516.5 1308.9 L516.8 1311.4 L517 1313.9 L517.1 1315 L517.3 1316.5 L517.6 1319 L517.9 1321.5 L518.3 1324 L518.6 1326.6 L519 1329.1 L519.4 1331.6 L519.7 1334.2 L520 1336.7 L520.4 1339.2 L520.4 1340 L520.6 1341.7 L520.9 1344.3 L521.2 1346.8 L521.4 1349.3 L521.7 1351.8 L521.9 1354.4 L522.2 1356.9 L522.4 1359.4 L522.6 1361.9 L522.8 1364.5 L523 1367 L533 1367 L533.2 1364.5 L533.5 1361.9 L533.7 1359.4 L533.9 1356.9 L534.1 1354.4 L534.4 1351.8 L534.6 1349.3 L534.9 1346.8 L535.2 1344.3 L535.5 1341.7 L535.6 1340 L535.7 1339.2 L536 1336.7 L536.4 1334.2 L536.7 1331.6 L537.1 1329.1 L537.5 1326.6 L537.8 1324 L538.2 1321.5 L538.5 1319 L538.8 1316.5 L538.9 1315 L539.1 1313.9 L539.3 1311.4 L539.6 1308.9 L539.9 1306.4 L540.2 1303.8 L540.4 1301.3 L540.7 1298.8 L540.9 1296.2 L541.1 1293.7 L541.3 1291.2 L541.4 1288.7 L541.4 1286.1 L541.4 1285 L541.4 1283.6 L541.4 1281.1 L541.2 1278.6 L541.1 1276 L540.9 1273.5 L540.6 1271 L540.3 1268.5 L540.1 1265.9 L539.7 1263.4 L539.4 1260.9 L539.1 1258.3 L538.8 1255.8 L538.5 1253.3 L538.4 1252.5 L538.3 1250.8 L538 1248.2 L537.7 1245.7 L537.4 1243.2 L537.1 1240.7 L536.7 1238.1 L536.4 1235.6 L536.1 1233.1 L535.7 1230.6 L535.4 1228 L535 1225.5 Z" fill="#4c7eab" stroke="#4a4a4a" stroke-width="1.8" stroke-linejoin="round"/>
<line x1="528" y1="1283" x2="528" y2="1293" stroke="#484848" stroke-width="1.6"/><line x1="528" y1="1285.5" x2="528" y2="1290.5" stroke="#484848" stroke-width="6" stroke-linecap="round"/><path d="M560.5 1276.8 L558.5 1278 L558.5 1278.1 L558.5 1279.4 L558.4 1280.8 L558.4 1282 L558.4 1282.1 L558.9 1283.5 L559.9 1284.8 L560.5 1285.5 L561.3 1286.2 L563.5 1287.5 L579.5 1287.5 L581.8 1286.2 L582.5 1285.5 L583.1 1284.8 L584.2 1283.5 L584.6 1282.1 L584.6 1282 L584.6 1280.8 L584.6 1279.4 L584.5 1278.1 L584.5 1278 L582.5 1276.8 Z" fill="#4c7eab" stroke="#4a4a4a" stroke-width="1.8" stroke-linejoin="round"/>
<line x1="571.5" y1="1276.8" x2="571.5" y2="1287.5" stroke="#484848" stroke-width="1.6"/><line x1="571.5" y1="1279.5" x2="571.5" y2="1283" stroke="#484848" stroke-width="6" stroke-linecap="round"/><path d="M608.3 1216.8 L608.1 1219.3 L607.8 1221.8 L607.6 1224.4 L607.3 1226.9 L607.1 1229.5 L606.8 1232 L606.5 1234.6 L606.2 1237.1 L606 1239.7 L605.7 1242.2 L605.6 1242.5 L605.3 1244.8 L604.9 1247.3 L604.5 1249.9 L604.1 1252.4 L603.6 1254.9 L603.2 1257.5 L602.8 1260 L602.5 1262.6 L602.3 1265.1 L602.3 1267.5 L602.3 1267.7 L602.3 1270.2 L602.3 1272.8 L602.3 1275.3 L602.3 1277.5 L602.3 1277.9 L602.5 1280.4 L602.8 1283 L603.3 1285.5 L626.8 1285.5 L627.2 1283 L627.6 1280.4 L627.8 1277.9 L627.8 1277.5 L627.8 1275.3 L627.8 1272.8 L627.8 1270.2 L627.8 1267.7 L627.8 1267.5 L627.7 1265.1 L627.5 1262.6 L627.2 1260 L626.9 1257.5 L626.5 1254.9 L626 1252.4 L625.6 1249.9 L625.1 1247.3 L624.7 1244.8 L624.4 1242.5 L624.4 1242.2 L624.1 1239.7 L623.8 1237.1 L623.5 1234.6 L623.3 1232 L623 1229.5 L622.7 1226.9 L622.5 1224.4 L622.2 1221.8 L622 1219.3 L621.8 1216.8 Z" fill="#4c7eab" stroke="#4a4a4a" stroke-width="1.8" stroke-linejoin="round"/>
<line x1="615" y1="1216.8" x2="615" y2="1285.5" stroke="#484848" stroke-width="1.6"/><line x1="615" y1="1241.2" x2="615" y2="1275" stroke="#484848" stroke-width="6" stroke-linecap="round"/><path d="M653 1092.5 L652 1095 L650.9 1097.5 L650 1100 L649.3 1102.6 L649.1 1103.8 L649 1105.1 L648.7 1107.6 L648.5 1110.1 L648.3 1112.6 L648.1 1115.1 L647.9 1117.7 L647.8 1120.2 L647.6 1122.7 L647.5 1125.2 L647.4 1127.7 L647.3 1130.2 L647.1 1132.8 L647.1 1135.3 L647 1137.8 L646.9 1140.3 L646.8 1142.8 L646.8 1145.3 L646.7 1147.9 L646.6 1150.4 L646.6 1152.9 L646.5 1155 L646.5 1155.4 L646.5 1157.9 L646.4 1160.4 L646.4 1163 L646.3 1165.5 L646.2 1168 L646.2 1170.5 L646.2 1173 L646.1 1175.5 L646.1 1178.1 L646 1180.6 L646 1183.1 L645.9 1185.6 L645.9 1188.1 L645.8 1190.6 L645.8 1193.2 L645.8 1195.7 L645.7 1198.2 L645.7 1200.7 L645.7 1203.2 L645.7 1205.7 L645.6 1208.3 L645.6 1210.8 L645.6 1213.3 L645.6 1215.8 L645.6 1218.3 L645.5 1220.8 L645.5 1223.4 L645.5 1225.9 L645.5 1228.4 L645.5 1230 L645.5 1230.9 L645.5 1233.4 L645.6 1235.9 L645.6 1238.5 L645.6 1241 L645.7 1243.5 L645.7 1246 L645.8 1248.5 L645.8 1251 L645.9 1253.6 L646 1256.1 L646 1258.6 L646.1 1261.1 L646.2 1263.6 L646.3 1266.1 L646.4 1268.7 L646.5 1271.2 L646.6 1273.7 L646.6 1276.2 L646.7 1278.7 L646.8 1280 L646.8 1281.2 L646.9 1283.8 L647 1286.3 L647.2 1288.8 L647.3 1291.3 L647.4 1293.8 L647.6 1296.3 L647.7 1298.9 L647.9 1301.4 L648 1303.9 L648.2 1306.4 L648.4 1308.9 L648.5 1311.4 L648.7 1314 L648.8 1316.5 L649 1319 L649.1 1321.5 L649.2 1324 L649.4 1326.5 L649.5 1329.1 L649.5 1330 L649.6 1331.6 L649.7 1334.1 L649.8 1336.6 L649.9 1339.1 L650 1341.6 L650.1 1344.2 L650.1 1346.7 L650.2 1349.2 L650.3 1351.7 L650.4 1354.2 L650.5 1356.7 L650.5 1359.2 L666.5 1359.2 L666.6 1356.7 L666.7 1354.2 L666.7 1351.7 L666.8 1349.2 L666.9 1346.7 L667 1344.2 L667.1 1341.6 L667.2 1339.1 L667.3 1336.6 L667.4 1334.1 L667.5 1331.6 L667.5 1330 L667.6 1329.1 L667.7 1326.5 L667.8 1324 L667.9 1321.5 L668.1 1319 L668.2 1316.5 L668.4 1314 L668.5 1311.4 L668.7 1308.9 L668.9 1306.4 L669 1303.9 L669.2 1301.4 L669.3 1298.9 L669.5 1296.3 L669.6 1293.8 L669.8 1291.3 L669.9 1288.8 L670 1286.3 L670.1 1283.8 L670.2 1281.2 L670.3 1280 L670.3 1278.7 L670.4 1276.2 L670.5 1273.7 L670.6 1271.2 L670.7 1268.7 L670.8 1266.1 L670.8 1263.6 L670.9 1261.1 L671 1258.6 L671.1 1256.1 L671.2 1253.6 L671.2 1251 L671.3 1248.5 L671.3 1246 L671.4 1243.5 L671.4 1241 L671.5 1238.5 L671.5 1235.9 L671.5 1233.4 L671.5 1230.9 L671.5 1230 L671.5 1228.4 L671.5 1225.9 L671.5 1223.4 L671.5 1220.8 L671.5 1218.3 L671.5 1215.8 L671.5 1213.3 L671.4 1210.8 L671.4 1208.3 L671.4 1205.7 L671.4 1203.2 L671.3 1200.7 L671.3 1198.2 L671.3 1195.7 L671.2 1193.2 L671.2 1190.6 L671.2 1188.1 L671.1 1185.6 L671.1 1183.1 L671 1180.6 L671 1178.1 L670.9 1175.5 L670.9 1173 L670.8 1170.5 L670.8 1168 L670.7 1165.5 L670.7 1163 L670.6 1160.4 L670.6 1157.9 L670.5 1155.4 L670.5 1155 L670.5 1152.9 L670.4 1150.4 L670.4 1147.9 L670.3 1145.3 L670.2 1142.8 L670.2 1140.3 L670.1 1137.8 L670 1135.3 L669.9 1132.8 L669.8 1130.2 L669.7 1127.7 L669.6 1125.2 L669.4 1122.7 L669.3 1120.2 L669.1 1117.7 L668.9 1115.1 L668.7 1112.6 L668.5 1110.1 L668.3 1107.6 L668.1 1105.1 L667.9 1103.8 L667.7 1102.6 L667.1 1100 L666.2 1097.5 L665.1 1095 L664 1092.5 Z" fill="#4c7eab" stroke="#4a4a4a" stroke-width="1.8" stroke-linejoin="round"/>
<line x1="658.5" y1="1092.5" x2="658.5" y2="1359.2" stroke="#484848" stroke-width="1.6"/><line x1="658.5" y1="1103.8" x2="658.5" y2="1236.2" stroke="#484848" stroke-width="6" stroke-linecap="round"/><path d="M696.5 1101.8 L696.4 1104.3 L696.2 1106.8 L696 1109.3 L695.9 1111.8 L695.7 1114.3 L695.5 1116.8 L695.3 1119.3 L695.1 1121.9 L695 1124.4 L694.8 1126.9 L694.6 1129.4 L694.4 1131.9 L694.2 1134.4 L694 1136.9 L693.8 1139.5 L693.6 1142 L693.5 1142.5 L693.3 1144.5 L693.1 1147 L692.9 1149.5 L692.6 1152 L692.3 1154.5 L692.1 1157.1 L691.8 1159.6 L691.5 1162.1 L691.3 1164.6 L691 1167.1 L690.7 1169.6 L690.5 1172.1 L690.3 1174.7 L690.1 1177.2 L689.9 1179.7 L689.9 1180 L689.8 1182.2 L689.6 1184.7 L689.5 1187.2 L689.3 1189.7 L689.2 1192.2 L689 1194.8 L688.9 1197.3 L688.8 1199.8 L688.8 1202.3 L688.8 1204.8 L688.8 1205 L688.8 1207.3 L688.8 1209.8 L688.8 1212.4 L688.9 1214.9 L688.9 1217.4 L689 1219.9 L689.1 1222.4 L689.2 1224.9 L689.3 1227.4 L689.5 1230 L689.6 1232.5 L689.8 1235 L690 1237.5 L714 1237.5 L714.2 1235 L714.4 1232.5 L714.6 1230 L714.7 1227.4 L714.8 1224.9 L714.9 1222.4 L715 1219.9 L715.1 1217.4 L715.2 1214.9 L715.2 1212.4 L715.2 1209.8 L715.3 1207.3 L715.3 1205 L715.3 1204.8 L715.2 1202.3 L715.2 1199.8 L715.1 1197.3 L715 1194.8 L714.9 1192.2 L714.7 1189.7 L714.6 1187.2 L714.4 1184.7 L714.3 1182.2 L714.1 1180 L714.1 1179.7 L713.9 1177.2 L713.7 1174.7 L713.5 1172.1 L713.3 1169.6 L713 1167.1 L712.8 1164.6 L712.5 1162.1 L712.2 1159.6 L712 1157.1 L711.7 1154.5 L711.4 1152 L711.2 1149.5 L710.9 1147 L710.7 1144.5 L710.5 1142.5 L710.5 1142 L710.3 1139.5 L710.1 1136.9 L709.9 1134.4 L709.7 1131.9 L709.5 1129.4 L709.3 1126.9 L709.1 1124.4 L708.9 1121.9 L708.7 1119.3 L708.5 1116.8 L708.3 1114.3 L708.2 1111.8 L708 1109.3 L707.8 1106.8 L707.7 1104.3 L707.5 1101.8 Z" fill="#4c7eab" stroke="#4a4a4a" stroke-width="1.8" stroke-linejoin="round"/>
<line x1="702" y1="1101.8" x2="702" y2="1237.5" stroke="#484848" stroke-width="1.6"/><line x1="702" y1="1167.5" x2="702" y2="1220" stroke="#484848" stroke-width="6" stroke-linecap="round"/><path d="M738 1100.8 L736.8 1103.3 L736.2 1105 L736.1 1105.8 L735.7 1108.3 L735.3 1110.8 L735.1 1113.4 L734.8 1115.9 L734.6 1118.4 L734.4 1120.9 L734.3 1123.4 L734.1 1126 L734 1128.5 L733.9 1130 L733.9 1131 L733.7 1133.5 L733.6 1136 L733.4 1138.6 L733.3 1141.1 L733.1 1143.6 L733 1146.1 L732.9 1148.7 L732.7 1151.2 L732.6 1153.7 L732.5 1156.2 L732.4 1158.7 L732.3 1161.3 L732.3 1163.8 L732.2 1166.3 L732.2 1168.8 L732.1 1171.3 L732.1 1173.9 L732.1 1175 L732.1 1176.4 L732.1 1178.9 L732.2 1181.4 L732.3 1183.9 L732.3 1186.5 L732.5 1189 L732.6 1191.5 L732.7 1194 L732.9 1196.6 L733 1199.1 L733.2 1201.6 L733.3 1204.1 L733.5 1206.6 L733.7 1209.2 L733.9 1211.7 L734 1214.2 L734.2 1216.7 L734.3 1217.5 L734.4 1219.2 L734.6 1221.8 L734.8 1224.3 L735 1226.8 L735.2 1229.3 L735.4 1231.9 L735.7 1234.4 L735.9 1236.9 L736.2 1239.4 L736.4 1241.9 L736.7 1244.5 L737 1247 L737.3 1249.5 L753.8 1249.5 L754 1247 L754.3 1244.5 L754.6 1241.9 L754.9 1239.4 L755.1 1236.9 L755.4 1234.4 L755.6 1231.9 L755.8 1229.3 L756.1 1226.8 L756.3 1224.3 L756.5 1221.8 L756.6 1219.2 L756.8 1217.5 L756.8 1216.7 L757 1214.2 L757.2 1211.7 L757.3 1209.2 L757.5 1206.6 L757.7 1204.1 L757.9 1201.6 L758 1199.1 L758.2 1196.6 L758.3 1194 L758.5 1191.5 L758.6 1189 L758.7 1186.5 L758.8 1183.9 L758.8 1181.4 L758.9 1178.9 L758.9 1176.4 L758.9 1175 L758.9 1173.9 L758.9 1171.3 L758.9 1168.8 L758.8 1166.3 L758.8 1163.8 L758.7 1161.3 L758.6 1158.7 L758.5 1156.2 L758.4 1153.7 L758.3 1151.2 L758.2 1148.7 L758 1146.1 L757.9 1143.6 L757.8 1141.1 L757.6 1138.6 L757.5 1136 L757.3 1133.5 L757.2 1131 L757.1 1130 L757 1128.5 L756.9 1126 L756.7 1123.4 L756.6 1120.9 L756.4 1118.4 L756.2 1115.9 L756 1113.4 L755.7 1110.8 L755.3 1108.3 L754.9 1105.8 L754.8 1105 L754.2 1103.3 L753 1100.8 Z" fill="#4c7eab" stroke="#4a4a4a" stroke-width="1.8" stroke-linejoin="round"/>
<line x1="745.5" y1="1100.8" x2="745.5" y2="1249.5" stroke="#484848" stroke-width="1.6"/><line x1="745.5" y1="1140.5" x2="745.5" y2="1183.8" stroke="#484848" stroke-width="6" stroke-linecap="round"/><path d="M780.8 1124.2 L780.2 1126.8 L779.7 1129.4 L779.2 1131.9 L778.7 1134.5 L778.3 1137 L777.9 1139.6 L777.6 1142.1 L777.5 1142.5 L777.2 1144.7 L776.9 1147.2 L776.6 1149.8 L776.3 1152.3 L776.1 1154.9 L776 1157.4 L775.9 1160 L775.9 1160 L776 1162.5 L776.1 1165.1 L776.4 1167.6 L776.7 1170.2 L777.1 1172.7 L777.4 1175.3 L777.8 1177.8 L778.1 1180 L778.2 1180.4 L778.5 1182.9 L778.9 1185.5 L779.4 1188 L779.8 1190.6 L780.3 1193.1 L780.8 1195.7 L781.2 1198.2 L781.6 1200.8 L781.9 1203.3 L782.1 1205 L782.2 1205.9 L782.4 1208.4 L782.7 1211 L782.9 1213.5 L783.1 1216.1 L783.2 1218.6 L783.4 1221.2 L783.5 1223.8 L794.5 1223.8 L794.6 1221.2 L794.8 1218.6 L794.9 1216.1 L795.1 1213.5 L795.3 1211 L795.6 1208.4 L795.8 1205.9 L795.9 1205 L796.1 1203.3 L796.4 1200.8 L796.8 1198.2 L797.2 1195.7 L797.7 1193.1 L798.2 1190.6 L798.6 1188 L799.1 1185.5 L799.5 1182.9 L799.9 1180.4 L799.9 1180 L800.2 1177.8 L800.6 1175.3 L800.9 1172.7 L801.3 1170.2 L801.6 1167.6 L801.9 1165.1 L802 1162.5 L802.1 1160 L802.1 1160 L802 1157.4 L801.9 1154.9 L801.7 1152.3 L801.4 1149.8 L801.1 1147.2 L800.8 1144.7 L800.5 1142.5 L800.5 1142.1 L800.1 1139.6 L799.7 1137 L799.3 1134.5 L798.8 1131.9 L798.3 1129.4 L797.8 1126.8 L797.3 1124.2 Z" fill="#4c7eab" stroke="#4a4a4a" stroke-width="1.8" stroke-linejoin="round"/>
<line x1="789" y1="1152.5" x2="789" y2="1172.5" stroke="#484848" stroke-width="1.6"/><line x1="789" y1="1155" x2="789" y2="1170" stroke="#484848" stroke-width="6" stroke-linecap="round"/><path d="M826.5 1102 L823.8 1104.5 L823.5 1105 L822.9 1107 L822.3 1109.5 L821.9 1112 L821.6 1114.5 L821.3 1117 L821.2 1117.5 L821.1 1119.5 L820.8 1122 L820.6 1124.5 L820.4 1127 L820.2 1129.5 L820 1132 L819.8 1134.5 L819.7 1137 L819.6 1139.5 L819.5 1142 L819.4 1144.5 L819.4 1147 L819.4 1147.5 L819.4 1149.5 L819.4 1152 L819.5 1154.5 L819.5 1157 L819.6 1159.5 L819.7 1162 L819.8 1164.5 L819.9 1167 L820 1169.5 L820.1 1172 L820.2 1174.5 L820.3 1177 L820.5 1179.5 L820.5 1180 L820.6 1182 L820.9 1184.5 L821.2 1187 L821.5 1189.5 L821.9 1192 L822.3 1194.5 L822.7 1197 L823.1 1199.5 L823.4 1202 L823.7 1204.5 L823.7 1205 L823.9 1207 L824.2 1209.5 L824.4 1212 L824.6 1214.5 L824.8 1217 L825 1219.5 L825.2 1222 L825.4 1224.5 L825.5 1227 L825.7 1229.5 L825.7 1230 L825.9 1232 L826 1234.5 L826.2 1237 L826.4 1239.5 L826.5 1242 L826.7 1244.5 L826.8 1247 L827 1249.5 L827 1250 L827.1 1252 L827.3 1254.5 L827.5 1257 L827.6 1259.5 L827.8 1262 L828 1264.5 L837 1264.5 L837.2 1262 L837.4 1259.5 L837.5 1257 L837.7 1254.5 L837.9 1252 L838 1250 L838 1249.5 L838.2 1247 L838.3 1244.5 L838.5 1242 L838.6 1239.5 L838.8 1237 L838.9 1234.5 L839.1 1232 L839.2 1230 L839.3 1229.5 L839.5 1227 L839.6 1224.5 L839.8 1222 L840 1219.5 L840.2 1217 L840.4 1214.5 L840.6 1212 L840.8 1209.5 L841.1 1207 L841.2 1205 L841.3 1204.5 L841.6 1202 L841.9 1199.5 L842.3 1197 L842.7 1194.5 L843.1 1192 L843.5 1189.5 L843.8 1187 L844.1 1184.5 L844.4 1182 L844.5 1180 L844.5 1179.5 L844.7 1177 L844.8 1174.5 L844.9 1172 L845 1169.5 L845.1 1167 L845.2 1164.5 L845.3 1162 L845.4 1159.5 L845.5 1157 L845.5 1154.5 L845.6 1152 L845.6 1149.5 L845.6 1147.5 L845.6 1147 L845.6 1144.5 L845.5 1142 L845.4 1139.5 L845.3 1137 L845.2 1134.5 L845 1132 L844.8 1129.5 L844.6 1127 L844.4 1124.5 L844.2 1122 L843.9 1119.5 L843.7 1117.5 L843.7 1117 L843.4 1114.5 L843.1 1112 L842.7 1109.5 L842.1 1107 L841.5 1105 L841.2 1104.5 L838.5 1102 Z" fill="#4c7eab" stroke="#4a4a4a" stroke-width="1.8" stroke-linejoin="round"/>
<line x1="832.5" y1="1102" x2="832.5" y2="1264.5" stroke="#484848" stroke-width="1.6"/><line x1="832.5" y1="1128.8" x2="832.5" y2="1197.5" stroke="#484848" stroke-width="6" stroke-linecap="round"/><path d="M871.7 1087.5 L871.6 1090 L871.3 1092.5 L870.7 1095 L870 1097.5 L870 1097.5 L867.6 1100 L864.5 1102.5 L864 1103.8 L864 1105 L863.9 1107.5 L863.8 1110.1 L863.7 1112.6 L863.7 1115.1 L863.6 1117.6 L863.6 1120.1 L863.5 1122.6 L863.5 1125.1 L863.4 1127.6 L863.4 1130.1 L863.3 1132.6 L863.3 1135.1 L863.3 1137.6 L863.3 1140.1 L863.2 1142.6 L863.2 1145.1 L863.2 1147.6 L863.2 1150.2 L863.2 1152.7 L863.1 1155.2 L863.1 1157.7 L863.1 1160.2 L863.1 1162.7 L863.1 1165.2 L863.1 1167.7 L863.1 1170.2 L863.1 1172.7 L863.1 1175.2 L863.1 1177.7 L863.1 1180 L863.1 1180.2 L863.1 1182.7 L863.1 1185.2 L863.1 1187.7 L863.1 1190.3 L863.2 1192.8 L863.2 1195.3 L863.2 1197.8 L863.2 1200.3 L863.3 1202.8 L863.3 1205.3 L863.3 1207.8 L863.4 1210.3 L863.4 1212.8 L863.5 1215.3 L863.5 1217.8 L863.6 1220.3 L863.6 1222.8 L863.7 1225.3 L863.7 1227.8 L863.7 1230 L863.7 1230.4 L863.8 1232.9 L863.8 1235.4 L863.9 1237.9 L863.9 1240.4 L864 1242.9 L864.1 1245.4 L864.1 1247.9 L864.2 1250.4 L864.3 1252.9 L864.3 1255.4 L864.4 1257.9 L864.5 1260.4 L864.5 1262.9 L864.6 1265.4 L864.7 1267.9 L864.8 1270.5 L864.9 1273 L865 1275.5 L865 1278 L865.1 1280.5 L865.2 1283 L865.3 1285.5 L865.4 1288 L865.5 1290.5 L886.5 1290.5 L886.6 1288 L886.7 1285.5 L886.8 1283 L886.9 1280.5 L886.9 1278 L887 1275.5 L887.1 1273 L887.2 1270.5 L887.3 1267.9 L887.4 1265.4 L887.4 1262.9 L887.5 1260.4 L887.6 1257.9 L887.7 1255.4 L887.7 1252.9 L887.8 1250.4 L887.9 1247.9 L887.9 1245.4 L888 1242.9 L888 1240.4 L888.1 1237.9 L888.1 1235.4 L888.2 1232.9 L888.2 1230.4 L888.2 1230 L888.3 1227.8 L888.3 1225.3 L888.4 1222.8 L888.4 1220.3 L888.5 1217.8 L888.5 1215.3 L888.6 1212.8 L888.6 1210.3 L888.6 1207.8 L888.7 1205.3 L888.7 1202.8 L888.7 1200.3 L888.8 1197.8 L888.8 1195.3 L888.8 1192.8 L888.9 1190.3 L888.9 1187.7 L888.9 1185.2 L888.9 1182.7 L888.9 1180.2 L888.9 1180 L888.9 1177.7 L888.9 1175.2 L888.9 1172.7 L888.9 1170.2 L888.9 1167.7 L888.9 1165.2 L888.9 1162.7 L888.9 1160.2 L888.9 1157.7 L888.8 1155.2 L888.8 1152.7 L888.8 1150.2 L888.8 1147.6 L888.8 1145.1 L888.8 1142.6 L888.7 1140.1 L888.7 1137.6 L888.7 1135.1 L888.6 1132.6 L888.6 1130.1 L888.6 1127.6 L888.5 1125.1 L888.5 1122.6 L888.4 1120.1 L888.4 1117.6 L888.3 1115.1 L888.2 1112.6 L888.2 1110.1 L888.1 1107.5 L888 1105 L888 1103.8 L887.4 1102.5 L884.4 1100 L882 1097.5 L882 1097.5 L881.3 1095 L880.7 1092.5 L880.4 1090 L880.2 1087.5 Z" fill="#4c7eab" stroke="#4a4a4a" stroke-width="1.8" stroke-linejoin="round"/>
<line x1="876" y1="1087.5" x2="876" y2="1290.5" stroke="#484848" stroke-width="1.6"/><line x1="876" y1="1102.5" x2="876" y2="1211.2" stroke="#484848" stroke-width="6" stroke-linecap="round"/><path d="M915.2 1087 L915 1089.5 L914.4 1092.1 L913.6 1094.6 L913 1096.2 L912.5 1097.1 L910 1099.7 L907.6 1102.2 L907 1103.8 L907 1104.7 L906.9 1107.3 L906.9 1109.8 L906.8 1112.3 L906.8 1114.8 L906.8 1117.4 L906.7 1119.9 L906.7 1122.4 L906.7 1125 L906.7 1127.5 L906.6 1130 L906.6 1132.6 L906.6 1135.1 L906.6 1137.6 L906.6 1140.2 L906.6 1142.7 L906.6 1145.2 L906.6 1147.8 L906.6 1150.3 L906.6 1152.8 L906.6 1155 L906.6 1155.4 L906.6 1157.9 L906.6 1160.4 L906.6 1163 L906.6 1165.5 L906.7 1168 L906.7 1170.5 L906.7 1173.1 L906.8 1175.6 L906.8 1178.1 L906.9 1180.7 L906.9 1183.2 L907 1185.7 L907 1188.3 L907.1 1190.8 L907.1 1193.3 L907.2 1195.9 L907.2 1198.4 L907.3 1200.9 L907.4 1203.5 L907.4 1205 L907.4 1206 L907.5 1208.5 L907.5 1211.1 L907.6 1213.6 L907.7 1216.1 L907.7 1218.6 L907.8 1221.2 L907.9 1223.7 L907.9 1226.2 L908 1228.8 L908.1 1231.3 L908.2 1233.8 L908.3 1236.4 L908.4 1238.9 L908.5 1241.4 L908.6 1244 L908.6 1246.5 L908.7 1249 L908.8 1251.6 L908.9 1254.1 L909.1 1256.6 L909.2 1259.2 L909.3 1261.7 L909.4 1264.2 L909.5 1266.8 L929.5 1266.8 L929.6 1264.2 L929.7 1261.7 L929.8 1259.2 L929.9 1256.6 L930 1254.1 L930.1 1251.6 L930.2 1249 L930.3 1246.5 L930.4 1244 L930.5 1241.4 L930.6 1238.9 L930.7 1236.4 L930.8 1233.8 L930.9 1231.3 L930.9 1228.8 L931 1226.2 L931.1 1223.7 L931.2 1221.2 L931.2 1218.6 L931.3 1216.1 L931.4 1213.6 L931.4 1211.1 L931.5 1208.5 L931.6 1206 L931.6 1205 L931.6 1203.5 L931.7 1200.9 L931.7 1198.4 L931.8 1195.9 L931.8 1193.3 L931.9 1190.8 L932 1188.3 L932 1185.7 L932.1 1183.2 L932.1 1180.7 L932.2 1178.1 L932.2 1175.6 L932.2 1173.1 L932.3 1170.5 L932.3 1168 L932.3 1165.5 L932.4 1163 L932.4 1160.4 L932.4 1157.9 L932.4 1155.4 L932.4 1155 L932.4 1152.8 L932.4 1150.3 L932.4 1147.8 L932.4 1145.2 L932.4 1142.7 L932.4 1140.2 L932.4 1137.6 L932.3 1135.1 L932.3 1132.6 L932.3 1130 L932.3 1127.5 L932.3 1125 L932.3 1122.4 L932.2 1119.9 L932.2 1117.4 L932.2 1114.8 L932.1 1112.3 L932.1 1109.8 L932.1 1107.3 L932 1104.7 L932 1103.8 L931.4 1102.2 L928.9 1099.7 L926.5 1097.1 L926 1096.2 L925.4 1094.6 L924.5 1092.1 L924 1089.5 L923.7 1087 Z" fill="#4c7eab" stroke="#4a4a4a" stroke-width="1.8" stroke-linejoin="round"/>
<line x1="919.5" y1="1103" x2="919.5" y2="1155" stroke="#484848" stroke-width="1.6"/><line x1="919.5" y1="1108.8" x2="919.5" y2="1151.2" stroke="#484848" stroke-width="6" stroke-linecap="round"/><path d="M952 1101.8 L950 1104 L950 1104.3 L950 1106.9 L950.1 1109.4 L950.2 1112 L950.4 1114.5 L950.5 1117.1 L950.7 1119.7 L950.9 1122.2 L951.1 1124.8 L951.1 1125 L951.2 1127.3 L951.5 1129.9 L951.7 1132.5 L951.9 1135 L952.2 1137.6 L952.4 1140.1 L952.7 1142.7 L953 1145.2 L953.2 1147.8 L953.4 1150 L953.4 1150.4 L953.6 1152.9 L953.8 1155.5 L954 1158 L954.2 1160.6 L954.4 1163.2 L954.6 1165.7 L954.8 1168.3 L955 1170.8 L955.2 1173.4 L955.4 1176 L955.6 1178.5 L955.7 1181.1 L955.9 1183.6 L956.1 1186.2 L956.2 1188.8 L969.7 1188.8 L969.9 1186.2 L970.1 1183.6 L970.2 1181.1 L970.4 1178.5 L970.6 1176 L970.8 1173.4 L970.9 1170.8 L971.1 1168.3 L971.3 1165.7 L971.5 1163.2 L971.7 1160.6 L971.9 1158 L972.1 1155.5 L972.3 1152.9 L972.5 1150.4 L972.6 1150 L972.8 1147.8 L973 1145.2 L973.3 1142.7 L973.5 1140.1 L973.8 1137.6 L974 1135 L974.3 1132.5 L974.5 1129.9 L974.7 1127.3 L974.9 1125 L974.9 1124.8 L975.1 1122.2 L975.3 1119.7 L975.4 1117.1 L975.6 1114.5 L975.7 1112 L975.9 1109.4 L975.9 1106.9 L976 1104.3 L976 1104 L974 1101.8 Z" fill="#4c7eab" stroke="#4a4a4a" stroke-width="1.8" stroke-linejoin="round"/>
<line x1="963" y1="1101.8" x2="963" y2="1188.8" stroke="#484848" stroke-width="1.6"/><line x1="963" y1="1105" x2="963" y2="1128.8" stroke="#484848" stroke-width="6" stroke-linecap="round"/><path d="M997 1082.5 L997 1085.1 L997 1087.7 L997 1090.2 L997 1092.5 L997 1092.8 L996.3 1095.4 L995.1 1098 L994 1100.5 L993.7 1102.5 L993.7 1103.1 L993.7 1105.7 L993.7 1108.3 L993.7 1110.8 L993.7 1113.4 L993.7 1116 L993.7 1118.6 L993.7 1121.1 L993.7 1123.7 L993.7 1125 L993.7 1126.3 L993.7 1128.9 L993.8 1131.4 L993.8 1134 L993.9 1136.6 L993.9 1139.2 L994 1141.8 L1019 1141.8 L1019 1139.2 L1019.1 1136.6 L1019.1 1134 L1019.2 1131.4 L1019.2 1128.9 L1019.2 1126.3 L1019.2 1125 L1019.2 1123.7 L1019.2 1121.1 L1019.2 1118.6 L1019.2 1116 L1019.2 1113.4 L1019.2 1110.8 L1019.2 1108.3 L1019.2 1105.7 L1019.2 1103.1 L1019.2 1102.5 L1018.9 1100.5 L1017.8 1098 L1016.6 1095.4 L1016 1092.8 L1016 1092.5 L1016 1090.2 L1016 1087.7 L1016 1085.1 L1016 1082.5 Z" fill="#4c7eab" stroke="#4a4a4a" stroke-width="1.8" stroke-linejoin="round"/>
<line x1="1006.5" y1="1082.5" x2="1006.5" y2="1141.8" stroke="#484848" stroke-width="1.6"/><line x1="1006.5" y1="1084.5" x2="1006.5" y2="1107.5" stroke="#484848" stroke-width="6" stroke-linecap="round"/><path d="M1039 1099.2 L1037 1101.5 L1037 1101.8 L1036.9 1104.3 L1036.8 1106.9 L1036.8 1109.4 L1036.8 1111.9 L1036.7 1114.5 L1036.7 1117 L1036.7 1119.5 L1036.7 1122.1 L1036.7 1124.6 L1036.7 1125 L1036.7 1127.1 L1036.7 1129.7 L1036.8 1132.2 L1036.8 1134.8 L1036.9 1137.3 L1037 1139.8 L1037 1142.4 L1037.1 1144.9 L1037.2 1147.4 L1037.3 1150 L1037.5 1152.5 L1062.5 1152.5 L1062.6 1150 L1062.7 1147.4 L1062.8 1144.9 L1062.9 1142.4 L1063 1139.8 L1063 1137.3 L1063.1 1134.8 L1063.2 1132.2 L1063.2 1129.7 L1063.2 1127.1 L1063.2 1125 L1063.2 1124.6 L1063.2 1122.1 L1063.2 1119.5 L1063.2 1117 L1063.2 1114.5 L1063.2 1111.9 L1063.1 1109.4 L1063.1 1106.9 L1063 1104.3 L1063 1101.8 L1063 1101.5 L1061 1099.2 Z" fill="#4c7eab" stroke="#4a4a4a" stroke-width="1.8" stroke-linejoin="round"/>
<line x1="1050" y1="1099.2" x2="1050" y2="1152.5" stroke="#484848" stroke-width="1.6"/><line x1="1050" y1="1102.5" x2="1050" y2="1150.5" stroke="#484848" stroke-width="6" stroke-linecap="round"/><path d="M1082.5 1093.2 L1080.5 1095.8 L1080.5 1096 L1080.5 1098.3 L1080.5 1100.8 L1080.5 1103.4 L1080.5 1105.9 L1080.6 1108.4 L1080.6 1110.9 L1080.7 1113.5 L1080.7 1116 L1080.8 1118.5 L1080.9 1121 L1080.9 1123.6 L1081 1126.1 L1081.1 1128.6 L1081.1 1131.2 L1081.2 1133.7 L1081.3 1136.2 L1081.3 1138.7 L1081.4 1141.3 L1081.4 1143.8 L1081.5 1146.3 L1081.5 1148.8 L1081.6 1150 L1081.6 1151.4 L1081.6 1153.9 L1081.6 1156.4 L1081.7 1159 L1081.7 1161.5 L1081.8 1164 L1081.8 1166.5 L1081.8 1169.1 L1081.8 1171.6 L1081.9 1174.1 L1081.9 1176.6 L1081.9 1179.2 L1082 1181.7 L1082 1184.2 L1082 1186.8 L1082 1189.3 L1082.1 1191.8 L1082.1 1194.3 L1082.1 1196.9 L1082.1 1199.4 L1082.2 1201.9 L1082.2 1204.4 L1082.2 1207 L1082.2 1209.5 L1104.7 1209.5 L1104.7 1207 L1104.7 1204.4 L1104.8 1201.9 L1104.8 1199.4 L1104.8 1196.9 L1104.8 1194.3 L1104.8 1191.8 L1104.9 1189.3 L1104.9 1186.8 L1104.9 1184.2 L1104.9 1181.7 L1105 1179.2 L1105 1176.6 L1105 1174.1 L1105.1 1171.6 L1105.1 1169.1 L1105.1 1166.5 L1105.2 1164 L1105.2 1161.5 L1105.2 1159 L1105.3 1156.4 L1105.3 1153.9 L1105.3 1151.4 L1105.4 1150 L1105.4 1148.8 L1105.4 1146.3 L1105.5 1143.8 L1105.5 1141.3 L1105.6 1138.7 L1105.6 1136.2 L1105.7 1133.7 L1105.8 1131.2 L1105.9 1128.6 L1105.9 1126.1 L1106 1123.6 L1106.1 1121 L1106.1 1118.5 L1106.2 1116 L1106.2 1113.5 L1106.3 1110.9 L1106.3 1108.4 L1106.4 1105.9 L1106.4 1103.4 L1106.4 1100.8 L1106.5 1098.3 L1106.5 1096 L1106.4 1095.8 L1104.5 1093.2 Z" fill="#4c7eab" stroke="#4a4a4a" stroke-width="1.8" stroke-linejoin="round"/>
<line x1="1093.5" y1="1093.2" x2="1093.5" y2="1209.5" stroke="#484848" stroke-width="1.6"/><line x1="1093.5" y1="1097.5" x2="1093.5" y2="1205" stroke="#484848" stroke-width="6" stroke-linecap="round"/><path d="M1136.2 1090.8 L1134.2 1093.3 L1134 1093.5 L1128.4 1095.8 L1127.6 1096.2 L1124.3 1098.4 L1123.6 1099.5 L1124.7 1100.9 L1128.6 1103.4 L1128.9 1103.8 L1129.8 1106 L1130.6 1108.5 L1131.2 1111 L1131.4 1112.5 L1131.5 1113.6 L1131.7 1116.1 L1131.9 1118.6 L1132.1 1121.2 L1132.2 1123.7 L1132.4 1126.2 L1132.5 1128.8 L1132.6 1131.3 L1132.7 1133.8 L1132.8 1136.4 L1132.9 1137.5 L1132.9 1138.9 L1133 1141.4 L1133.2 1144 L1133.3 1146.5 L1133.4 1149 L1133.5 1151.6 L1133.6 1154.1 L1133.7 1156.7 L1133.8 1159.2 L1133.8 1161.7 L1133.9 1162.5 L1133.9 1164.3 L1133.9 1166.8 L1133.9 1169.3 L1133.9 1171.9 L1133.9 1174.4 L1133.9 1176.9 L1133.9 1179.5 L1134 1182 L1140 1182 L1140 1179.5 L1140 1176.9 L1140 1174.4 L1140 1171.9 L1140 1169.3 L1140 1166.8 L1140 1164.3 L1140.1 1162.5 L1140.1 1161.7 L1140.1 1159.2 L1140.2 1156.7 L1140.3 1154.1 L1140.4 1151.6 L1140.5 1149 L1140.6 1146.5 L1140.7 1144 L1140.9 1141.4 L1141 1138.9 L1141.1 1137.5 L1141.1 1136.4 L1141.2 1133.8 L1141.3 1131.3 L1141.4 1128.8 L1141.5 1126.2 L1141.7 1123.7 L1141.8 1121.2 L1142 1118.6 L1142.2 1116.1 L1142.4 1113.6 L1142.6 1112.5 L1142.8 1111 L1143.3 1108.5 L1144.1 1106 L1145.1 1103.8 L1145.3 1103.4 L1149.2 1100.9 L1150.4 1099.5 L1149.6 1098.4 L1146.4 1096.2 L1145.5 1095.8 L1140 1093.5 L1139.7 1093.3 L1137.8 1090.8 Z" fill="#4c7eab" stroke="#4a4a4a" stroke-width="1.8" stroke-linejoin="round"/>
<line x1="1137" y1="1090.8" x2="1137" y2="1182" stroke="#484848" stroke-width="1.6"/><line x1="1137" y1="1098.8" x2="1137" y2="1101.2" stroke="#484848" stroke-width="6" stroke-linecap="round"/><path d="M1178.4 1095.8 L1175.7 1096.7 L1173.4 1097.5 L1173.1 1097.6 L1170 1098.6 L1167.5 1099.5 L1167 1100 L1167.5 1100.4 L1170.2 1101.4 L1172.4 1102 L1173.5 1102.3 L1177.4 1103.2 L1183.4 1103.2 L1187.4 1102.3 L1188.4 1102 L1190.7 1101.4 L1193.4 1100.4 L1193.8 1100 L1193.4 1099.5 L1190.9 1098.6 L1187.8 1097.6 L1187.4 1097.5 L1185.2 1096.7 L1182.4 1095.8 Z" fill="#4c7eab" stroke="#4a4a4a" stroke-width="1.8" stroke-linejoin="round"/>
<line x1="1180.4" y1="1095.8" x2="1180.4" y2="1103.2" stroke="#484848" stroke-width="1.6"/><line x1="1180.4" y1="1100.5" x2="1180.4" y2="1099.5" stroke="#484848" stroke-width="6" stroke-linecap="round"/><path d="M1217.9 1093.2 L1214.6 1094.2 L1213.9 1094.5 L1212.2 1095.2 L1210.5 1096.2 L1210.4 1096.5 L1211.2 1097.2 L1213.5 1098.2 L1215.4 1099 L1216 1099.2 L1218.6 1100.2 L1221.4 1101.2 L1226.4 1101.2 L1229.3 1100.2 L1231.9 1099.2 L1232.4 1099 L1234.4 1098.2 L1236.7 1097.2 L1237.4 1096.5 L1237.4 1096.2 L1235.7 1095.2 L1233.9 1094.5 L1233.3 1094.2 L1229.9 1093.2 Z" fill="#4c7eab" stroke="#4a4a4a" stroke-width="1.8" stroke-linejoin="round"/>
<line x1="1223.9" y1="1093.2" x2="1223.9" y2="1101.2" stroke="#484848" stroke-width="1.6"/><line x1="1223.9" y1="1096.5" x2="1223.9" y2="1096.5" stroke="#484848" stroke-width="6" stroke-linecap="round"/><path d="M1262.9 1053.8 L1262.9 1056.4 L1262.9 1059 L1262.8 1061.6 L1262.8 1064.2 L1262.7 1066.8 L1262.7 1067.5 L1262.5 1069.4 L1261.8 1072 L1260.8 1074.6 L1259.7 1077.2 L1258.7 1079.8 L1258.7 1080 L1257.8 1082.4 L1256.7 1085 L1255.6 1087.6 L1254.8 1090.2 L1254.4 1092.5 L1254.4 1092.8 L1254.3 1095.4 L1254.2 1098 L1254.2 1098 L1254.4 1100.6 L1254.9 1103.2 L1279.9 1103.2 L1280.4 1100.6 L1280.6 1098 L1280.6 1098 L1280.6 1095.4 L1280.5 1092.8 L1280.4 1092.5 L1280.1 1090.2 L1279.3 1087.6 L1278.2 1085 L1277.1 1082.4 L1276.2 1080 L1276.1 1079.8 L1275.1 1077.2 L1274.1 1074.6 L1273.1 1072 L1272.4 1069.4 L1272.2 1067.5 L1272.2 1066.8 L1272.1 1064.2 L1272 1061.6 L1272 1059 L1271.9 1056.4 L1271.9 1053.8 Z" fill="#4c7eab" stroke="#4a4a4a" stroke-width="1.8" stroke-linejoin="round"/>
<line x1="1267.4" y1="1084" x2="1267.4" y2="1103.2" stroke="#484848" stroke-width="1.6"/><line x1="1267.4" y1="1088.8" x2="1267.4" y2="1098.8" stroke="#484848" stroke-width="6" stroke-linecap="round"/><path d="M1302.7 1064.5 L1302 1067.2 L1301.3 1069.8 L1300.6 1072.5 L1300 1075 L1300 1075.2 L1299.2 1077.9 L1298.3 1080.5 L1297.7 1083.2 L1297.5 1085 L1297.5 1085.9 L1297.7 1088.5 L1297.7 1088.6 L1298.9 1091.2 L1322.9 1091.2 L1324.1 1088.6 L1324.1 1088.5 L1324.3 1085.9 L1324.3 1085 L1324.2 1083.2 L1323.6 1080.5 L1322.7 1077.9 L1321.9 1075.2 L1321.8 1075 L1321.2 1072.5 L1320.5 1069.8 L1319.9 1067.2 L1319.2 1064.5 Z" fill="#4c7eab" stroke="#4a4a4a" stroke-width="1.8" stroke-linejoin="round"/>
<line x1="1310.9" y1="1064.5" x2="1310.9" y2="1091.2" stroke="#484848" stroke-width="1.6"/><line x1="1310.9" y1="1073.8" x2="1310.9" y2="1086.2" stroke="#484848" stroke-width="6" stroke-linecap="round"/><path d="M1350.4 1064.5 L1346.8 1065.5 L1345.4 1066 L1344.2 1066.5 L1342 1067.5 L1341.3 1068.2 L1341.4 1068.5 L1343.2 1069.5 L1345.9 1070.5 L1348.7 1071.5 L1351.9 1072.5 L1356.9 1072.5 L1360.2 1071.5 L1362.9 1070.5 L1365.6 1069.5 L1367.4 1068.5 L1367.5 1068.2 L1366.9 1067.5 L1364.7 1066.5 L1363.4 1066 L1362 1065.5 L1358.4 1064.5 Z" fill="#4c7eab" stroke="#4a4a4a" stroke-width="1.8" stroke-linejoin="round"/>
<line x1="1354.4" y1="1064.5" x2="1354.4" y2="1072.5" stroke="#484848" stroke-width="1.6"/><line x1="1354.4" y1="1068.5" x2="1354.4" y2="1068.5" stroke="#484848" stroke-width="6" stroke-linecap="round"/><path d="M1394.2 1044.2 L1394.1 1046.8 L1394.1 1049.3 L1394 1051.8 L1393.9 1052.5 L1392.9 1054.4 L1390.1 1056.9 L1389.5 1057.5 L1387 1059.4 L1384.8 1062 L1384.8 1062 L1384.9 1064.5 L1410.9 1064.5 L1411 1062 L1411 1062 L1408.8 1059.4 L1406.3 1057.5 L1405.7 1056.9 L1402.9 1054.4 L1401.9 1052.5 L1401.9 1051.8 L1401.8 1049.3 L1401.7 1046.8 L1401.7 1044.2 Z" fill="#4c7eab" stroke="#4a4a4a" stroke-width="1.8" stroke-linejoin="round"/>
<line x1="1397.9" y1="1057" x2="1397.9" y2="1064.5" stroke="#484848" stroke-width="1.6"/><line x1="1397.9" y1="1061.5" x2="1397.9" y2="1061.5" stroke="#484848" stroke-width="6" stroke-linecap="round"/><path d="M1432.7 1038.8 L1429.9 1041 L1429.8 1041.3 L1429 1043.9 L1428.6 1046.4 L1428.3 1049 L1428.3 1050 L1428.3 1051.5 L1428.5 1054.1 L1428.7 1056.6 L1429.1 1059.2 L1429.2 1060 L1429.6 1061.8 L1430.6 1064.3 L1431.9 1066.9 L1433.2 1069.4 L1434.3 1072 L1434.8 1074.5 L1434.8 1075 L1434.8 1077.1 L1434.8 1079.7 L1434.8 1082.2 L1434.8 1084.8 L1434.8 1085 L1434.8 1087.3 L1434.9 1089.9 L1435 1092.4 L1435.2 1095 L1447.7 1095 L1447.8 1092.4 L1447.9 1089.9 L1448 1087.3 L1448 1085 L1448 1084.8 L1448 1082.2 L1448 1079.7 L1448 1077.1 L1448 1075 L1448 1074.5 L1448.5 1072 L1449.6 1069.4 L1450.9 1066.9 L1452.2 1064.3 L1453.3 1061.8 L1453.7 1060 L1453.8 1059.2 L1454.1 1056.6 L1454.3 1054.1 L1454.5 1051.5 L1454.5 1050 L1454.5 1049 L1454.3 1046.4 L1453.8 1043.9 L1453 1041.3 L1452.9 1041 L1450.2 1038.8 Z" fill="#4c7eab" stroke="#4a4a4a" stroke-width="1.8" stroke-linejoin="round"/>
<line x1="1441.4" y1="1038.8" x2="1441.4" y2="1095" stroke="#484848" stroke-width="1.6"/><line x1="1441.4" y1="1046.2" x2="1441.4" y2="1071.2" stroke="#484848" stroke-width="6" stroke-linecap="round"/><path d="M1479.1 1005 L1479.1 1007.6 L1479.1 1010.1 L1479 1012.7 L1478.9 1015.3 L1478.8 1017.8 L1478.7 1020.4 L1478.5 1023 L1478.3 1025.5 L1478.1 1028.1 L1478 1030 L1477.9 1030.7 L1477.5 1033.2 L1476.9 1035.8 L1476.2 1038.4 L1475.4 1040.9 L1474.6 1043.5 L1473.8 1046.1 L1473.2 1048.6 L1473 1050 L1472.8 1051.2 L1472.4 1053.8 L1472.1 1056.3 L1471.8 1058.9 L1471.7 1061.5 L1471.6 1062.5 L1471.7 1064 L1472 1066.6 L1472.4 1069.2 L1472.9 1071.7 L1473.5 1074.3 L1473.6 1075 L1474.1 1076.9 L1474.8 1079.4 L1475.6 1082 L1494.1 1082 L1495 1079.4 L1495.7 1076.9 L1496.1 1075 L1496.3 1074.3 L1496.9 1071.7 L1497.4 1069.2 L1497.8 1066.6 L1498.1 1064 L1498.1 1062.5 L1498.1 1061.5 L1498 1058.9 L1497.7 1056.3 L1497.4 1053.8 L1497 1051.2 L1496.8 1050 L1496.6 1048.6 L1496 1046.1 L1495.2 1043.5 L1494.4 1040.9 L1493.6 1038.4 L1492.9 1035.8 L1492.3 1033.2 L1491.9 1030.7 L1491.8 1030 L1491.7 1028.1 L1491.5 1025.5 L1491.3 1023 L1491.1 1020.4 L1491 1017.8 L1490.9 1015.3 L1490.8 1012.7 L1490.7 1010.1 L1490.7 1007.6 L1490.6 1005 Z" fill="#4c7eab" stroke="#4a4a4a" stroke-width="1.8" stroke-linejoin="round"/>
<line x1="1484.9" y1="1005" x2="1484.9" y2="1082" stroke="#484848" stroke-width="1.6"/><line x1="1484.9" y1="1033.8" x2="1484.9" y2="1067.5" stroke="#484848" stroke-width="6" stroke-linecap="round"/><path d="M1524.4 1041.2 L1524.4 1043.8 L1524.3 1046.2 L1524.1 1048.8 L1522.6 1051.2 L1520 1053.8 L1516.9 1056.2 L1515 1058.8 L1515.2 1061.2 L1515.2 1061.5 L1516.4 1063.8 L1540.4 1063.8 L1541.6 1061.5 L1541.6 1061.2 L1541.8 1058.8 L1539.9 1056.2 L1536.8 1053.8 L1534.2 1051.2 L1532.6 1048.8 L1532.5 1046.2 L1532.4 1043.8 L1532.4 1041.2 Z" fill="#4c7eab" stroke="#4a4a4a" stroke-width="1.8" stroke-linejoin="round"/>
<line x1="1528.4" y1="1053" x2="1528.4" y2="1063.8" stroke="#484848" stroke-width="1.6"/><line x1="1528.4" y1="1057.5" x2="1528.4" y2="1060.5" stroke="#484848" stroke-width="6" stroke-linecap="round"/><path d="M1560.9 1045.5 L1559.2 1047.5 L1559.2 1048.1 L1559 1050.7 L1559 1053.3 L1559 1055 L1559 1055.9 L1559.2 1058.4 L1559.7 1061 L1560.1 1063.6 L1560.5 1066.2 L1560.6 1067.5 L1560.7 1068.8 L1560.9 1071.4 L1561.1 1074 L1561.2 1076.6 L1561.3 1079.2 L1561.4 1081.8 L1582.4 1081.8 L1582.4 1079.2 L1582.5 1076.6 L1582.7 1074 L1582.9 1071.4 L1583 1068.8 L1583.1 1067.5 L1583.3 1066.2 L1583.7 1063.6 L1584.1 1061 L1584.5 1058.4 L1584.8 1055.9 L1584.8 1055 L1584.8 1053.3 L1584.7 1050.7 L1584.6 1048.1 L1584.6 1047.5 L1582.9 1045.5 Z" fill="#4c7eab" stroke="#4a4a4a" stroke-width="1.8" stroke-linejoin="round"/>
<line x1="1571.9" y1="1045.5" x2="1571.9" y2="1081.8" stroke="#484848" stroke-width="1.6"/><line x1="1571.9" y1="1048.8" x2="1571.9" y2="1077.5" stroke="#484848" stroke-width="6" stroke-linecap="round"/><path d="M1608.6 933.2 L1608.5 935.8 L1608.3 938.3 L1608.2 940.8 L1608 943.3 L1607.9 945.8 L1607.7 948.3 L1607.5 950.8 L1607.4 953.3 L1607.2 955.8 L1607.1 958.4 L1606.9 960.9 L1606.8 963.4 L1606.6 965.9 L1606.5 968.4 L1606.3 970.9 L1606.2 973.4 L1606 975.9 L1605.9 978.4 L1605.8 980 L1605.7 980.9 L1605.6 983.5 L1605.4 986 L1605.2 988.5 L1605.1 991 L1604.9 993.5 L1604.7 996 L1604.6 998.5 L1604.4 1001 L1604.2 1003.5 L1604.1 1006 L1603.9 1008.6 L1603.7 1011.1 L1603.6 1013.6 L1603.5 1016.1 L1603.3 1018.6 L1603.2 1021.1 L1603.1 1023.6 L1603 1026.1 L1602.9 1028.6 L1602.9 1030 L1602.8 1031.1 L1602.8 1033.7 L1602.7 1036.2 L1602.7 1038.7 L1602.6 1041.2 L1602.5 1043.7 L1602.5 1046.2 L1602.5 1048.7 L1602.4 1051.2 L1602.4 1053.7 L1602.4 1056.2 L1628.4 1056.2 L1628.4 1053.7 L1628.3 1051.2 L1628.3 1048.7 L1628.3 1046.2 L1628.2 1043.7 L1628.2 1041.2 L1628.1 1038.7 L1628 1036.2 L1628 1033.7 L1627.9 1031.1 L1627.9 1030 L1627.8 1028.6 L1627.8 1026.1 L1627.7 1023.6 L1627.6 1021.1 L1627.4 1018.6 L1627.3 1016.1 L1627.2 1013.6 L1627 1011.1 L1626.9 1008.6 L1626.7 1006 L1626.5 1003.5 L1626.4 1001 L1626.2 998.5 L1626 996 L1625.9 993.5 L1625.7 991 L1625.5 988.5 L1625.4 986 L1625.2 983.5 L1625 980.9 L1625 980 L1624.9 978.4 L1624.7 975.9 L1624.6 973.4 L1624.4 970.9 L1624.3 968.4 L1624.1 965.9 L1624 963.4 L1623.8 960.9 L1623.7 958.4 L1623.5 955.8 L1623.4 953.3 L1623.2 950.8 L1623.1 948.3 L1622.9 945.8 L1622.8 943.3 L1622.6 940.8 L1622.4 938.3 L1622.3 935.8 L1622.1 933.2 Z" fill="#4c7eab" stroke="#4a4a4a" stroke-width="1.8" stroke-linejoin="round"/>
<line x1="1615.4" y1="933.2" x2="1615.4" y2="1056.2" stroke="#484848" stroke-width="1.6"/><line x1="1615.4" y1="980" x2="1615.4" y2="1053.8" stroke="#484848" stroke-width="6" stroke-linecap="round"/><path d="M1656.9 953.8 L1656.9 956.3 L1656.9 958.8 L1656.8 961.3 L1656.8 963.9 L1656.8 966.4 L1656.8 968.9 L1656.7 971.5 L1656.7 974 L1656.6 976.5 L1656.6 979.1 L1656.5 981.6 L1656.5 984.1 L1656.4 986.7 L1656.4 987.5 L1656.3 989.2 L1656.1 991.7 L1655.8 994.3 L1655.4 996.8 L1655 999.3 L1654.5 1001.9 L1654 1004.4 L1653.9 1005 L1653.4 1006.9 L1652.6 1009.5 L1651.6 1012 L1650.6 1014.5 L1649.8 1017.1 L1649.6 1017.5 L1649 1019.6 L1648.1 1022.1 L1647.3 1024.6 L1646.5 1027.2 L1646 1029.7 L1645.8 1032.2 L1645.8 1032.5 L1645.8 1034.8 L1646 1037.3 L1646.4 1039.8 L1646.7 1042.4 L1647.1 1044.9 L1647.1 1045 L1647.6 1047.4 L1648.2 1050 L1648.9 1052.5 L1668.9 1052.5 L1669.6 1050 L1670.2 1047.4 L1670.6 1045 L1670.6 1044.9 L1671 1042.4 L1671.4 1039.8 L1671.7 1037.3 L1671.9 1034.8 L1672 1032.5 L1672 1032.2 L1671.7 1029.7 L1671.2 1027.2 L1670.5 1024.6 L1669.6 1022.1 L1668.8 1019.6 L1668.1 1017.5 L1668 1017.1 L1667.1 1014.5 L1666.1 1012 L1665.2 1009.5 L1664.4 1006.9 L1663.9 1005 L1663.7 1004.4 L1663.2 1001.9 L1662.8 999.3 L1662.3 996.8 L1661.9 994.3 L1661.7 991.7 L1661.4 989.2 L1661.4 987.5 L1661.3 986.7 L1661.3 984.1 L1661.2 981.6 L1661.2 979.1 L1661.1 976.5 L1661.1 974 L1661 971.5 L1661 968.9 L1660.9 966.4 L1660.9 963.9 L1660.9 961.3 L1660.9 958.8 L1660.9 956.3 L1660.9 953.8 Z" fill="#4c7eab" stroke="#4a4a4a" stroke-width="1.8" stroke-linejoin="round"/>
<line x1="1658.9" y1="1012" x2="1658.9" y2="1052.5" stroke="#484848" stroke-width="1.6"/><line x1="1658.9" y1="1024.5" x2="1658.9" y2="1043.8" stroke="#484848" stroke-width="6" stroke-linecap="round"/><path d="M1691.1 923.2 L1691 925.8 L1690.9 928.3 L1690.7 930.8 L1690.6 933.3 L1690.5 935.9 L1690.4 938.4 L1690.3 940.9 L1690.2 943.4 L1690.1 946 L1690 948.5 L1689.9 951 L1689.8 953.5 L1689.7 956 L1689.7 958.6 L1689.6 961.1 L1689.5 963.6 L1689.5 966.1 L1689.5 968.7 L1689.4 971.2 L1689.4 973.7 L1689.4 976.2 L1689.4 978.8 L1689.4 980 L1689.4 981.3 L1689.4 983.8 L1689.4 986.3 L1689.4 988.8 L1689.4 991.4 L1689.4 993.9 L1689.4 996.4 L1689.4 998.9 L1689.4 1001.5 L1689.5 1004 L1689.5 1006.5 L1689.5 1009 L1689.5 1011.5 L1689.5 1014.1 L1689.5 1016.6 L1689.6 1019.1 L1689.6 1020 L1689.6 1021.6 L1689.6 1024.2 L1689.6 1026.7 L1689.7 1029.2 L1689.7 1031.7 L1689.7 1034.2 L1689.8 1036.8 L1689.8 1039.3 L1689.9 1041.8 L1689.9 1044.3 L1690 1046.9 L1690.1 1049.4 L1690.1 1051.9 L1690.2 1054.4 L1690.2 1057 L1690.3 1059.5 L1690.4 1062 L1714.4 1062 L1714.4 1059.5 L1714.5 1057 L1714.6 1054.4 L1714.6 1051.9 L1714.7 1049.4 L1714.7 1046.9 L1714.8 1044.3 L1714.8 1041.8 L1714.9 1039.3 L1714.9 1036.8 L1715 1034.2 L1715 1031.7 L1715.1 1029.2 L1715.1 1026.7 L1715.1 1024.2 L1715.2 1021.6 L1715.2 1020 L1715.2 1019.1 L1715.2 1016.6 L1715.2 1014.1 L1715.2 1011.5 L1715.2 1009 L1715.3 1006.5 L1715.3 1004 L1715.3 1001.5 L1715.3 998.9 L1715.3 996.4 L1715.3 993.9 L1715.3 991.4 L1715.4 988.8 L1715.4 986.3 L1715.4 983.8 L1715.4 981.3 L1715.4 980 L1715.4 978.8 L1715.4 976.2 L1715.3 973.7 L1715.3 971.2 L1715.3 968.7 L1715.2 966.1 L1715.2 963.6 L1715.1 961.1 L1715.1 958.6 L1715 956 L1714.9 953.5 L1714.8 951 L1714.8 948.5 L1714.7 946 L1714.6 943.4 L1714.5 940.9 L1714.3 938.4 L1714.2 935.9 L1714.1 933.3 L1714 930.8 L1713.9 928.3 L1713.7 925.8 L1713.6 923.2 Z" fill="#4c7eab" stroke="#4a4a4a" stroke-width="1.8" stroke-linejoin="round"/>
<line x1="1702.4" y1="923.2" x2="1702.4" y2="1062" stroke="#484848" stroke-width="1.6"/><line x1="1702.4" y1="941.2" x2="1702.4" y2="1051.2" stroke="#484848" stroke-width="6" stroke-linecap="round"/><path d="M1736.4 960 L1734.4 962 L1734 962.8 L1732.8 965.5 L1732.6 967.4 L1732.6 968.3 L1733.3 971 L1734.4 973.8 L1735.5 976.3 L1735.5 976.5 L1736.6 979.3 L1737.9 982 L1739.2 984.8 L1752.6 984.8 L1753.9 982 L1755.1 979.3 L1756.2 976.5 L1756.3 976.3 L1757.3 973.8 L1758.4 971 L1759.1 968.3 L1759.2 967.4 L1758.9 965.5 L1757.8 962.8 L1757.4 962 L1755.4 960 Z" fill="#4c7eab" stroke="#4a4a4a" stroke-width="1.8" stroke-linejoin="round"/>
<line x1="1745.9" y1="960" x2="1745.9" y2="984.8" stroke="#484848" stroke-width="1.6"/><line x1="1745.9" y1="965.4" x2="1745.9" y2="974.5" stroke="#484848" stroke-width="6" stroke-linecap="round"/><path d="M1776.5 910.7 L1776.5 913.2 L1776.6 915.7 L1776.6 918.2 L1776.7 920.7 L1776.9 923.2 L1777 925.7 L1777.1 928.2 L1777.3 930.7 L1777.4 933.2 L1777.6 935.7 L1777.8 938.2 L1777.9 939.2 L1778 940.7 L1778.2 943.3 L1778.5 945.8 L1778.7 948.3 L1779.1 950.8 L1779.4 953.3 L1779.7 955.8 L1780.1 958.3 L1780.5 960.8 L1780.8 963.3 L1781.2 965.8 L1781.5 968.3 L1781.6 968.8 L1781.8 970.8 L1782.1 973.3 L1782.5 975.8 L1782.8 978.3 L1783.1 980.8 L1783.5 983.3 L1783.8 985.8 L1784.1 988.3 L1784.4 990.8 L1784.7 993.3 L1785 995.8 L1785.2 998.3 L1785.3 998.5 L1785.5 1000.8 L1785.7 1003.3 L1786 1005.8 L1786.2 1008.4 L1786.4 1010.9 L1786.6 1013.4 L1786.7 1015.9 L1786.8 1018.4 L1786.9 1020.7 L1786.9 1020.9 L1786.8 1023.4 L1786.7 1025.9 L1786.5 1028.4 L1786.3 1030.9 L1786 1033.4 L1785.7 1035.9 L1785.4 1038.4 L1785.1 1040.9 L1785 1042.9 L1784.9 1043.4 L1784.7 1045.9 L1784.4 1048.4 L1784.1 1050.9 L1783.8 1053.4 L1783.5 1055.9 L1783.2 1058.4 L1782.9 1060.9 L1782.7 1063.4 L1782.4 1065.9 L1782.2 1068.4 L1782 1071 L1782 1072.5 L1781.9 1073.5 L1781.8 1076 L1781.6 1078.5 L1781.5 1081 L1781.4 1083.5 L1781.3 1086 L1781.2 1088.5 L1781.1 1091 L1781 1093.5 L1780.9 1096 L1780.9 1098.5 L1780.9 1101 L1780.9 1102 L1780.9 1103.5 L1780.9 1106 L1780.9 1108.5 L1780.9 1111 L1780.9 1113.5 L1780.9 1116 L1780.9 1118.5 L1780.9 1121 L1780.9 1123.5 L1780.9 1126 L1780.9 1128.5 L1780.9 1131 L1780.9 1133.5 L1780.9 1136.1 L1780.9 1138.6 L1780.9 1141.1 L1780.9 1143.6 L1780.9 1146.1 L1780.9 1148.6 L1780.9 1151.1 L1780.9 1153.6 L1780.9 1156.1 L1780.9 1158.6 L1780.9 1161.1 L1780.9 1163.6 L1780.9 1166.1 L1780.9 1168.6 L1780.9 1171.1 L1780.9 1173.6 L1780.9 1176.1 L1780.9 1178.6 L1780.9 1181.1 L1780.9 1183.6 L1780.9 1186.1 L1780.9 1188.6 L1780.9 1191.1 L1780.9 1193.6 L1780.9 1196.1 L1780.9 1198.7 L1780.9 1201.2 L1780.9 1203.7 L1780.9 1206.2 L1780.9 1208.7 L1780.9 1211.2 L1780.9 1213.7 L1780.9 1216.2 L1780.9 1218.7 L1780.9 1221.2 L1780.9 1223.7 L1780.9 1226.2 L1780.9 1228.7 L1780.9 1231.2 L1780.9 1233.7 L1780.9 1236.2 L1780.9 1238.7 L1780.9 1241.2 L1780.9 1243.7 L1780.9 1246.2 L1780.9 1248.7 L1780.9 1251.2 L1780.9 1253.7 L1780.9 1256.2 L1780.9 1258.7 L1780.9 1261.2 L1780.9 1263.8 L1780.9 1266.3 L1780.9 1268.8 L1780.9 1271.3 L1780.9 1273.8 L1780.9 1276.3 L1780.9 1278.8 L1780.9 1281.3 L1780.9 1283.8 L1780.9 1286.3 L1780.9 1288.8 L1780.9 1291.3 L1780.9 1293.8 L1781 1296.3 L1781 1298.8 L1781 1300 L1781 1301.3 L1781 1303.8 L1781 1306.3 L1781 1308.8 L1781 1311.3 L1781 1313.8 L1781 1316.3 L1781 1318.8 L1781 1321.3 L1781 1323.8 L1781 1326.3 L1781 1328.9 L1781 1331.4 L1781 1333.9 L1781 1336.4 L1781 1338.9 L1781 1341.4 L1781 1343.9 L1781 1346.4 L1781 1348.9 L1781 1351.4 L1781 1353.9 L1781 1356.4 L1781 1358.9 L1781 1361.4 L1781 1363.9 L1781 1366.4 L1781 1368.9 L1781 1371.4 L1781 1373.9 L1781 1376.4 L1781 1378.9 L1781 1381.4 L1781 1383.9 L1781 1386.4 L1781 1388.9 L1781 1391.5 L1781 1394 L1781 1396.5 L1781 1399 L1781 1401.5 L1781 1404 L1781.1 1406.5 L1781.1 1409 L1781.1 1411.5 L1781.1 1414 L1781.1 1416.5 L1781.1 1419 L1781.1 1421.5 L1781.1 1424 L1781.1 1426.5 L1781.1 1429 L1781.1 1431.5 L1781.1 1434 L1781.1 1436.5 L1781.1 1439 L1781.1 1441.5 L1781.1 1444 L1781.1 1446.5 L1781.1 1449 L1781.1 1451.5 L1781.1 1454 L1781.1 1456.6 L1781.1 1459.1 L1781.1 1461.6 L1781.1 1464.1 L1781.1 1466.6 L1781.1 1469.1 L1781.1 1471.6 L1781.1 1474.1 L1781.1 1476.6 L1781.1 1479.1 L1781.1 1481.6 L1781.1 1484.1 L1781.2 1486.6 L1797.6 1486.6 L1797.6 1484.1 L1797.6 1481.6 L1797.6 1479.1 L1797.6 1476.6 L1797.6 1474.1 L1797.6 1471.6 L1797.6 1469.1 L1797.6 1466.6 L1797.6 1464.1 L1797.6 1461.6 L1797.6 1459.1 L1797.6 1456.6 L1797.6 1454 L1797.6 1451.5 L1797.6 1449 L1797.6 1446.5 L1797.6 1444 L1797.6 1441.5 L1797.6 1439 L1797.6 1436.5 L1797.6 1434 L1797.6 1431.5 L1797.6 1429 L1797.6 1426.5 L1797.6 1424 L1797.6 1421.5 L1797.6 1419 L1797.6 1416.5 L1797.6 1414 L1797.6 1411.5 L1797.7 1409 L1797.7 1406.5 L1797.7 1404 L1797.7 1401.5 L1797.7 1399 L1797.7 1396.5 L1797.7 1394 L1797.7 1391.5 L1797.7 1388.9 L1797.7 1386.4 L1797.7 1383.9 L1797.7 1381.4 L1797.7 1378.9 L1797.7 1376.4 L1797.7 1373.9 L1797.7 1371.4 L1797.7 1368.9 L1797.7 1366.4 L1797.7 1363.9 L1797.7 1361.4 L1797.7 1358.9 L1797.7 1356.4 L1797.7 1353.9 L1797.7 1351.4 L1797.7 1348.9 L1797.7 1346.4 L1797.7 1343.9 L1797.7 1341.4 L1797.7 1338.9 L1797.7 1336.4 L1797.7 1333.9 L1797.7 1331.4 L1797.7 1328.9 L1797.7 1326.3 L1797.7 1323.8 L1797.7 1321.3 L1797.7 1318.8 L1797.7 1316.3 L1797.7 1313.8 L1797.7 1311.3 L1797.7 1308.8 L1797.7 1306.3 L1797.8 1303.8 L1797.8 1301.3 L1797.8 1300 L1797.8 1298.8 L1797.8 1296.3 L1797.8 1293.8 L1797.8 1291.3 L1797.8 1288.8 L1797.8 1286.3 L1797.8 1283.8 L1797.8 1281.3 L1797.8 1278.8 L1797.8 1276.3 L1797.8 1273.8 L1797.8 1271.3 L1797.8 1268.8 L1797.8 1266.3 L1797.8 1263.8 L1797.8 1261.2 L1797.8 1258.7 L1797.8 1256.2 L1797.8 1253.7 L1797.8 1251.2 L1797.8 1248.7 L1797.8 1246.2 L1797.8 1243.7 L1797.8 1241.2 L1797.8 1238.7 L1797.8 1236.2 L1797.8 1233.7 L1797.8 1231.2 L1797.8 1228.7 L1797.8 1226.2 L1797.8 1223.7 L1797.8 1221.2 L1797.8 1218.7 L1797.8 1216.2 L1797.8 1213.7 L1797.8 1211.2 L1797.8 1208.7 L1797.8 1206.2 L1797.8 1203.7 L1797.8 1201.2 L1797.8 1198.7 L1797.8 1196.1 L1797.8 1193.6 L1797.8 1191.1 L1797.8 1188.6 L1797.8 1186.1 L1797.8 1183.6 L1797.8 1181.1 L1797.8 1178.6 L1797.8 1176.1 L1797.8 1173.6 L1797.8 1171.1 L1797.8 1168.6 L1797.8 1166.1 L1797.8 1163.6 L1797.8 1161.1 L1797.8 1158.6 L1797.8 1156.1 L1797.8 1153.6 L1797.8 1151.1 L1797.8 1148.6 L1797.8 1146.1 L1797.8 1143.6 L1797.8 1141.1 L1797.8 1138.6 L1797.8 1136.1 L1797.8 1133.5 L1797.8 1131 L1797.9 1128.5 L1797.9 1126 L1797.9 1123.5 L1797.9 1121 L1797.9 1118.5 L1797.9 1116 L1797.9 1113.5 L1797.9 1111 L1797.9 1108.5 L1797.9 1106 L1797.9 1103.5 L1797.9 1102 L1797.9 1101 L1797.8 1098.5 L1797.8 1096 L1797.7 1093.5 L1797.6 1091 L1797.6 1088.5 L1797.4 1086 L1797.3 1083.5 L1797.2 1081 L1797.1 1078.5 L1796.9 1076 L1796.8 1073.5 L1796.8 1072.5 L1796.7 1071 L1796.5 1068.4 L1796.3 1065.9 L1796 1063.4 L1795.8 1060.9 L1795.5 1058.4 L1795.2 1055.9 L1794.9 1053.4 L1794.6 1050.9 L1794.3 1048.4 L1794 1045.9 L1793.8 1043.4 L1793.8 1042.9 L1793.6 1040.9 L1793.3 1038.4 L1793 1035.9 L1792.7 1033.4 L1792.5 1030.9 L1792.2 1028.4 L1792 1025.9 L1791.9 1023.4 L1791.9 1020.9 L1791.9 1020.7 L1791.9 1018.4 L1792 1015.9 L1792.1 1013.4 L1792.3 1010.9 L1792.5 1008.4 L1792.7 1005.8 L1793 1003.3 L1793.2 1000.8 L1793.5 998.5 L1793.5 998.3 L1793.7 995.8 L1794 993.3 L1794.3 990.8 L1794.6 988.3 L1794.9 985.8 L1795.2 983.3 L1795.6 980.8 L1795.9 978.3 L1796.2 975.8 L1796.6 973.3 L1796.9 970.8 L1797.2 968.8 L1797.2 968.3 L1797.5 965.8 L1797.9 963.3 L1798.2 960.8 L1798.6 958.3 L1799 955.8 L1799.3 953.3 L1799.6 950.8 L1800 948.3 L1800.3 945.8 L1800.5 943.3 L1800.7 940.7 L1800.9 939.2 L1800.9 938.2 L1801.1 935.7 L1801.3 933.2 L1801.4 930.7 L1801.6 928.2 L1801.7 925.7 L1801.9 923.2 L1802 920.7 L1802.1 918.2 L1802.1 915.7 L1802.2 913.2 L1802.3 910.7 Z" fill="#4c7eab" stroke="#4a4a4a" stroke-width="1.8" stroke-linejoin="round"/>
<line x1="1789.4" y1="910.7" x2="1789.4" y2="1486.6" stroke="#484848" stroke-width="1.6"/><line x1="1789.4" y1="919.5" x2="1789.4" y2="1101.1" stroke="#484848" stroke-width="6" stroke-linecap="round"/></g>
<line x1="158.3" y1="1280.7" x2="1809.1" y2="1280.7" stroke="#000" stroke-width="3.75" stroke-dasharray="13.59 5.87"/>
<rect x="158.3" y="884" width="1652.8" height="661.2" fill="none" stroke="#000" stroke-width="3.06"/>
<g><circle cx="180.1" cy="1442.8" r="1.15" fill="#fff"/><circle cx="223.6" cy="1427.8" r="1.15" fill="#fff"/><circle cx="267.1" cy="1373" r="1.15" fill="#fff"/><circle cx="310.6" cy="1344.2" r="1.15" fill="#fff"/><circle cx="354.1" cy="1329" r="1.15" fill="#fff"/><circle cx="397.6" cy="1319.5" r="1.15" fill="#fff"/><circle cx="441.1" cy="1313.2" r="1.15" fill="#fff"/><circle cx="484.6" cy="1291.5" r="1.15" fill="#fff"/><circle cx="528" cy="1287.5" r="1.15" fill="#fff"/><circle cx="571.5" cy="1281.2" r="1.15" fill="#fff"/><circle cx="615" cy="1272.5" r="1.15" fill="#fff"/><circle cx="658.5" cy="1215.2" r="1.15" fill="#fff"/><circle cx="702" cy="1196.2" r="1.15" fill="#fff"/><circle cx="745.5" cy="1171.8" r="1.15" fill="#fff"/><circle cx="789" cy="1170.5" r="1.15" fill="#fff"/><circle cx="832.5" cy="1165.8" r="1.15" fill="#fff"/><circle cx="876" cy="1153" r="1.15" fill="#fff"/><circle cx="919.5" cy="1134.2" r="1.15" fill="#fff"/><circle cx="963" cy="1116.8" r="1.15" fill="#fff"/><circle cx="1006.5" cy="1103.2" r="1.15" fill="#fff"/><circle cx="1050" cy="1103.2" r="1.15" fill="#fff"/><circle cx="1093.5" cy="1101" r="1.15" fill="#fff"/><circle cx="1137" cy="1100.5" r="1.15" fill="#fff"/><circle cx="1180.4" cy="1100.2" r="1.15" fill="#fff"/><circle cx="1223.9" cy="1096.8" r="1.15" fill="#fff"/><circle cx="1267.4" cy="1091.2" r="1.15" fill="#fff"/><circle cx="1310.9" cy="1082" r="1.15" fill="#fff"/><circle cx="1354.4" cy="1068.8" r="1.15" fill="#fff"/><circle cx="1397.9" cy="1061.5" r="1.15" fill="#fff"/><circle cx="1441.4" cy="1060.5" r="1.15" fill="#fff"/><circle cx="1484.9" cy="1059" r="1.15" fill="#fff"/><circle cx="1528.4" cy="1058.8" r="1.15" fill="#fff"/><circle cx="1571.9" cy="1057" r="1.15" fill="#fff"/><circle cx="1615.4" cy="1040.2" r="1.15" fill="#fff"/><circle cx="1658.9" cy="1030.5" r="1.15" fill="#fff"/><circle cx="1702.4" cy="998.8" r="1.15" fill="#fff"/><circle cx="1745.9" cy="969.6" r="1.15" fill="#fff"/><circle cx="1789.4" cy="935.5" r="1.15" fill="#fff"/></g>
<line x1="143.3" y1="1545.2" x2="158.3" y2="1545.2" stroke="#1a1a1a" stroke-width="3.06"/><text class="t" x="133.3" y="1556.6" text-anchor="end">0</text>
<line x1="143.3" y1="1457" x2="158.3" y2="1457" stroke="#1a1a1a" stroke-width="3.06"/><text class="t" x="133.3" y="1468.4" text-anchor="end">2</text>
<line x1="143.3" y1="1368.8" x2="158.3" y2="1368.8" stroke="#1a1a1a" stroke-width="3.06"/><text class="t" x="133.3" y="1380.2" text-anchor="end">4</text>
<line x1="143.3" y1="1280.7" x2="158.3" y2="1280.7" stroke="#1a1a1a" stroke-width="3.06"/><text class="t" x="133.3" y="1292.1" text-anchor="end">6</text>
<line x1="143.3" y1="1192.5" x2="158.3" y2="1192.5" stroke="#1a1a1a" stroke-width="3.06"/><text class="t" x="133.3" y="1203.9" text-anchor="end">8</text>
<line x1="143.3" y1="1104.3" x2="158.3" y2="1104.3" stroke="#1a1a1a" stroke-width="3.06"/><text class="t" x="133.3" y="1115.7" text-anchor="end">10</text>
<line x1="143.3" y1="1030.9" x2="158.3" y2="1030.9" stroke="#1a1a1a" stroke-width="3.06"/><text class="t" x="133.3" y="1042.3" text-anchor="end">40</text>
<line x1="143.3" y1="957.4" x2="158.3" y2="957.4" stroke="#1a1a1a" stroke-width="3.06"/><text class="t" x="133.3" y="968.8" text-anchor="end">70</text>
<line x1="143.3" y1="884" x2="158.3" y2="884" stroke="#1a1a1a" stroke-width="3.06"/><text class="t" x="133.3" y="895.4" text-anchor="end">100</text>
<line x1="180.1" y1="1545.2" x2="180.1" y2="1560.2" stroke="#000" stroke-width="3.06"/><text class="m" transform="translate(180.1 1566.2) rotate(-45)" text-anchor="end" x="0" y="13">47 (N=10)</text>
<line x1="223.6" y1="1545.2" x2="223.6" y2="1560.2" stroke="#000" stroke-width="3.06"/><text class="m" transform="translate(223.6 1566.2) rotate(-45)" text-anchor="end" x="0" y="13">48 (N=25)</text>
<line x1="267.1" y1="1545.2" x2="267.1" y2="1560.2" stroke="#000" stroke-width="3.06"/><text class="m" transform="translate(267.1 1566.2) rotate(-45)" text-anchor="end" x="0" y="13">49 (N=20)</text>
<line x1="310.6" y1="1545.2" x2="310.6" y2="1560.2" stroke="#000" stroke-width="3.06"/><text class="m" transform="translate(310.6 1566.2) rotate(-45)" text-anchor="end" x="0" y="13">50 (N=15)</text>
<line x1="354.1" y1="1545.2" x2="354.1" y2="1560.2" stroke="#000" stroke-width="3.06"/><text class="m" transform="translate(354.1 1566.2) rotate(-45)" text-anchor="end" x="0" y="13">51 (N= 5)</text>
<line x1="397.6" y1="1545.2" x2="397.6" y2="1560.2" stroke="#000" stroke-width="3.06"/><text class="m" transform="translate(397.6 1566.2) rotate(-45)" text-anchor="end" x="0" y="13">52 (N= 5)</text>
<line x1="441.1" y1="1545.2" x2="441.1" y2="1560.2" stroke="#000" stroke-width="3.06"/><text class="m" transform="translate(441.1 1566.2) rotate(-45)" text-anchor="end" x="0" y="13">53 (N= 5)</text>
<line x1="484.6" y1="1545.2" x2="484.6" y2="1560.2" stroke="#000" stroke-width="3.06"/><text class="m" transform="translate(484.6 1566.2) rotate(-45)" text-anchor="end" x="0" y="13">54 (N= 8)</text>
<line x1="528" y1="1545.2" x2="528" y2="1560.2" stroke="#000" stroke-width="3.06"/><text class="m" transform="translate(528 1566.2) rotate(-45)" text-anchor="end" x="0" y="13">55 (N= 5)</text>
<line x1="571.5" y1="1545.2" x2="571.5" y2="1560.2" stroke="#000" stroke-width="3.06"/><text class="m" transform="translate(571.5 1566.2) rotate(-45)" text-anchor="end" x="0" y="13">56 (N= 5)</text>
<line x1="615" y1="1545.2" x2="615" y2="1560.2" stroke="#000" stroke-width="3.06"/><text class="m" transform="translate(615 1566.2) rotate(-45)" text-anchor="end" x="0" y="13">57 (N= 5)</text>
<line x1="658.5" y1="1545.2" x2="658.5" y2="1560.2" stroke="#000" stroke-width="3.06"/><text class="m" transform="translate(658.5 1566.2) rotate(-45)" text-anchor="end" x="0" y="13">58 (N= 7)</text>
<line x1="702" y1="1545.2" x2="702" y2="1560.2" stroke="#000" stroke-width="3.06"/><text class="m" transform="translate(702 1566.2) rotate(-45)" text-anchor="end" x="0" y="13">59 (N= 5)</text>
<line x1="745.5" y1="1545.2" x2="745.5" y2="1560.2" stroke="#000" stroke-width="3.06"/><text class="m" transform="translate(745.5 1566.2) rotate(-45)" text-anchor="end" x="0" y="13">60 (N= 5)</text>
<line x1="789" y1="1545.2" x2="789" y2="1560.2" stroke="#000" stroke-width="3.06"/><text class="m" transform="translate(789 1566.2) rotate(-45)" text-anchor="end" x="0" y="13">61 (N= 5)</text>
<line x1="832.5" y1="1545.2" x2="832.5" y2="1560.2" stroke="#000" stroke-width="3.06"/><text class="m" transform="translate(832.5 1566.2) rotate(-45)" text-anchor="end" x="0" y="13">62 (N=50)</text>
<line x1="876" y1="1545.2" x2="876" y2="1560.2" stroke="#000" stroke-width="3.06"/><text class="m" transform="translate(876 1566.2) rotate(-45)" text-anchor="end" x="0" y="13">63 (N= 6)</text>
<line x1="919.5" y1="1545.2" x2="919.5" y2="1560.2" stroke="#000" stroke-width="3.06"/><text class="m" transform="translate(919.5 1566.2) rotate(-45)" text-anchor="end" x="0" y="13">64 (N= 5)</text>
<line x1="963" y1="1545.2" x2="963" y2="1560.2" stroke="#000" stroke-width="3.06"/><text class="m" transform="translate(963 1566.2) rotate(-45)" text-anchor="end" x="0" y="13">65 (N= 5)</text>
<line x1="1006.5" y1="1545.2" x2="1006.5" y2="1560.2" stroke="#000" stroke-width="3.06"/><text class="m" transform="translate(1006.5 1566.2) rotate(-45)" text-anchor="end" x="0" y="13">66 (N= 5)</text>
<line x1="1050" y1="1545.2" x2="1050" y2="1560.2" stroke="#000" stroke-width="3.06"/><text class="m" transform="translate(1050 1566.2) rotate(-45)" text-anchor="end" x="0" y="13">67 (N= 5)</text>
<line x1="1093.5" y1="1545.2" x2="1093.5" y2="1560.2" stroke="#000" stroke-width="3.06"/><text class="m" transform="translate(1093.5 1566.2) rotate(-45)" text-anchor="end" x="0" y="13">68 (N= 5)</text>
<line x1="1137" y1="1545.2" x2="1137" y2="1560.2" stroke="#000" stroke-width="3.06"/><text class="m" transform="translate(1137 1566.2) rotate(-45)" text-anchor="end" x="0" y="13">69 (N=50)</text>
<line x1="1180.4" y1="1545.2" x2="1180.4" y2="1560.2" stroke="#000" stroke-width="3.06"/><text class="m" transform="translate(1180.4 1566.2) rotate(-45)" text-anchor="end" x="0" y="13">70 (N= 5)</text>
<line x1="1223.9" y1="1545.2" x2="1223.9" y2="1560.2" stroke="#000" stroke-width="3.06"/><text class="m" transform="translate(1223.9 1566.2) rotate(-45)" text-anchor="end" x="0" y="13">71 (N= 5)</text>
<line x1="1267.4" y1="1545.2" x2="1267.4" y2="1560.2" stroke="#000" stroke-width="3.06"/><text class="m" transform="translate(1267.4 1566.2) rotate(-45)" text-anchor="end" x="0" y="13">72 (N= 5)</text>
<line x1="1310.9" y1="1545.2" x2="1310.9" y2="1560.2" stroke="#000" stroke-width="3.06"/><text class="m" transform="translate(1310.9 1566.2) rotate(-45)" text-anchor="end" x="0" y="13">73 (N= 5)</text>
<line x1="1354.4" y1="1545.2" x2="1354.4" y2="1560.2" stroke="#000" stroke-width="3.06"/><text class="m" transform="translate(1354.4 1566.2) rotate(-45)" text-anchor="end" x="0" y="13">74 (N= 5)</text>
<line x1="1397.9" y1="1545.2" x2="1397.9" y2="1560.2" stroke="#000" stroke-width="3.06"/><text class="m" transform="translate(1397.9 1566.2) rotate(-45)" text-anchor="end" x="0" y="13">75 (N= 5)</text>
<line x1="1441.4" y1="1545.2" x2="1441.4" y2="1560.2" stroke="#000" stroke-width="3.06"/><text class="m" transform="translate(1441.4 1566.2) rotate(-45)" text-anchor="end" x="0" y="13">76 (N=20)</text>
<line x1="1484.9" y1="1545.2" x2="1484.9" y2="1560.2" stroke="#000" stroke-width="3.06"/><text class="m" transform="translate(1484.9 1566.2) rotate(-45)" text-anchor="end" x="0" y="13">77 (N=14)</text>
<line x1="1528.4" y1="1545.2" x2="1528.4" y2="1560.2" stroke="#000" stroke-width="3.06"/><text class="m" transform="translate(1528.4 1566.2) rotate(-45)" text-anchor="end" x="0" y="13">78 (N= 5)</text>
<line x1="1571.9" y1="1545.2" x2="1571.9" y2="1560.2" stroke="#000" stroke-width="3.06"/><text class="m" transform="translate(1571.9 1566.2) rotate(-45)" text-anchor="end" x="0" y="13">79 (N= 5)</text>
<line x1="1615.4" y1="1545.2" x2="1615.4" y2="1560.2" stroke="#000" stroke-width="3.06"/><text class="m" transform="translate(1615.4 1566.2) rotate(-45)" text-anchor="end" x="0" y="13">80 (N= 5)</text>
<line x1="1658.9" y1="1545.2" x2="1658.9" y2="1560.2" stroke="#000" stroke-width="3.06"/><text class="m" transform="translate(1658.9 1566.2) rotate(-45)" text-anchor="end" x="0" y="13">81 (N=10)</text>
<line x1="1702.4" y1="1545.2" x2="1702.4" y2="1560.2" stroke="#000" stroke-width="3.06"/><text class="m" transform="translate(1702.4 1566.2) rotate(-45)" text-anchor="end" x="0" y="13">82 (N= 5)</text>
<line x1="1745.9" y1="1545.2" x2="1745.9" y2="1560.2" stroke="#000" stroke-width="3.06"/><text class="m" transform="translate(1745.9 1566.2) rotate(-45)" text-anchor="end" x="0" y="13">83 (N= 6)</text>
<line x1="1789.4" y1="1545.2" x2="1789.4" y2="1560.2" stroke="#000" stroke-width="3.06"/><text class="m" transform="translate(1789.4 1566.2) rotate(-45)" text-anchor="end" x="0" y="13">84 (N=30)</text>
<text class="l" x="984.7" y="1697" text-anchor="middle">Mask Batch</text>
<text class="yl" transform="translate(72 1214.6) rotate(-90)" text-anchor="middle">Passage (%)</text>
<text class="ti" x="984.7" y="939.9" text-anchor="middle">KN95</text>
<text class="pl" transform="translate(-0.7 913) scale(1.03 1)">b</text><text style="font-size:53.8px" transform="translate(28.7 915) scale(1.283 1)">)</text>
</g>
<g id="panel-c">
<clipPath id="cp-c"><rect x="158.3" y="1752.8" width="697.5" height="661"/></clipPath>
<rect x="158.3" y="1752.8" width="697.5" height="220.1" fill="#eeeeee"/>
<line x1="158.3" y1="2325.6" x2="853.9" y2="2325.6" stroke="#d0d0d0" stroke-width="3.06" stroke-dasharray="3.06 5.049"/>
<line x1="158.3" y1="2237.4" x2="853.9" y2="2237.4" stroke="#d0d0d0" stroke-width="3.06" stroke-dasharray="3.06 5.049"/>
<line x1="158.3" y1="2061.1" x2="853.9" y2="2061.1" stroke="#d0d0d0" stroke-width="3.06" stroke-dasharray="3.06 5.049"/>
<line x1="158.3" y1="1899.5" x2="853.9" y2="1899.5" stroke="#d0d0d0" stroke-width="3.06" stroke-dasharray="3.06 5.049"/>
<line x1="158.3" y1="1826.2" x2="853.9" y2="1826.2" stroke="#d0d0d0" stroke-width="3.06" stroke-dasharray="3.06 5.049"/>
<line x1="158.3" y1="1972" x2="853.9" y2="1972" stroke="#dedede" stroke-width="1.8" stroke-dasharray="3.06 5.049"/>
<g clip-path="url(#cp-c)">
<path d="M196.9 2280 L196.9 2282.5 L196.9 2285 L196.9 2287.6 L196.9 2290.1 L196.9 2292.6 L196.9 2295 L196.9 2295.1 L197 2297.6 L197.3 2300.1 L197.7 2302.7 L198.2 2305.2 L198.7 2307.7 L199.2 2310.2 L199.7 2312.7 L200.1 2315.2 L200.3 2317.8 L200.4 2320 L200.4 2320.3 L200.4 2322.8 L200.4 2325.3 L200.3 2327.8 L200.3 2330.3 L200.2 2332.8 L200.2 2335.4 L200.2 2337.5 L200.2 2337.9 L200.2 2340.4 L200.2 2342.9 L200.2 2345.4 L200.2 2347.9 L200.2 2350.5 L200.2 2353 L200.2 2355.5 L216.2 2355.5 L216.2 2353 L216.2 2350.5 L216.2 2347.9 L216.2 2345.4 L216.2 2342.9 L216.2 2340.4 L216.2 2337.9 L216.2 2337.5 L216.2 2335.4 L216.1 2332.8 L216.1 2330.3 L216 2327.8 L216 2325.3 L215.9 2322.8 L215.9 2320.3 L215.9 2320 L216 2317.8 L216.3 2315.2 L216.6 2312.7 L217.1 2310.2 L217.6 2307.7 L218.2 2305.2 L218.6 2302.7 L219 2300.1 L219.3 2297.6 L219.4 2295.1 L219.4 2295 L219.4 2292.6 L219.4 2290.1 L219.4 2287.6 L219.4 2285 L219.4 2282.5 L219.4 2280 Z" fill="#4c7eab" stroke="#4a4a4a" stroke-width="1.8" stroke-linejoin="round"/>
<line x1="208.2" y1="2280" x2="208.2" y2="2355.5" stroke="#484848" stroke-width="1.6"/><line x1="208.2" y1="2288.8" x2="208.2" y2="2351.2" stroke="#484848" stroke-width="6" stroke-linecap="round"/><path d="M303.3 2182 L303.2 2184.5 L303.2 2187 L303.1 2189.6 L303 2192.1 L302.9 2194.6 L302.8 2197.1 L302.7 2199.6 L302.6 2202.2 L302.4 2204.7 L302.3 2207.2 L302.2 2209.7 L302.1 2212.2 L301.9 2214.8 L301.8 2217.3 L301.6 2219.8 L301.5 2222.3 L301.3 2224.9 L301.3 2225 L301.2 2227.4 L301 2229.9 L300.8 2232.4 L300.5 2234.9 L300.3 2237.5 L300.1 2240 L299.8 2242.5 L299.6 2245 L299.3 2247.5 L299.1 2250.1 L298.8 2252.6 L298.6 2255.1 L298.4 2257.6 L298.2 2260.1 L298.1 2262.5 L298.1 2262.7 L297.9 2265.2 L297.7 2267.7 L297.6 2270.2 L297.4 2272.8 L297.3 2275.3 L297.2 2277.8 L297 2280.3 L296.9 2282.8 L296.8 2285.4 L296.8 2287.9 L296.7 2290.4 L296.7 2292.5 L296.7 2292.9 L296.7 2295.4 L296.8 2298 L296.9 2300.5 L297 2303 L297.2 2305.5 L297.3 2308 L297.4 2310.6 L297.6 2312.5 L297.6 2313.1 L297.8 2315.6 L298 2318.1 L298.2 2320.6 L298.4 2323.2 L298.7 2325.7 L299 2328.2 L299.3 2330.7 L299.6 2333.2 L316.1 2333.2 L316.4 2330.7 L316.7 2328.2 L316.9 2325.7 L317.2 2323.2 L317.4 2320.6 L317.7 2318.1 L317.9 2315.6 L318 2313.1 L318.1 2312.5 L318.2 2310.6 L318.3 2308 L318.5 2305.5 L318.6 2303 L318.7 2300.5 L318.8 2298 L318.9 2295.4 L318.9 2292.9 L318.9 2292.5 L318.9 2290.4 L318.9 2287.9 L318.8 2285.4 L318.7 2282.8 L318.6 2280.3 L318.5 2277.8 L318.3 2275.3 L318.2 2272.8 L318 2270.2 L317.9 2267.7 L317.7 2265.2 L317.6 2262.7 L317.6 2262.5 L317.4 2260.1 L317.2 2257.6 L317 2255.1 L316.8 2252.6 L316.6 2250.1 L316.3 2247.5 L316.1 2245 L315.8 2242.5 L315.6 2240 L315.3 2237.5 L315.1 2234.9 L314.9 2232.4 L314.7 2229.9 L314.5 2227.4 L314.3 2225 L314.3 2224.9 L314.2 2222.3 L314 2219.8 L313.9 2217.3 L313.7 2214.8 L313.6 2212.2 L313.4 2209.7 L313.3 2207.2 L313.2 2204.7 L313.1 2202.2 L312.9 2199.6 L312.8 2197.1 L312.7 2194.6 L312.6 2192.1 L312.5 2189.6 L312.5 2187 L312.4 2184.5 L312.3 2182 Z" fill="#4c7eab" stroke="#4a4a4a" stroke-width="1.8" stroke-linejoin="round"/>
<line x1="307.8" y1="2182" x2="307.8" y2="2333.2" stroke="#484848" stroke-width="1.6"/><line x1="307.8" y1="2256.2" x2="307.8" y2="2298.8" stroke="#484848" stroke-width="6" stroke-linecap="round"/><path d="M403.7 2136.2 L403.6 2138.8 L403.4 2141.3 L403.3 2143.8 L403.1 2146.4 L402.9 2148.9 L402.8 2151.4 L402.6 2154 L402.4 2156.5 L402.2 2159 L402 2161.6 L401.8 2164.1 L401.6 2166.6 L401.4 2169.1 L401.2 2171.7 L401 2174.2 L401 2175 L400.8 2176.7 L400.6 2179.3 L400.3 2181.8 L400 2184.3 L399.8 2186.9 L399.5 2189.4 L399.2 2191.9 L398.9 2194.4 L398.6 2197 L398.3 2199.5 L398 2202 L397.8 2204.6 L397.6 2207.1 L397.4 2209.6 L397.2 2212.2 L397.2 2212.5 L397.1 2214.7 L396.9 2217.2 L396.8 2219.8 L396.7 2222.3 L396.5 2224.8 L396.4 2227.3 L396.3 2229.9 L396.3 2232.4 L396.2 2234.9 L396.2 2237.5 L396.2 2237.5 L396.2 2240 L396.2 2242.5 L396.3 2245.1 L396.4 2247.6 L396.4 2250.1 L396.5 2252.6 L396.6 2255.2 L396.7 2257.7 L396.9 2260.2 L397 2262.5 L397 2262.8 L397.1 2265.3 L397.3 2267.8 L397.5 2270.4 L397.8 2272.9 L398.1 2275.4 L398.4 2277.9 L398.7 2280.5 L399 2283 L399.2 2285.5 L399.5 2287.5 L399.5 2288.1 L399.8 2290.6 L400.1 2293.1 L400.3 2295.7 L400.6 2298.2 L400.9 2300.7 L401.2 2303.2 L413.7 2303.2 L414 2300.7 L414.3 2298.2 L414.6 2295.7 L414.8 2293.1 L415.1 2290.6 L415.4 2288.1 L415.5 2287.5 L415.7 2285.5 L416 2283 L416.3 2280.5 L416.6 2277.9 L416.8 2275.4 L417.1 2272.9 L417.4 2270.4 L417.6 2267.8 L417.8 2265.3 L417.9 2262.8 L418 2262.5 L418.1 2260.2 L418.2 2257.7 L418.3 2255.2 L418.4 2252.6 L418.5 2250.1 L418.6 2247.6 L418.6 2245.1 L418.7 2242.5 L418.7 2240 L418.7 2237.5 L418.7 2237.5 L418.7 2234.9 L418.6 2232.4 L418.6 2229.9 L418.5 2227.3 L418.4 2224.8 L418.2 2222.3 L418.1 2219.8 L418 2217.2 L417.8 2214.7 L417.7 2212.5 L417.7 2212.2 L417.5 2209.6 L417.3 2207.1 L417.1 2204.6 L416.9 2202 L416.6 2199.5 L416.3 2197 L416 2194.4 L415.7 2191.9 L415.5 2189.4 L415.2 2186.9 L414.9 2184.3 L414.6 2181.8 L414.3 2179.3 L414.1 2176.7 L414 2175 L413.9 2174.2 L413.7 2171.7 L413.5 2169.1 L413.3 2166.6 L413.1 2164.1 L412.9 2161.6 L412.7 2159 L412.5 2156.5 L412.3 2154 L412.2 2151.4 L412 2148.9 L411.8 2146.4 L411.7 2143.8 L411.5 2141.3 L411.4 2138.8 L411.2 2136.2 Z" fill="#4c7eab" stroke="#4a4a4a" stroke-width="1.8" stroke-linejoin="round"/>
<line x1="407.5" y1="2136.2" x2="407.5" y2="2303.2" stroke="#484848" stroke-width="1.6"/><line x1="407.5" y1="2203.8" x2="407.5" y2="2264.5" stroke="#484848" stroke-width="6" stroke-linecap="round"/><path d="M503.6 1960.8 L503.4 1963.3 L503.1 1965.8 L502.9 1968.3 L502.7 1970.8 L502.6 1972.5 L502.6 1973.3 L502.4 1975.8 L502.3 1978.3 L502.2 1980.8 L502.1 1983.4 L502 1985.9 L502 1988.4 L501.9 1990.9 L501.8 1993.4 L501.7 1995.9 L501.6 1998.4 L501.6 2000.9 L501.5 2003.5 L501.4 2006 L501.4 2008.5 L501.3 2011 L501.3 2013.5 L501.2 2016 L501.2 2018.5 L501.1 2021 L501.1 2023.6 L501 2026.1 L501 2028.6 L500.9 2031.1 L500.8 2033.6 L500.8 2036.1 L500.7 2038.6 L500.7 2041.1 L500.6 2043.7 L500.6 2046.2 L500.5 2048.7 L500.5 2051.2 L500.4 2053.7 L500.3 2056.2 L500.3 2058.7 L500.2 2061.2 L500.2 2061.2 L500.1 2063.8 L500.1 2066.3 L500 2068.8 L499.9 2071.3 L499.8 2073.8 L499.7 2076.3 L499.7 2078.8 L499.6 2081.3 L499.5 2083.8 L499.4 2086.4 L499.3 2088.9 L499.2 2091.4 L499.2 2093.9 L499.1 2096.4 L499 2098.9 L498.9 2101.4 L498.8 2103.9 L498.7 2106.5 L498.7 2109 L498.6 2111.5 L498.5 2114 L498.4 2116.5 L498.3 2119 L498.2 2121.5 L498.2 2124 L498.1 2126.6 L498 2129.1 L497.9 2131.6 L497.9 2134.1 L497.8 2136.6 L497.7 2139.1 L497.7 2141.6 L497.6 2144.1 L497.6 2146.7 L497.5 2149.2 L497.5 2149.2 L497.4 2151.7 L497.4 2154.2 L497.3 2156.7 L497.3 2159.2 L497.2 2161.7 L497.2 2164.2 L497.1 2166.8 L497.1 2169.3 L497 2171.8 L497 2174.3 L496.9 2176.8 L496.9 2179.3 L496.8 2181.8 L496.8 2184.3 L496.7 2186.9 L496.7 2189.4 L496.6 2191.9 L496.6 2194.4 L496.5 2196.9 L496.5 2199.4 L496.5 2201.9 L496.4 2204.4 L496.4 2206.9 L496.3 2209.5 L496.3 2212 L496.3 2214.5 L496.3 2217 L496.2 2219.5 L496.2 2222 L496.2 2224.5 L496.2 2225 L496.2 2227 L496.2 2229.6 L496.2 2232.1 L496.1 2234.6 L496.1 2237.1 L496.1 2239.6 L496.1 2242.1 L496.1 2244.6 L496.1 2247.1 L496.1 2249.7 L496.1 2252.2 L496 2254.7 L496 2257.2 L496 2259.7 L496 2262.2 L496 2264.7 L496 2267.2 L496 2269.8 L496 2272.3 L496 2274.8 L496 2275 L496 2277.3 L496 2279.8 L496 2282.3 L496.1 2284.8 L496.1 2287.3 L496.2 2289.9 L496.2 2292.4 L496.3 2294.9 L496.3 2297.4 L496.4 2299.9 L496.5 2302.4 L496.6 2304.9 L496.6 2307.4 L496.7 2310 L496.8 2312.5 L496.9 2315 L497 2317.5 L497.1 2320 L517.1 2320 L517.2 2317.5 L517.3 2315 L517.4 2312.5 L517.5 2310 L517.6 2307.4 L517.6 2304.9 L517.7 2302.4 L517.8 2299.9 L517.9 2297.4 L517.9 2294.9 L518 2292.4 L518 2289.9 L518.1 2287.3 L518.1 2284.8 L518.2 2282.3 L518.2 2279.8 L518.2 2277.3 L518.2 2275 L518.2 2274.8 L518.2 2272.3 L518.2 2269.8 L518.2 2267.2 L518.2 2264.7 L518.2 2262.2 L518.2 2259.7 L518.2 2257.2 L518.2 2254.7 L518.1 2252.2 L518.1 2249.7 L518.1 2247.1 L518.1 2244.6 L518.1 2242.1 L518.1 2239.6 L518.1 2237.1 L518.1 2234.6 L518 2232.1 L518 2229.6 L518 2227 L518 2225 L518 2224.5 L518 2222 L518 2219.5 L517.9 2217 L517.9 2214.5 L517.9 2212 L517.9 2209.5 L517.8 2206.9 L517.8 2204.4 L517.7 2201.9 L517.7 2199.4 L517.7 2196.9 L517.6 2194.4 L517.6 2191.9 L517.5 2189.4 L517.5 2186.9 L517.4 2184.3 L517.4 2181.8 L517.3 2179.3 L517.3 2176.8 L517.2 2174.3 L517.2 2171.8 L517.1 2169.3 L517.1 2166.8 L517 2164.2 L517 2161.7 L516.9 2159.2 L516.9 2156.7 L516.8 2154.2 L516.8 2151.7 L516.7 2149.2 L516.7 2149.2 L516.6 2146.7 L516.6 2144.1 L516.5 2141.6 L516.5 2139.1 L516.4 2136.6 L516.3 2134.1 L516.3 2131.6 L516.2 2129.1 L516.1 2126.6 L516 2124 L516 2121.5 L515.9 2119 L515.8 2116.5 L515.7 2114 L515.6 2111.5 L515.5 2109 L515.5 2106.5 L515.4 2103.9 L515.3 2101.4 L515.2 2098.9 L515.1 2096.4 L515 2093.9 L515 2091.4 L514.9 2088.9 L514.8 2086.4 L514.7 2083.8 L514.6 2081.3 L514.5 2078.8 L514.5 2076.3 L514.4 2073.8 L514.3 2071.3 L514.2 2068.8 L514.1 2066.3 L514.1 2063.8 L514 2061.2 L514 2061.2 L513.9 2058.7 L513.9 2056.2 L513.8 2053.7 L513.7 2051.2 L513.7 2048.7 L513.6 2046.2 L513.6 2043.7 L513.5 2041.1 L513.5 2038.6 L513.4 2036.1 L513.4 2033.6 L513.3 2031.1 L513.2 2028.6 L513.2 2026.1 L513.1 2023.6 L513.1 2021 L513 2018.5 L513 2016 L512.9 2013.5 L512.9 2011 L512.8 2008.5 L512.8 2006 L512.7 2003.5 L512.6 2000.9 L512.6 1998.4 L512.5 1995.9 L512.4 1993.4 L512.3 1990.9 L512.2 1988.4 L512.2 1985.9 L512.1 1983.4 L512 1980.8 L511.9 1978.3 L511.8 1975.8 L511.6 1973.3 L511.6 1972.5 L511.5 1970.8 L511.3 1968.3 L511.1 1965.8 L510.8 1963.3 L510.6 1960.8 Z" fill="#4c7eab" stroke="#4a4a4a" stroke-width="1.8" stroke-linejoin="round"/>
<line x1="507.1" y1="2192.5" x2="507.1" y2="2243.8" stroke="#484848" stroke-width="1.6"/><line x1="507.1" y1="2195" x2="507.1" y2="2241.2" stroke="#484848" stroke-width="6" stroke-linecap="round"/><path d="M603 1967 L603 1969.5 L603 1972 L603 1974.5 L603 1977 L603 1979.5 L602.9 1982 L602.9 1984.5 L602.9 1987 L602.9 1989.5 L602.8 1992 L602.8 1994.5 L602.8 1997 L602.8 1999.6 L602.7 2002.1 L602.7 2004.6 L602.6 2007.1 L602.6 2009.6 L602.6 2012.1 L602.5 2014.6 L602.5 2017.1 L602.4 2019.6 L602.4 2022.1 L602.3 2024.6 L602.3 2027.1 L602.2 2029.6 L602.2 2032.1 L602.1 2034.6 L602.1 2037.1 L602 2039.6 L601.9 2042.1 L601.9 2044.6 L601.8 2047.1 L601.8 2049.6 L601.7 2052.1 L601.7 2054.6 L601.6 2057.1 L601.5 2059.6 L601.5 2061.2 L601.5 2062.1 L601.4 2064.7 L601.3 2067.2 L601.2 2069.7 L601.1 2072.2 L601.1 2074.7 L600.9 2077.2 L600.8 2079.7 L600.7 2082.2 L600.6 2084.7 L600.5 2087.2 L600.3 2089.7 L600.2 2092.2 L600.1 2094.7 L599.9 2097.2 L599.8 2099.7 L599.6 2102.2 L599.5 2104.7 L599.3 2107.2 L599.2 2109.7 L599.1 2112.2 L598.9 2114.7 L598.8 2117.2 L598.6 2119.7 L598.5 2122.2 L598.4 2124.7 L598.2 2127.2 L598.1 2129.8 L598 2132.3 L597.9 2134.8 L597.8 2137.3 L597.7 2139.8 L597.6 2142.3 L597.5 2144.8 L597.4 2147.3 L597.3 2149.2 L597.3 2149.8 L597.3 2152.3 L597.2 2154.8 L597.1 2157.3 L597 2159.8 L597 2162.3 L596.9 2164.8 L596.8 2167.3 L596.8 2169.8 L596.7 2172.3 L596.6 2174.8 L596.6 2177.3 L596.5 2179.8 L596.4 2182.3 L596.4 2184.8 L596.3 2187.3 L596.3 2189.8 L596.2 2192.4 L596.2 2194.9 L596.1 2197.4 L596.1 2199.9 L596 2202.4 L596 2204.9 L596 2207.4 L595.9 2209.9 L595.9 2212.4 L595.9 2214.9 L595.9 2217.4 L595.9 2219.9 L595.8 2222.4 L595.8 2224.9 L595.8 2225 L595.8 2227.4 L595.8 2229.9 L595.8 2232.4 L595.8 2234.9 L595.8 2237.4 L595.8 2239.9 L595.8 2242.4 L595.8 2244.9 L595.8 2247.4 L595.8 2249.9 L595.8 2252.4 L595.8 2254.9 L595.8 2257.5 L595.8 2260 L595.8 2262.5 L595.8 2262.5 L595.9 2265 L595.9 2267.5 L596 2270 L596 2272.5 L596.1 2275 L596.2 2277.5 L596.4 2280 L596.5 2282.5 L596.6 2285 L596.7 2287.5 L616.7 2287.5 L616.9 2285 L617 2282.5 L617.1 2280 L617.2 2277.5 L617.4 2275 L617.4 2272.5 L617.5 2270 L617.6 2267.5 L617.6 2265 L617.6 2262.5 L617.6 2262.5 L617.6 2260 L617.6 2257.5 L617.6 2254.9 L617.6 2252.4 L617.6 2249.9 L617.6 2247.4 L617.6 2244.9 L617.6 2242.4 L617.6 2239.9 L617.6 2237.4 L617.6 2234.9 L617.6 2232.4 L617.6 2229.9 L617.6 2227.4 L617.6 2225 L617.6 2224.9 L617.6 2222.4 L617.6 2219.9 L617.6 2217.4 L617.6 2214.9 L617.6 2212.4 L617.6 2209.9 L617.5 2207.4 L617.5 2204.9 L617.5 2202.4 L617.4 2199.9 L617.4 2197.4 L617.3 2194.9 L617.3 2192.4 L617.2 2189.8 L617.2 2187.3 L617.1 2184.8 L617 2182.3 L617 2179.8 L616.9 2177.3 L616.9 2174.8 L616.8 2172.3 L616.7 2169.8 L616.6 2167.3 L616.6 2164.8 L616.5 2162.3 L616.4 2159.8 L616.4 2157.3 L616.3 2154.8 L616.2 2152.3 L616.2 2149.8 L616.1 2149.2 L616.1 2147.3 L616 2144.8 L615.9 2142.3 L615.8 2139.8 L615.7 2137.3 L615.6 2134.8 L615.5 2132.3 L615.4 2129.8 L615.3 2127.2 L615.1 2124.7 L615 2122.2 L614.9 2119.7 L614.7 2117.2 L614.6 2114.7 L614.4 2112.2 L614.3 2109.7 L614.1 2107.2 L614 2104.7 L613.9 2102.2 L613.7 2099.7 L613.6 2097.2 L613.4 2094.7 L613.3 2092.2 L613.2 2089.7 L613 2087.2 L612.9 2084.7 L612.8 2082.2 L612.7 2079.7 L612.5 2077.2 L612.4 2074.7 L612.3 2072.2 L612.2 2069.7 L612.2 2067.2 L612.1 2064.7 L612 2062.1 L612 2061.2 L612 2059.6 L611.9 2057.1 L611.8 2054.6 L611.8 2052.1 L611.7 2049.6 L611.7 2047.1 L611.6 2044.6 L611.5 2042.1 L611.5 2039.6 L611.4 2037.1 L611.4 2034.6 L611.3 2032.1 L611.3 2029.6 L611.2 2027.1 L611.2 2024.6 L611.1 2022.1 L611.1 2019.6 L611 2017.1 L611 2014.6 L610.9 2012.1 L610.9 2009.6 L610.8 2007.1 L610.8 2004.6 L610.8 2002.1 L610.7 1999.6 L610.7 1997 L610.7 1994.5 L610.6 1992 L610.6 1989.5 L610.6 1987 L610.6 1984.5 L610.5 1982 L610.5 1979.5 L610.5 1977 L610.5 1974.5 L610.5 1972 L610.5 1969.5 L610.5 1967 Z" fill="#4c7eab" stroke="#4a4a4a" stroke-width="1.8" stroke-linejoin="round"/>
<line x1="606.7" y1="2162.5" x2="606.7" y2="2287.5" stroke="#484848" stroke-width="1.6"/><line x1="606.7" y1="2165" x2="606.7" y2="2263.8" stroke="#484848" stroke-width="6" stroke-linecap="round"/><path d="M704.4 1953 L704.4 1955.5 L704.3 1958 L704.2 1960.5 L704.1 1963.1 L703.9 1965.6 L703.9 1966.2 L703.2 1968.1 L701.6 1970.6 L700.9 1972.5 L700.8 1973.1 L700.6 1975.6 L700.4 1978.1 L700.2 1980.7 L700 1983.2 L699.9 1985.7 L699.7 1988.2 L699.6 1990.7 L699.4 1993.2 L699.3 1995.8 L699.2 1998.3 L699.1 2000.8 L699 2003.3 L698.9 2005.8 L698.8 2008.3 L698.7 2010.8 L698.6 2013.4 L698.6 2015.9 L698.5 2018.4 L698.4 2020.9 L698.4 2023.4 L698.3 2025.9 L698.3 2028.4 L698.2 2031 L698.2 2033.5 L698.1 2036 L698.1 2038.5 L698.1 2041 L698 2043.5 L698 2046 L697.9 2048.6 L697.9 2051.1 L697.8 2053.6 L697.8 2056.1 L697.7 2058.6 L697.6 2061.1 L697.6 2061.2 L697.6 2063.7 L697.5 2066.2 L697.4 2068.7 L697.4 2071.2 L697.3 2073.7 L697.2 2076.2 L697.2 2078.7 L697.1 2081.3 L697.1 2083.8 L697 2086.3 L696.9 2088.8 L696.9 2091.3 L696.8 2093.8 L696.7 2096.3 L696.7 2098.9 L696.6 2101.4 L696.6 2103.9 L696.5 2106.4 L696.5 2108.9 L696.4 2111.4 L696.4 2113.9 L696.3 2116.5 L696.3 2119 L696.2 2121.5 L696.2 2124 L696.1 2126.5 L696.1 2129 L696.1 2131.6 L696 2134.1 L696 2136.6 L696 2139.1 L695.9 2141.6 L695.9 2144.1 L695.9 2146.6 L695.9 2149.2 L695.9 2149.2 L695.9 2151.7 L695.9 2154.2 L695.8 2156.7 L695.8 2159.2 L695.8 2161.7 L695.8 2164.2 L695.8 2166.8 L695.8 2169.3 L695.8 2171.8 L695.8 2174.3 L695.7 2176.8 L695.7 2179.3 L695.7 2181.8 L695.7 2184.4 L695.7 2186.9 L695.7 2189.4 L695.7 2191.9 L695.7 2194.4 L695.7 2196.9 L695.7 2199.5 L695.7 2202 L695.7 2204.5 L695.7 2207 L695.6 2209.5 L695.6 2212 L695.6 2214.5 L695.6 2217.1 L695.6 2219.6 L695.6 2222.1 L695.6 2224.6 L695.6 2225 L695.6 2227.1 L695.6 2229.6 L695.7 2232.1 L695.7 2234.7 L695.7 2237.2 L695.7 2239.7 L695.8 2242.2 L695.8 2244.7 L695.9 2247.2 L695.9 2249.7 L696 2252.3 L696.1 2254.8 L696.1 2257.3 L696.2 2259.8 L696.3 2262.3 L696.4 2264.8 L696.4 2267.4 L696.5 2269.9 L696.6 2272.4 L696.7 2274.9 L696.8 2277.4 L696.9 2279.9 L697 2282.4 L697.1 2285 L697.2 2287.5 L697.3 2290 L697.4 2292.5 L715.4 2292.5 L715.5 2290 L715.6 2287.5 L715.7 2285 L715.8 2282.4 L715.9 2279.9 L716 2277.4 L716.1 2274.9 L716.2 2272.4 L716.2 2269.9 L716.3 2267.4 L716.4 2264.8 L716.5 2262.3 L716.6 2259.8 L716.6 2257.3 L716.7 2254.8 L716.8 2252.3 L716.8 2249.7 L716.9 2247.2 L716.9 2244.7 L717 2242.2 L717 2239.7 L717.1 2237.2 L717.1 2234.7 L717.1 2232.1 L717.1 2229.6 L717.1 2227.1 L717.1 2225 L717.1 2224.6 L717.1 2222.1 L717.1 2219.6 L717.1 2217.1 L717.1 2214.5 L717.1 2212 L717.1 2209.5 L717.1 2207 L717.1 2204.5 L717.1 2202 L717.1 2199.5 L717.1 2196.9 L717.1 2194.4 L717.1 2191.9 L717.1 2189.4 L717.1 2186.9 L717.1 2184.4 L717 2181.8 L717 2179.3 L717 2176.8 L717 2174.3 L717 2171.8 L717 2169.3 L717 2166.8 L717 2164.2 L717 2161.7 L716.9 2159.2 L716.9 2156.7 L716.9 2154.2 L716.9 2151.7 L716.9 2149.2 L716.9 2149.2 L716.9 2146.6 L716.9 2144.1 L716.8 2141.6 L716.8 2139.1 L716.8 2136.6 L716.7 2134.1 L716.7 2131.6 L716.7 2129 L716.6 2126.5 L716.6 2124 L716.6 2121.5 L716.5 2119 L716.5 2116.5 L716.4 2113.9 L716.4 2111.4 L716.3 2108.9 L716.3 2106.4 L716.2 2103.9 L716.1 2101.4 L716.1 2098.9 L716 2096.3 L716 2093.8 L715.9 2091.3 L715.8 2088.8 L715.8 2086.3 L715.7 2083.8 L715.7 2081.3 L715.6 2078.7 L715.5 2076.2 L715.5 2073.7 L715.4 2071.2 L715.3 2068.7 L715.3 2066.2 L715.2 2063.7 L715.1 2061.2 L715.1 2061.1 L715.1 2058.6 L715 2056.1 L715 2053.6 L714.9 2051.1 L714.9 2048.6 L714.8 2046 L714.8 2043.5 L714.7 2041 L714.7 2038.5 L714.6 2036 L714.6 2033.5 L714.5 2031 L714.5 2028.4 L714.4 2025.9 L714.4 2023.4 L714.3 2020.9 L714.3 2018.4 L714.2 2015.9 L714.1 2013.4 L714.1 2010.8 L714 2008.3 L713.9 2005.8 L713.8 2003.3 L713.7 2000.8 L713.6 1998.3 L713.5 1995.8 L713.3 1993.2 L713.2 1990.7 L713.1 1988.2 L712.9 1985.7 L712.7 1983.2 L712.6 1980.7 L712.4 1978.1 L712.2 1975.6 L711.9 1973.1 L711.9 1972.5 L711.2 1970.6 L709.5 1968.1 L708.9 1966.2 L708.8 1965.6 L708.7 1963.1 L708.5 1960.5 L708.5 1958 L708.4 1955.5 L708.4 1953 Z" fill="#4c7eab" stroke="#4a4a4a" stroke-width="1.8" stroke-linejoin="round"/>
<line x1="706.4" y1="1966.2" x2="706.4" y2="2292.5" stroke="#484848" stroke-width="1.6"/><line x1="706.4" y1="2066.2" x2="706.4" y2="2235" stroke="#484848" stroke-width="6" stroke-linecap="round"/><path d="M801 1945.8 L799.1 1948.5 L797.5 1951.3 L796.3 1954.1 L796 1955 L795.4 1956.9 L794.8 1959.7 L794.6 1961.2 L794.7 1962.4 L795 1965.2 L795 1965.5 L796.5 1968 L815.5 1968 L817 1965.5 L817.1 1965.2 L817.4 1962.4 L817.4 1961.2 L817.3 1959.7 L816.6 1956.9 L816 1955 L815.7 1954.1 L814.5 1951.3 L812.9 1948.5 L811 1945.8 Z" fill="#4c7eab" stroke="#4a4a4a" stroke-width="1.8" stroke-linejoin="round"/>
<line x1="806" y1="1945.8" x2="806" y2="1968" stroke="#484848" stroke-width="1.6"/><line x1="806" y1="1956.2" x2="806" y2="1964.5" stroke="#484848" stroke-width="6" stroke-linecap="round"/></g>
<line x1="158.3" y1="2149.3" x2="853.9" y2="2149.3" stroke="#000" stroke-width="3.75" stroke-dasharray="13.59 5.87"/>
<rect x="158.3" y="1752.8" width="697.5" height="661" fill="none" stroke="#000" stroke-width="3.06"/>
<g><circle cx="208.2" cy="2289.2" r="1.15" fill="#fff"/><circle cx="307.8" cy="2284.5" r="1.15" fill="#fff"/><circle cx="407.5" cy="2235.2" r="1.15" fill="#fff"/><circle cx="507.1" cy="2215.5" r="1.15" fill="#fff"/><circle cx="606.7" cy="2204.2" r="1.15" fill="#fff"/><circle cx="706.4" cy="2177" r="1.15" fill="#fff"/><circle cx="806" cy="1959.5" r="1.15" fill="#fff"/></g>
<line x1="143.3" y1="2413.8" x2="158.3" y2="2413.8" stroke="#1a1a1a" stroke-width="3.06"/><text class="t" x="133.3" y="2425.2" text-anchor="end">0</text>
<line x1="143.3" y1="2325.6" x2="158.3" y2="2325.6" stroke="#1a1a1a" stroke-width="3.06"/><text class="t" x="133.3" y="2337" text-anchor="end">2</text>
<line x1="143.3" y1="2237.4" x2="158.3" y2="2237.4" stroke="#1a1a1a" stroke-width="3.06"/><text class="t" x="133.3" y="2248.8" text-anchor="end">4</text>
<line x1="143.3" y1="2149.3" x2="158.3" y2="2149.3" stroke="#1a1a1a" stroke-width="3.06"/><text class="t" x="133.3" y="2160.7" text-anchor="end">6</text>
<line x1="143.3" y1="2061.1" x2="158.3" y2="2061.1" stroke="#1a1a1a" stroke-width="3.06"/><text class="t" x="133.3" y="2072.5" text-anchor="end">8</text>
<line x1="143.3" y1="1972.9" x2="158.3" y2="1972.9" stroke="#1a1a1a" stroke-width="3.06"/><text class="t" x="133.3" y="1984.3" text-anchor="end">10</text>
<line x1="143.3" y1="1899.5" x2="158.3" y2="1899.5" stroke="#1a1a1a" stroke-width="3.06"/><text class="t" x="133.3" y="1910.9" text-anchor="end">40</text>
<line x1="143.3" y1="1826.2" x2="158.3" y2="1826.2" stroke="#1a1a1a" stroke-width="3.06"/><text class="t" x="133.3" y="1837.6" text-anchor="end">70</text>
<line x1="143.3" y1="1752.8" x2="158.3" y2="1752.8" stroke="#1a1a1a" stroke-width="3.06"/><text class="t" x="133.3" y="1764.2" text-anchor="end">100</text>
<line x1="208.2" y1="2413.8" x2="208.2" y2="2428.8" stroke="#000" stroke-width="3.06"/><text class="m" transform="translate(208.2 2434.8) rotate(-45)" text-anchor="end" x="0" y="13">85 (N= 5)</text>
<line x1="307.8" y1="2413.8" x2="307.8" y2="2428.8" stroke="#000" stroke-width="3.06"/><text class="m" transform="translate(307.8 2434.8) rotate(-45)" text-anchor="end" x="0" y="13">86 (N= 5)</text>
<line x1="407.5" y1="2413.8" x2="407.5" y2="2428.8" stroke="#000" stroke-width="3.06"/><text class="m" transform="translate(407.5 2434.8) rotate(-45)" text-anchor="end" x="0" y="13">87 (N=15)</text>
<line x1="507.1" y1="2413.8" x2="507.1" y2="2428.8" stroke="#000" stroke-width="3.06"/><text class="m" transform="translate(507.1 2434.8) rotate(-45)" text-anchor="end" x="0" y="13">88 (N= 5)</text>
<line x1="606.7" y1="2413.8" x2="606.7" y2="2428.8" stroke="#000" stroke-width="3.06"/><text class="m" transform="translate(606.7 2434.8) rotate(-45)" text-anchor="end" x="0" y="13">89 (N= 5)</text>
<line x1="706.4" y1="2413.8" x2="706.4" y2="2428.8" stroke="#000" stroke-width="3.06"/><text class="m" transform="translate(706.4 2434.8) rotate(-45)" text-anchor="end" x="0" y="13">90 (N=10)</text>
<line x1="806" y1="2413.8" x2="806" y2="2428.8" stroke="#000" stroke-width="3.06"/><text class="m" transform="translate(806 2434.8) rotate(-45)" text-anchor="end" x="0" y="13">91 (N= 5)</text>
<text class="l" x="507.1" y="2565.6" text-anchor="middle">Mask Batch</text>
<text class="yl" transform="translate(72 2083.3) rotate(-90)" text-anchor="middle">Passage (%)</text>
<text class="ti" x="507.1" y="1808.7" text-anchor="middle">N95</text>
<text class="pl" transform="translate(4.2 1781.8) scale(1.03 1)">c</text><text style="font-size:53.8px" transform="translate(28.7 1783.8) scale(1.283 1)">)</text>
</g>
<g id="panel-d">
<clipPath id="cp-d"><rect x="1113.8" y="1752.8" width="697.2" height="661"/></clipPath>
<rect x="1113.8" y="1752.8" width="697.2" height="220.1" fill="#eeeeee"/>
<line x1="1113.8" y1="2325.6" x2="1809.1" y2="2325.6" stroke="#d0d0d0" stroke-width="3.06" stroke-dasharray="3.06 5.049"/>
<line x1="1113.8" y1="2237.4" x2="1809.1" y2="2237.4" stroke="#d0d0d0" stroke-width="3.06" stroke-dasharray="3.06 5.049"/>
<line x1="1113.8" y1="2149.3" x2="1809.1" y2="2149.3" stroke="#d0d0d0" stroke-width="3.06" stroke-dasharray="3.06 5.049"/>
<line x1="1113.8" y1="2061.1" x2="1809.1" y2="2061.1" stroke="#d0d0d0" stroke-width="3.06" stroke-dasharray="3.06 5.049"/>
<line x1="1113.8" y1="1899.5" x2="1809.1" y2="1899.5" stroke="#d0d0d0" stroke-width="3.06" stroke-dasharray="3.06 5.049"/>
<line x1="1113.8" y1="1826.2" x2="1809.1" y2="1826.2" stroke="#d0d0d0" stroke-width="3.06" stroke-dasharray="3.06 5.049"/>
<line x1="1113.8" y1="1972" x2="1809.1" y2="1972" stroke="#dedede" stroke-width="1.8" stroke-dasharray="3.06 5.049"/>
<g clip-path="url(#cp-d)">
<path d="M1144.2 2403 L1144 2404.5 L1143.5 2406 L1142.7 2407.5 L1140 2409 L1137.7 2410 L1136.8 2410.5 L1134.3 2412 L1133.7 2412.5 L1132.7 2413.5 L1131.7 2415 L1165.7 2415 L1164.7 2413.5 L1163.7 2412.5 L1163.1 2412 L1160.6 2410.5 L1159.7 2410 L1157.5 2409 L1154.7 2407.5 L1153.9 2406 L1153.4 2404.5 L1153.2 2403 Z" fill="#4c7eab" stroke="#4a4a4a" stroke-width="1.8" stroke-linejoin="round"/>
<line x1="1148.7" y1="2403" x2="1148.7" y2="2413" stroke="#484848" stroke-width="1.6"/><line x1="1148.7" y1="2411.5" x2="1148.7" y2="2410.5" stroke="#484848" stroke-width="6" stroke-linecap="round"/><path d="M1211.7 2407 L1211.5 2408 L1211.1 2409 L1210.4 2410 L1207.8 2411 L1204.7 2412 L1203.1 2413 L1201.9 2414 L1201.4 2415 L1235.4 2415 L1235 2414 L1233.7 2413 L1232.2 2412 L1229.1 2411 L1226.4 2410 L1225.8 2409 L1225.3 2408 L1225.2 2407 Z" fill="#4c7eab" stroke="#4a4a4a" stroke-width="1.8" stroke-linejoin="round"/>
<line x1="1218.4" y1="2407" x2="1218.4" y2="2413" stroke="#484848" stroke-width="1.6"/><line x1="1218.4" y1="2412.5" x2="1218.4" y2="2410.5" stroke="#484848" stroke-width="6" stroke-linecap="round"/><path d="M1283.9 2313.8 L1283.9 2316.3 L1283.9 2318.8 L1283.8 2321.3 L1283.8 2323.8 L1283.7 2326.3 L1283.7 2328.8 L1283.6 2331.3 L1283.5 2333.9 L1283.4 2336.4 L1283.3 2338.9 L1283.2 2341.4 L1283.2 2342.5 L1283.1 2343.9 L1282.9 2346.4 L1282.7 2348.9 L1282.5 2351.4 L1282.2 2354 L1281.9 2356.5 L1281.6 2359 L1281.3 2361.5 L1280.9 2364 L1280.6 2366.5 L1280.2 2369 L1280.1 2370 L1279.8 2371.5 L1279.4 2374.1 L1279 2376.6 L1278.5 2379.1 L1278 2381.6 L1277.5 2384.1 L1276.9 2386.6 L1276.4 2389.1 L1276.3 2390 L1275.9 2391.6 L1275.3 2394.2 L1274.6 2396.7 L1274.1 2399.2 L1273.8 2401.7 L1273.8 2402.5 L1273.8 2404.2 L1273.8 2406.7 L1273.9 2409.2 L1274.2 2411.8 L1302.2 2411.8 L1302.4 2409.2 L1302.5 2406.7 L1302.6 2404.2 L1302.6 2402.5 L1302.5 2401.7 L1302.3 2399.2 L1301.7 2396.7 L1301.1 2394.2 L1300.4 2391.6 L1300.1 2390 L1299.9 2389.1 L1299.4 2386.6 L1298.9 2384.1 L1298.4 2381.6 L1297.9 2379.1 L1297.4 2376.6 L1296.9 2374.1 L1296.5 2371.5 L1296.3 2370 L1296.1 2369 L1295.8 2366.5 L1295.4 2364 L1295.1 2361.5 L1294.7 2359 L1294.4 2356.5 L1294.1 2354 L1293.8 2351.4 L1293.6 2348.9 L1293.4 2346.4 L1293.2 2343.9 L1293.2 2342.5 L1293.1 2341.4 L1293 2338.9 L1292.9 2336.4 L1292.8 2333.9 L1292.7 2331.3 L1292.7 2328.8 L1292.6 2326.3 L1292.5 2323.8 L1292.5 2321.3 L1292.4 2318.8 L1292.4 2316.3 L1292.4 2313.8 Z" fill="#4c7eab" stroke="#4a4a4a" stroke-width="1.8" stroke-linejoin="round"/>
<line x1="1288.2" y1="2401.2" x2="1288.2" y2="2411.2" stroke="#484848" stroke-width="1.6"/><line x1="1288.2" y1="2403.8" x2="1288.2" y2="2408.8" stroke="#484848" stroke-width="6" stroke-linecap="round"/><path d="M1353.6 2374.5 L1353.6 2377.2 L1353.4 2379.8 L1353.2 2382.5 L1352.9 2385 L1352.9 2385.1 L1352.2 2387.8 L1351.1 2390.5 L1349.8 2393.1 L1348.9 2395 L1348.5 2395.8 L1347.1 2398.4 L1345.5 2401.1 L1344.3 2403.8 L1343.9 2405 L1343.5 2406.4 L1343.1 2408.8 L1343.2 2409.1 L1344.9 2411.8 L1370.9 2411.8 L1372.6 2409.1 L1372.6 2408.8 L1372.3 2406.4 L1371.9 2405 L1371.5 2403.8 L1370.2 2401.1 L1368.7 2398.4 L1367.3 2395.8 L1366.9 2395 L1366 2393.1 L1364.7 2390.5 L1363.6 2387.8 L1362.9 2385.1 L1362.9 2385 L1362.6 2382.5 L1362.4 2379.8 L1362.2 2377.2 L1362.1 2374.5 Z" fill="#4c7eab" stroke="#4a4a4a" stroke-width="1.8" stroke-linejoin="round"/>
<line x1="1357.9" y1="2404" x2="1357.9" y2="2410" stroke="#484848" stroke-width="1.6"/><line x1="1357.9" y1="2406.5" x2="1357.9" y2="2407.5" stroke="#484848" stroke-width="6" stroke-linecap="round"/><path d="M1416.4 2381.8 L1413.8 2383.5 L1413.4 2384.2 L1412.7 2386.8 L1412.6 2387.5 L1412.8 2389.2 L1413.4 2391.8 L1414.3 2394.2 L1414.6 2395 L1415.4 2396.8 L1417 2399.2 L1418.5 2401.8 L1418.9 2402.5 L1419.6 2404.2 L1420.6 2406.8 L1421.4 2409.2 L1433.9 2409.2 L1434.7 2406.8 L1435.6 2404.2 L1436.4 2402.5 L1436.7 2401.8 L1438.2 2399.2 L1439.8 2396.8 L1440.6 2395 L1440.9 2394.2 L1441.8 2391.8 L1442.5 2389.2 L1442.6 2387.5 L1442.6 2386.8 L1441.8 2384.2 L1441.4 2383.5 L1438.9 2381.8 Z" fill="#4c7eab" stroke="#4a4a4a" stroke-width="1.8" stroke-linejoin="round"/>
<line x1="1427.6" y1="2383.8" x2="1427.6" y2="2395" stroke="#484848" stroke-width="1.6"/><line x1="1427.6" y1="2386.2" x2="1427.6" y2="2392.5" stroke="#484848" stroke-width="6" stroke-linecap="round"/><path d="M1491.1 2371.8 L1490.8 2374.4 L1490.2 2377.1 L1489.3 2379.7 L1489.2 2380 L1488.1 2382.3 L1486.3 2385 L1484.8 2387.5 L1484.8 2387.7 L1483.6 2390.3 L1482.8 2392.9 L1482.7 2393.8 L1482.8 2395.6 L1483.3 2398.2 L1511.3 2398.2 L1511.9 2395.6 L1511.9 2393.8 L1511.9 2392.9 L1511.1 2390.3 L1509.9 2387.7 L1509.8 2387.5 L1508.4 2385 L1506.6 2382.3 L1505.4 2380 L1505.3 2379.7 L1504.5 2377.1 L1503.9 2374.4 L1503.6 2371.8 Z" fill="#4c7eab" stroke="#4a4a4a" stroke-width="1.8" stroke-linejoin="round"/>
<line x1="1497.3" y1="2371.8" x2="1497.3" y2="2398.8" stroke="#484848" stroke-width="1.6"/><line x1="1497.3" y1="2383.8" x2="1497.3" y2="2396.2" stroke="#484848" stroke-width="6" stroke-linecap="round"/><path d="M1565.5 2348 L1565.4 2350.5 L1565.3 2353.1 L1565.1 2355.6 L1564.8 2358.2 L1564.5 2360.7 L1564.2 2363.2 L1564.1 2364.3 L1563.8 2365.8 L1563.3 2368.3 L1562.6 2370.9 L1561.8 2373.4 L1561 2375.6 L1560.8 2375.9 L1559.3 2378.5 L1557.2 2381 L1555.1 2383.6 L1553.5 2386.1 L1553.2 2387 L1552.6 2388.7 L1552.2 2391.2 L1552.2 2391.5 L1552.7 2393.7 L1554.1 2396.3 L1555.4 2398.3 L1555.7 2398.8 L1557.7 2401.4 L1560.3 2403.9 L1573.9 2403.9 L1576.4 2401.4 L1578.4 2398.8 L1578.8 2398.3 L1580.1 2396.3 L1581.5 2393.7 L1582 2391.5 L1582 2391.2 L1581.5 2388.7 L1581 2387 L1580.6 2386.1 L1579 2383.6 L1576.9 2381 L1574.9 2378.5 L1573.3 2375.9 L1573.2 2375.6 L1572.3 2373.4 L1571.5 2370.9 L1570.8 2368.3 L1570.3 2365.8 L1570.1 2364.3 L1569.9 2363.2 L1569.6 2360.7 L1569.3 2358.2 L1569 2355.6 L1568.8 2353.1 L1568.7 2350.5 L1568.7 2348 Z" fill="#4c7eab" stroke="#4a4a4a" stroke-width="1.8" stroke-linejoin="round"/>
<line x1="1567.1" y1="2364.3" x2="1567.1" y2="2403.9" stroke="#484848" stroke-width="1.6"/><line x1="1567.1" y1="2382.2" x2="1567.1" y2="2393.5" stroke="#484848" stroke-width="6" stroke-linecap="round"/><path d="M1626.6 2246.1 L1626.6 2248.6 L1626.6 2251.1 L1626.6 2253.7 L1626.6 2256.2 L1626.5 2258.7 L1626.5 2261.2 L1626.5 2263.7 L1626.5 2266.3 L1626.5 2268.8 L1626.4 2271.3 L1626.4 2273.8 L1626.4 2276.3 L1626.3 2278.9 L1626.3 2281.4 L1626.3 2283.9 L1626.2 2286.4 L1626.2 2289 L1626.1 2291.5 L1626.1 2294 L1626 2296.5 L1626 2299 L1625.9 2301.6 L1625.9 2304.1 L1625.8 2306.6 L1625.8 2307.7 L1625.7 2309.1 L1625.7 2311.6 L1625.5 2314.2 L1625.4 2316.7 L1625.2 2319.2 L1625.1 2321.7 L1624.9 2324.2 L1624.7 2326.8 L1624.5 2329.3 L1624.3 2331.8 L1624.1 2334.3 L1623.9 2336.8 L1623.7 2339.4 L1623.6 2341.6 L1623.6 2341.9 L1623.4 2344.4 L1623.2 2346.9 L1623 2349.5 L1622.8 2352 L1622.7 2354.5 L1622.5 2357 L1622.4 2359.5 L1622.3 2362.1 L1622.3 2364.3 L1622.3 2364.6 L1622.3 2367.1 L1622.3 2369.6 L1622.3 2372.1 L1622.3 2374.7 L1622.3 2377.2 L1622.3 2379.7 L1651.3 2379.7 L1651.3 2377.2 L1651.3 2374.7 L1651.3 2372.1 L1651.3 2369.6 L1651.3 2367.1 L1651.3 2364.6 L1651.3 2364.3 L1651.3 2362.1 L1651.2 2359.5 L1651.1 2357 L1650.9 2354.5 L1650.7 2352 L1650.6 2349.5 L1650.4 2346.9 L1650.2 2344.4 L1650 2341.9 L1650 2341.6 L1649.8 2339.4 L1649.7 2336.8 L1649.5 2334.3 L1649.3 2331.8 L1649.1 2329.3 L1648.9 2326.8 L1648.7 2324.2 L1648.5 2321.7 L1648.3 2319.2 L1648.2 2316.7 L1648 2314.2 L1647.9 2311.6 L1647.8 2309.1 L1647.8 2307.7 L1647.8 2306.6 L1647.7 2304.1 L1647.7 2301.6 L1647.6 2299 L1647.5 2296.5 L1647.5 2294 L1647.4 2291.5 L1647.4 2289 L1647.4 2286.4 L1647.3 2283.9 L1647.3 2281.4 L1647.2 2278.9 L1647.2 2276.3 L1647.2 2273.8 L1647.1 2271.3 L1647.1 2268.8 L1647.1 2266.3 L1647.1 2263.7 L1647 2261.2 L1647 2258.7 L1647 2256.2 L1647 2253.7 L1647 2251.1 L1647 2248.6 L1647 2246.1 Z" fill="#4c7eab" stroke="#4a4a4a" stroke-width="1.8" stroke-linejoin="round"/>
<line x1="1636.8" y1="2246.1" x2="1636.8" y2="2379.7" stroke="#484848" stroke-width="1.6"/><line x1="1636.8" y1="2259.2" x2="1636.8" y2="2375.4" stroke="#484848" stroke-width="6" stroke-linecap="round"/><path d="M1702.9 1929 L1702.9 1931.5 L1702.9 1934 L1702.9 1936.6 L1702.8 1939.1 L1702.8 1941.6 L1702.7 1944.1 L1702.7 1945.3 L1702.6 1946.6 L1702.3 1949.1 L1701.7 1951.7 L1701 1954.2 L1700.2 1956.7 L1699.5 1958.9 L1699.4 1959.2 L1698.4 1961.7 L1697.2 1964.3 L1696 1966.8 L1695 1969.3 L1694.5 1971.8 L1694.4 1972.5 L1694.3 1974.3 L1694.3 1976.9 L1694.2 1979.4 L1694.1 1981.9 L1694 1984.4 L1694 1986.9 L1693.9 1989.4 L1693.9 1992 L1693.8 1994.5 L1693.8 1997 L1693.7 1999.5 L1693.7 2002 L1693.6 2004.6 L1693.6 2007.1 L1693.6 2009.6 L1693.5 2012.1 L1693.5 2014.6 L1693.5 2017.1 L1693.5 2019.7 L1693.4 2022.2 L1693.4 2024.7 L1693.4 2027.2 L1693.4 2029.7 L1693.4 2032.3 L1693.3 2034.8 L1693.3 2037.3 L1693.3 2039.8 L1693.3 2042.3 L1693.3 2044.9 L1693.2 2047.4 L1693.2 2049.9 L1693.2 2052.4 L1693.2 2054.9 L1693.1 2057.4 L1693.1 2058.5 L1693.1 2060 L1693.1 2062.5 L1693 2065 L1693 2067.5 L1693 2070 L1692.9 2072.6 L1692.9 2075.1 L1692.8 2077.6 L1692.8 2080.1 L1692.8 2082.6 L1692.7 2085.2 L1692.7 2087.7 L1692.7 2090.2 L1692.6 2092.7 L1692.6 2095.2 L1692.6 2097.7 L1692.5 2100.3 L1692.5 2102.8 L1692.4 2105.3 L1692.4 2107.8 L1692.4 2110.3 L1692.4 2112.9 L1692.3 2115.4 L1692.3 2117.9 L1692.3 2120.4 L1692.2 2122.9 L1692.2 2125.4 L1692.2 2128 L1692.2 2130.5 L1692.2 2133 L1692.2 2135.5 L1692.1 2138 L1692.1 2140.6 L1692.1 2143.1 L1692.1 2145.6 L1692.1 2148.1 L1692.1 2149.1 L1692.1 2150.6 L1692.1 2153.2 L1692.1 2155.7 L1692.1 2158.2 L1692.1 2160.7 L1692.1 2163.2 L1692.1 2165.7 L1692.1 2168.3 L1692.1 2170.8 L1692.1 2173.3 L1692.1 2175.8 L1692.1 2178.3 L1692.1 2180.9 L1692.1 2183.4 L1692.1 2185.9 L1692.1 2188.4 L1692.1 2190.9 L1692.1 2193.4 L1692.1 2196 L1692.1 2198.5 L1692.1 2201 L1692.1 2203.5 L1692.1 2206 L1692.1 2208.6 L1692.1 2211.1 L1692.1 2213.6 L1692.1 2216.1 L1692.1 2218.6 L1692.1 2221.2 L1692.1 2223.7 L1692.1 2226.2 L1692.1 2228.7 L1692.1 2231.2 L1692.1 2233.7 L1692.1 2236.3 L1692.1 2238.8 L1692.1 2241.3 L1720.9 2241.3 L1720.9 2238.8 L1720.9 2236.3 L1720.9 2233.7 L1720.9 2231.2 L1720.9 2228.7 L1720.9 2226.2 L1720.9 2223.7 L1720.9 2221.2 L1720.9 2218.6 L1720.9 2216.1 L1720.9 2213.6 L1720.9 2211.1 L1720.9 2208.6 L1720.9 2206 L1720.9 2203.5 L1720.9 2201 L1720.9 2198.5 L1720.9 2196 L1720.9 2193.4 L1720.9 2190.9 L1720.9 2188.4 L1720.9 2185.9 L1720.9 2183.4 L1720.9 2180.9 L1720.9 2178.3 L1720.9 2175.8 L1720.9 2173.3 L1720.9 2170.8 L1720.9 2168.3 L1720.9 2165.7 L1720.9 2163.2 L1720.9 2160.7 L1720.9 2158.2 L1720.9 2155.7 L1720.9 2153.2 L1720.9 2150.6 L1720.9 2149.1 L1720.9 2148.1 L1720.9 2145.6 L1720.9 2143.1 L1720.9 2140.6 L1720.9 2138 L1720.9 2135.5 L1720.9 2133 L1720.8 2130.5 L1720.8 2128 L1720.8 2125.4 L1720.8 2122.9 L1720.8 2120.4 L1720.7 2117.9 L1720.7 2115.4 L1720.7 2112.9 L1720.6 2110.3 L1720.6 2107.8 L1720.6 2105.3 L1720.5 2102.8 L1720.5 2100.3 L1720.5 2097.7 L1720.4 2095.2 L1720.4 2092.7 L1720.4 2090.2 L1720.3 2087.7 L1720.3 2085.2 L1720.3 2082.6 L1720.2 2080.1 L1720.2 2077.6 L1720.1 2075.1 L1720.1 2072.6 L1720.1 2070 L1720 2067.5 L1720 2065 L1720 2062.5 L1719.9 2060 L1719.9 2058.5 L1719.9 2057.4 L1719.9 2054.9 L1719.8 2052.4 L1719.8 2049.9 L1719.8 2047.4 L1719.8 2044.9 L1719.7 2042.3 L1719.7 2039.8 L1719.7 2037.3 L1719.7 2034.8 L1719.7 2032.3 L1719.7 2029.7 L1719.6 2027.2 L1719.6 2024.7 L1719.6 2022.2 L1719.6 2019.7 L1719.5 2017.1 L1719.5 2014.6 L1719.5 2012.1 L1719.5 2009.6 L1719.4 2007.1 L1719.4 2004.6 L1719.4 2002 L1719.3 1999.5 L1719.3 1997 L1719.2 1994.5 L1719.2 1992 L1719.1 1989.4 L1719.1 1986.9 L1719 1984.4 L1718.9 1981.9 L1718.8 1979.4 L1718.8 1976.9 L1718.7 1974.3 L1718.6 1972.5 L1718.6 1971.8 L1718 1969.3 L1717 1966.8 L1715.8 1964.3 L1714.6 1961.7 L1713.6 1959.2 L1713.5 1958.9 L1712.8 1956.7 L1712.1 1954.2 L1711.3 1951.7 L1710.8 1949.1 L1710.4 1946.6 L1710.3 1945.3 L1710.3 1944.1 L1710.2 1941.6 L1710.2 1939.1 L1710.2 1936.6 L1710.1 1934 L1710.1 1931.5 L1710.1 1929 Z" fill="#4c7eab" stroke="#4a4a4a" stroke-width="1.8" stroke-linejoin="round"/>
<line x1="1706.5" y1="1972.5" x2="1706.5" y2="2241.3" stroke="#484848" stroke-width="1.6"/><line x1="1706.5" y1="2011.2" x2="1706.5" y2="2235" stroke="#484848" stroke-width="6" stroke-linecap="round"/><path d="M1771.7 1938.5 L1769.5 1941.1 L1767.5 1943.7 L1766.3 1945.3 L1765.6 1946.3 L1763.6 1948.9 L1761.9 1951.5 L1761 1954.2 L1761 1954.4 L1761.3 1956.8 L1762.2 1959.4 L1763.2 1962 L1763.7 1963.4 L1764.1 1964.6 L1765.1 1967.2 L1766 1969.8 L1786.4 1969.8 L1787.4 1967.2 L1788.3 1964.6 L1788.7 1963.4 L1789.3 1962 L1790.3 1959.4 L1791.1 1956.8 L1791.4 1954.4 L1791.4 1954.2 L1790.6 1951.5 L1788.9 1948.9 L1786.9 1946.3 L1786.1 1945.3 L1785 1943.7 L1783 1941.1 L1780.7 1938.5 Z" fill="#4c7eab" stroke="#4a4a4a" stroke-width="1.8" stroke-linejoin="round"/>
<line x1="1776.2" y1="1938.5" x2="1776.2" y2="1969.8" stroke="#484848" stroke-width="1.6"/><line x1="1776.2" y1="1952.8" x2="1776.2" y2="1965.5" stroke="#484848" stroke-width="6" stroke-linecap="round"/></g>
<line x1="1113.8" y1="2369.7" x2="1809.1" y2="2369.7" stroke="#000" stroke-width="3.75" stroke-dasharray="13.59 5.87"/>
<rect x="1113.8" y="1752.8" width="697.2" height="661" fill="none" stroke="#000" stroke-width="3.06"/>
<g><circle cx="1148.7" cy="2411.2" r="1.15" fill="#fff"/><circle cx="1218.4" cy="2411.8" r="1.15" fill="#fff"/><circle cx="1288.2" cy="2409.2" r="1.15" fill="#fff"/><circle cx="1357.9" cy="2407" r="1.15" fill="#fff"/><circle cx="1427.6" cy="2394.2" r="1.15" fill="#fff"/><circle cx="1497.3" cy="2393" r="1.15" fill="#fff"/><circle cx="1567.1" cy="2387.6" r="1.15" fill="#fff"/><circle cx="1636.8" cy="2367" r="1.15" fill="#fff"/><circle cx="1706.5" cy="2180.2" r="1.15" fill="#fff"/><circle cx="1776.2" cy="1955" r="1.15" fill="#fff"/></g>
<line x1="1098.8" y1="2413.8" x2="1113.8" y2="2413.8" stroke="#1a1a1a" stroke-width="3.06"/><text class="t" x="1088.8" y="2425.2" text-anchor="end">0</text>
<line x1="1098.8" y1="2325.6" x2="1113.8" y2="2325.6" stroke="#1a1a1a" stroke-width="3.06"/><text class="t" x="1088.8" y="2337" text-anchor="end">2</text>
<line x1="1098.8" y1="2237.4" x2="1113.8" y2="2237.4" stroke="#1a1a1a" stroke-width="3.06"/><text class="t" x="1088.8" y="2248.8" text-anchor="end">4</text>
<line x1="1098.8" y1="2149.3" x2="1113.8" y2="2149.3" stroke="#1a1a1a" stroke-width="3.06"/><text class="t" x="1088.8" y="2160.7" text-anchor="end">6</text>
<line x1="1098.8" y1="2061.1" x2="1113.8" y2="2061.1" stroke="#1a1a1a" stroke-width="3.06"/><text class="t" x="1088.8" y="2072.5" text-anchor="end">8</text>
<line x1="1098.8" y1="1972.9" x2="1113.8" y2="1972.9" stroke="#1a1a1a" stroke-width="3.06"/><text class="t" x="1088.8" y="1984.3" text-anchor="end">10</text>
<line x1="1098.8" y1="1899.5" x2="1113.8" y2="1899.5" stroke="#1a1a1a" stroke-width="3.06"/><text class="t" x="1088.8" y="1910.9" text-anchor="end">40</text>
<line x1="1098.8" y1="1826.2" x2="1113.8" y2="1826.2" stroke="#1a1a1a" stroke-width="3.06"/><text class="t" x="1088.8" y="1837.6" text-anchor="end">70</text>
<line x1="1098.8" y1="1752.8" x2="1113.8" y2="1752.8" stroke="#1a1a1a" stroke-width="3.06"/><text class="t" x="1088.8" y="1764.2" text-anchor="end">100</text>
<line x1="1148.7" y1="2413.8" x2="1148.7" y2="2428.8" stroke="#000" stroke-width="3.06"/><text class="m" transform="translate(1148.7 2434.8) rotate(-45)" text-anchor="end" x="0" y="13">92 (N= 5)</text>
<line x1="1218.4" y1="2413.8" x2="1218.4" y2="2428.8" stroke="#000" stroke-width="3.06"/><text class="m" transform="translate(1218.4 2434.8) rotate(-45)" text-anchor="end" x="0" y="13">93 (N=10)</text>
<line x1="1288.2" y1="2413.8" x2="1288.2" y2="2428.8" stroke="#000" stroke-width="3.06"/><text class="m" transform="translate(1288.2 2434.8) rotate(-45)" text-anchor="end" x="0" y="13">94 (N= 5)</text>
<line x1="1357.9" y1="2413.8" x2="1357.9" y2="2428.8" stroke="#000" stroke-width="3.06"/><text class="m" transform="translate(1357.9 2434.8) rotate(-45)" text-anchor="end" x="0" y="13">95 (N= 5)</text>
<line x1="1427.6" y1="2413.8" x2="1427.6" y2="2428.8" stroke="#000" stroke-width="3.06"/><text class="m" transform="translate(1427.6 2434.8) rotate(-45)" text-anchor="end" x="0" y="13">96 (N= 5)</text>
<line x1="1497.3" y1="2413.8" x2="1497.3" y2="2428.8" stroke="#000" stroke-width="3.06"/><text class="m" transform="translate(1497.3 2434.8) rotate(-45)" text-anchor="end" x="0" y="13">97 (N= 5)</text>
<line x1="1567.1" y1="2413.8" x2="1567.1" y2="2428.8" stroke="#000" stroke-width="3.06"/><text class="m" transform="translate(1567.1 2434.8) rotate(-45)" text-anchor="end" x="0" y="13">98 (N=30)</text>
<line x1="1636.8" y1="2413.8" x2="1636.8" y2="2428.8" stroke="#000" stroke-width="3.06"/><text class="m" transform="translate(1636.8 2434.8) rotate(-45)" text-anchor="end" x="0" y="13">99 (N= 5)</text>
<line x1="1706.5" y1="2413.8" x2="1706.5" y2="2428.8" stroke="#000" stroke-width="3.06"/><text class="m" transform="translate(1706.5 2434.8) rotate(-45)" text-anchor="end" x="0" y="13">100 (N= 6)</text>
<line x1="1776.2" y1="2413.8" x2="1776.2" y2="2428.8" stroke="#000" stroke-width="3.06"/><text class="m" transform="translate(1776.2 2434.8) rotate(-45)" text-anchor="end" x="0" y="13">101 (N=10)</text>
<text class="l" x="1462.5" y="2565.6" text-anchor="middle">Mask Batch</text>
<text class="yl" transform="translate(1027.5 2083.3) rotate(-90)" text-anchor="middle">Passage (%)</text>
<text class="ti" x="1462.5" y="1808.7" text-anchor="middle">FFP3</text>
<text class="pl" transform="translate(954 1781.8) scale(1.03 1)">d</text><text style="font-size:53.8px" transform="translate(983.8 1783.8) scale(1.283 1)">)</text>
</g>
</svg>
</body></html>
